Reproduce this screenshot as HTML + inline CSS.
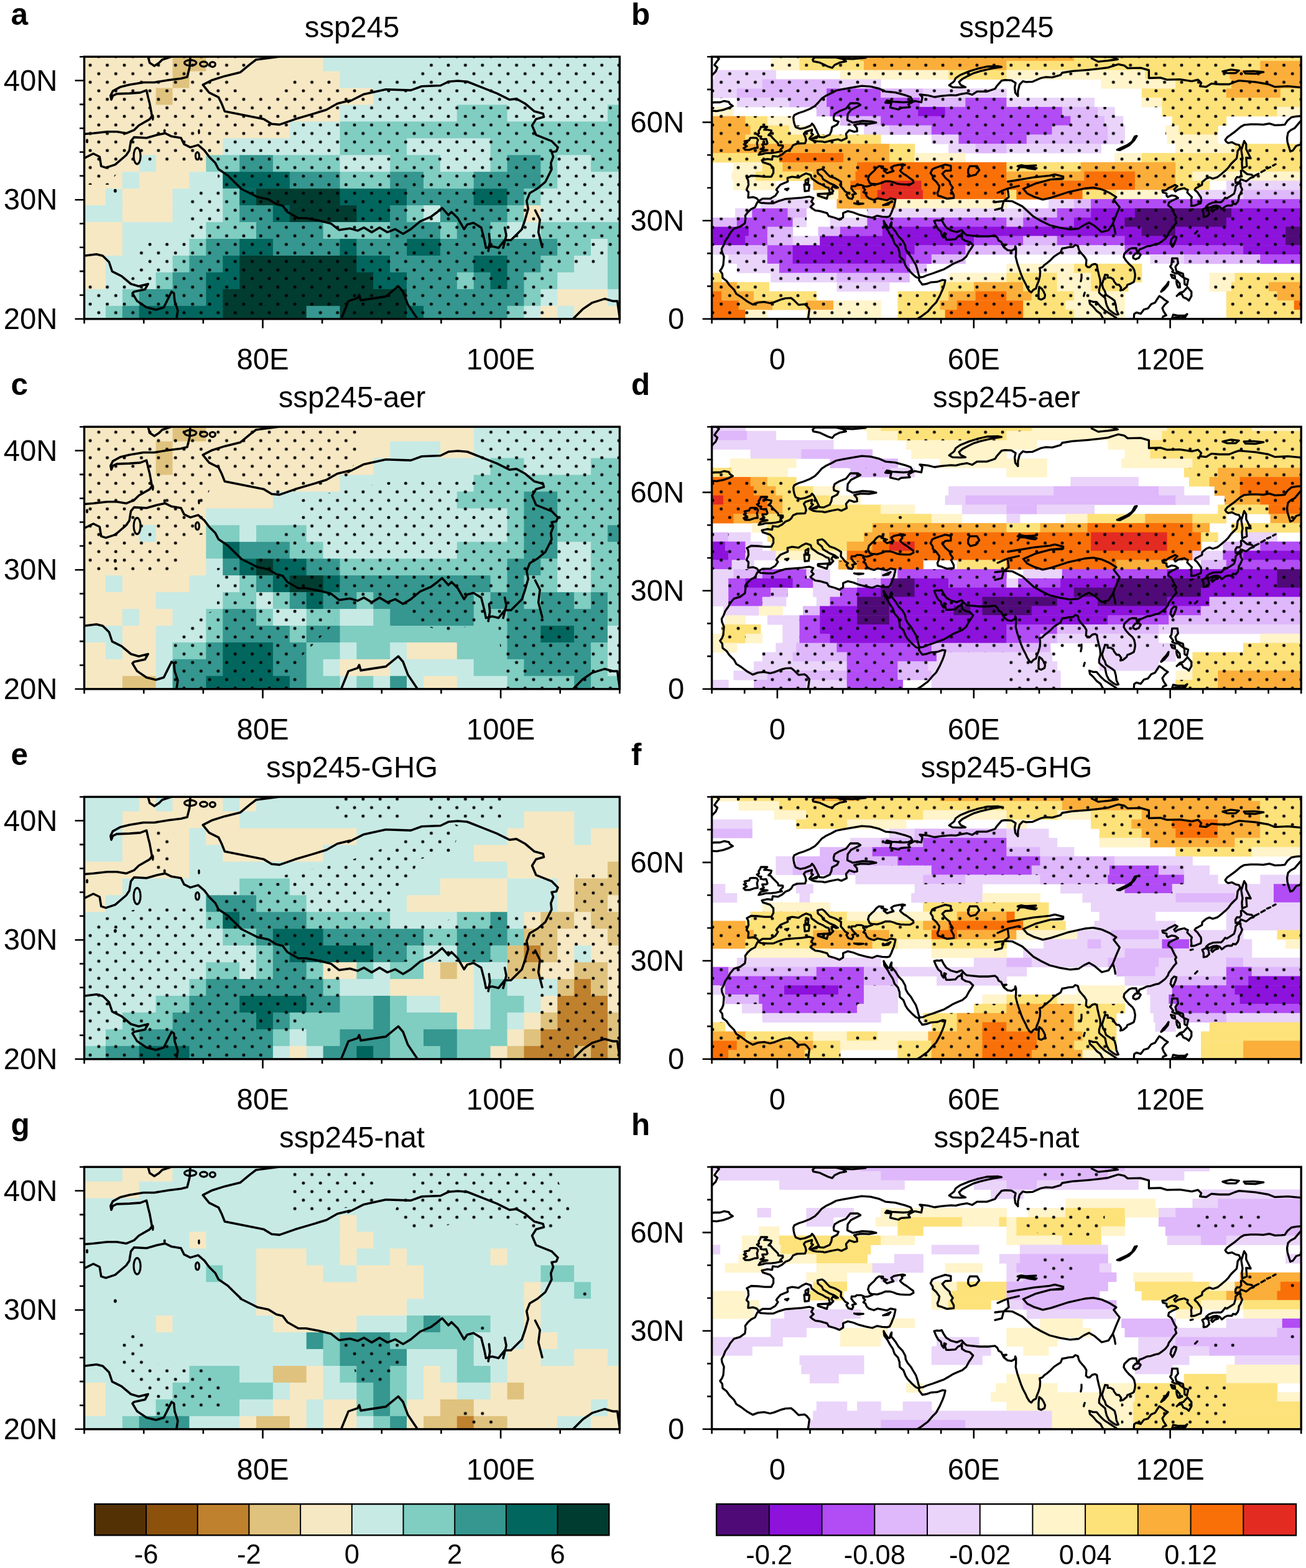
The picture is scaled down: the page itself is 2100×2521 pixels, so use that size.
<!DOCTYPE html><html><head><meta charset="utf-8"><title>figure</title>
<style>html,body{margin:0;padding:0;background:#fff;}svg{display:block}</style></head><body>
<svg width="2100" height="2521" viewBox="0 0 2100 2521">
<rect width="2100" height="2521" fill="#fff"/>
<defs>
<pattern id="dots" patternUnits="userSpaceOnUse" x="145.1" y="104.8" width="27.42" height="27.44"><circle cx="0" cy="0" r="2.45"/><circle cx="27.42" cy="0" r="2.45"/><circle cx="0" cy="27.44" r="2.45"/><circle cx="27.42" cy="27.44" r="2.45"/><circle cx="13.71" cy="13.72" r="2.45"/></pattern>
</defs>
<rect x="135.5" y="91.2" width="142.6" height="24" fill="#f6e8c3"/>
<rect x="277.5" y="91.2" width="54.4" height="24" fill="#dfc27d"/>
<rect x="331.3" y="91.2" width="188.9" height="24" fill="#f6e8c3"/>
<rect x="519.6" y="91.2" width="477.4" height="24" fill="#c7eae5"/>
<rect x="135.5" y="114.6" width="142.6" height="27.5" fill="#f6e8c3"/>
<rect x="277.5" y="114.6" width="27.5" height="27.5" fill="#dfc27d"/>
<rect x="304.4" y="114.6" width="242.7" height="27.5" fill="#f6e8c3"/>
<rect x="546.5" y="114.6" width="450.5" height="27.5" fill="#c7eae5"/>
<rect x="135.5" y="141.5" width="115.7" height="27.5" fill="#f6e8c3"/>
<rect x="250.6" y="141.5" width="27.5" height="27.5" fill="#dfc27d"/>
<rect x="277.5" y="141.5" width="323.4" height="27.5" fill="#f6e8c3"/>
<rect x="600.3" y="141.5" width="396.7" height="27.5" fill="#c7eae5"/>
<rect x="135.5" y="168.5" width="411.6" height="27.5" fill="#f6e8c3"/>
<rect x="546.5" y="168.5" width="188.9" height="27.5" fill="#c7eae5"/>
<rect x="734.8" y="168.5" width="81.3" height="27.5" fill="#80cdc1"/>
<rect x="815.6" y="168.5" width="162" height="27.5" fill="#c7eae5"/>
<rect x="977" y="168.5" width="20" height="27.5" fill="#80cdc1"/>
<rect x="135.5" y="195.4" width="330.9" height="27.5" fill="#f6e8c3"/>
<rect x="465.8" y="195.4" width="81.3" height="27.5" fill="#c7eae5"/>
<rect x="546.5" y="195.4" width="450.5" height="27.5" fill="#80cdc1"/>
<rect x="135.5" y="222.4" width="223.3" height="27.5" fill="#f6e8c3"/>
<rect x="358.2" y="222.4" width="188.9" height="27.5" fill="#c7eae5"/>
<rect x="546.5" y="222.4" width="108.2" height="27.5" fill="#80cdc1"/>
<rect x="654.1" y="222.4" width="135.1" height="27.5" fill="#c7eae5"/>
<rect x="788.6" y="222.4" width="208.4" height="27.5" fill="#80cdc1"/>
<rect x="135.5" y="249.3" width="88.8" height="27.5" fill="#f6e8c3"/>
<rect x="223.7" y="249.3" width="27.5" height="27.5" fill="#c7eae5"/>
<rect x="250.6" y="249.3" width="81.3" height="27.5" fill="#f6e8c3"/>
<rect x="331.3" y="249.3" width="54.4" height="27.5" fill="#80cdc1"/>
<rect x="385.1" y="249.3" width="54.4" height="27.5" fill="#35978f"/>
<rect x="438.9" y="249.3" width="108.2" height="27.5" fill="#80cdc1"/>
<rect x="546.5" y="249.3" width="81.3" height="27.5" fill="#c7eae5"/>
<rect x="627.2" y="249.3" width="81.3" height="27.5" fill="#80cdc1"/>
<rect x="707.9" y="249.3" width="81.3" height="27.5" fill="#c7eae5"/>
<rect x="788.6" y="249.3" width="27.5" height="27.5" fill="#80cdc1"/>
<rect x="815.6" y="249.3" width="54.4" height="27.5" fill="#35978f"/>
<rect x="869.4" y="249.3" width="27.5" height="27.5" fill="#80cdc1"/>
<rect x="896.3" y="249.3" width="54.4" height="27.5" fill="#c7eae5"/>
<rect x="950.1" y="249.3" width="46.9" height="27.5" fill="#80cdc1"/>
<rect x="135.5" y="276.2" width="61.9" height="27.5" fill="#f6e8c3"/>
<rect x="196.8" y="276.2" width="27.5" height="27.5" fill="#c7eae5"/>
<rect x="223.7" y="276.2" width="81.3" height="27.5" fill="#f6e8c3"/>
<rect x="304.4" y="276.2" width="54.4" height="27.5" fill="#c7eae5"/>
<rect x="358.2" y="276.2" width="108.2" height="27.5" fill="#01665e"/>
<rect x="465.8" y="276.2" width="81.3" height="27.5" fill="#35978f"/>
<rect x="546.5" y="276.2" width="81.3" height="27.5" fill="#80cdc1"/>
<rect x="627.2" y="276.2" width="54.4" height="27.5" fill="#35978f"/>
<rect x="681" y="276.2" width="81.3" height="27.5" fill="#80cdc1"/>
<rect x="761.7" y="276.2" width="108.2" height="27.5" fill="#35978f"/>
<rect x="869.4" y="276.2" width="27.5" height="27.5" fill="#80cdc1"/>
<rect x="896.3" y="276.2" width="100.7" height="27.5" fill="#c7eae5"/>
<rect x="135.5" y="303.2" width="35" height="27.5" fill="#f6e8c3"/>
<rect x="169.9" y="303.2" width="27.5" height="27.5" fill="#c7eae5"/>
<rect x="196.8" y="303.2" width="81.3" height="27.5" fill="#f6e8c3"/>
<rect x="277.5" y="303.2" width="81.3" height="27.5" fill="#c7eae5"/>
<rect x="358.2" y="303.2" width="27.5" height="27.5" fill="#80cdc1"/>
<rect x="385.1" y="303.2" width="27.5" height="27.5" fill="#01665e"/>
<rect x="412" y="303.2" width="135.1" height="27.5" fill="#003c30"/>
<rect x="546.5" y="303.2" width="108.2" height="27.5" fill="#01665e"/>
<rect x="654.1" y="303.2" width="108.2" height="27.5" fill="#35978f"/>
<rect x="761.7" y="303.2" width="54.4" height="27.5" fill="#01665e"/>
<rect x="815.6" y="303.2" width="27.5" height="27.5" fill="#35978f"/>
<rect x="842.5" y="303.2" width="27.5" height="27.5" fill="#80cdc1"/>
<rect x="869.4" y="303.2" width="127.6" height="27.5" fill="#c7eae5"/>
<rect x="135.5" y="330.1" width="61.9" height="27.5" fill="#c7eae5"/>
<rect x="196.8" y="330.1" width="81.3" height="27.5" fill="#f6e8c3"/>
<rect x="277.5" y="330.1" width="81.3" height="27.5" fill="#c7eae5"/>
<rect x="358.2" y="330.1" width="27.5" height="27.5" fill="#80cdc1"/>
<rect x="385.1" y="330.1" width="54.4" height="27.5" fill="#35978f"/>
<rect x="438.9" y="330.1" width="27.5" height="27.5" fill="#01665e"/>
<rect x="465.8" y="330.1" width="108.2" height="27.5" fill="#003c30"/>
<rect x="573.4" y="330.1" width="54.4" height="27.5" fill="#01665e"/>
<rect x="627.2" y="330.1" width="27.5" height="27.5" fill="#35978f"/>
<rect x="654.1" y="330.1" width="27.5" height="27.5" fill="#80cdc1"/>
<rect x="681" y="330.1" width="27.5" height="27.5" fill="#c7eae5"/>
<rect x="707.9" y="330.1" width="108.2" height="27.5" fill="#35978f"/>
<rect x="815.6" y="330.1" width="27.5" height="27.5" fill="#80cdc1"/>
<rect x="842.5" y="330.1" width="27.5" height="27.5" fill="#f6e8c3"/>
<rect x="869.4" y="330.1" width="127.6" height="27.5" fill="#c7eae5"/>
<rect x="135.5" y="357.1" width="61.9" height="27.5" fill="#f6e8c3"/>
<rect x="196.8" y="357.1" width="135.1" height="27.5" fill="#c7eae5"/>
<rect x="331.3" y="357.1" width="81.3" height="27.5" fill="#80cdc1"/>
<rect x="412" y="357.1" width="108.2" height="27.5" fill="#35978f"/>
<rect x="519.6" y="357.1" width="108.2" height="27.5" fill="#80cdc1"/>
<rect x="627.2" y="357.1" width="81.3" height="27.5" fill="#35978f"/>
<rect x="707.9" y="357.1" width="27.5" height="27.5" fill="#80cdc1"/>
<rect x="734.8" y="357.1" width="54.4" height="27.5" fill="#35978f"/>
<rect x="788.6" y="357.1" width="27.5" height="27.5" fill="#80cdc1"/>
<rect x="815.6" y="357.1" width="54.4" height="27.5" fill="#c7eae5"/>
<rect x="869.4" y="357.1" width="127.6" height="27.5" fill="#80cdc1"/>
<rect x="135.5" y="384" width="61.9" height="27.5" fill="#f6e8c3"/>
<rect x="196.8" y="384" width="108.2" height="27.5" fill="#c7eae5"/>
<rect x="304.4" y="384" width="27.5" height="27.5" fill="#80cdc1"/>
<rect x="331.3" y="384" width="54.4" height="27.5" fill="#35978f"/>
<rect x="385.1" y="384" width="54.4" height="27.5" fill="#01665e"/>
<rect x="438.9" y="384" width="108.2" height="27.5" fill="#35978f"/>
<rect x="546.5" y="384" width="27.5" height="27.5" fill="#01665e"/>
<rect x="573.4" y="384" width="81.3" height="27.5" fill="#35978f"/>
<rect x="654.1" y="384" width="54.4" height="27.5" fill="#01665e"/>
<rect x="707.9" y="384" width="188.9" height="27.5" fill="#35978f"/>
<rect x="896.3" y="384" width="54.4" height="27.5" fill="#80cdc1"/>
<rect x="950.1" y="384" width="27.5" height="27.5" fill="#c7eae5"/>
<rect x="977" y="384" width="20" height="27.5" fill="#80cdc1"/>
<rect x="135.5" y="411" width="35" height="27.5" fill="#f6e8c3"/>
<rect x="169.9" y="411" width="108.2" height="27.5" fill="#c7eae5"/>
<rect x="277.5" y="411" width="27.5" height="27.5" fill="#80cdc1"/>
<rect x="304.4" y="411" width="54.4" height="27.5" fill="#35978f"/>
<rect x="358.2" y="411" width="27.5" height="27.5" fill="#01665e"/>
<rect x="385.1" y="411" width="188.9" height="27.5" fill="#003c30"/>
<rect x="573.4" y="411" width="54.4" height="27.5" fill="#01665e"/>
<rect x="627.2" y="411" width="135.1" height="27.5" fill="#35978f"/>
<rect x="761.7" y="411" width="54.4" height="27.5" fill="#01665e"/>
<rect x="815.6" y="411" width="54.4" height="27.5" fill="#35978f"/>
<rect x="869.4" y="411" width="54.4" height="27.5" fill="#80cdc1"/>
<rect x="923.2" y="411" width="54.4" height="27.5" fill="#c7eae5"/>
<rect x="977" y="411" width="20" height="27.5" fill="#80cdc1"/>
<rect x="135.5" y="437.9" width="35" height="27.5" fill="#f6e8c3"/>
<rect x="169.9" y="437.9" width="81.3" height="27.5" fill="#c7eae5"/>
<rect x="250.6" y="437.9" width="27.5" height="27.5" fill="#80cdc1"/>
<rect x="277.5" y="437.9" width="54.4" height="27.5" fill="#35978f"/>
<rect x="331.3" y="437.9" width="54.4" height="27.5" fill="#01665e"/>
<rect x="385.1" y="437.9" width="215.8" height="27.5" fill="#003c30"/>
<rect x="600.3" y="437.9" width="54.4" height="27.5" fill="#01665e"/>
<rect x="654.1" y="437.9" width="81.3" height="27.5" fill="#35978f"/>
<rect x="734.8" y="437.9" width="27.5" height="27.5" fill="#80cdc1"/>
<rect x="761.7" y="437.9" width="27.5" height="27.5" fill="#35978f"/>
<rect x="788.6" y="437.9" width="27.5" height="27.5" fill="#01665e"/>
<rect x="815.6" y="437.9" width="27.5" height="27.5" fill="#35978f"/>
<rect x="842.5" y="437.9" width="54.4" height="27.5" fill="#80cdc1"/>
<rect x="896.3" y="437.9" width="81.3" height="27.5" fill="#c7eae5"/>
<rect x="977" y="437.9" width="20" height="27.5" fill="#80cdc1"/>
<rect x="135.5" y="464.9" width="61.9" height="27.5" fill="#c7eae5"/>
<rect x="196.8" y="464.9" width="27.5" height="27.5" fill="#80cdc1"/>
<rect x="223.7" y="464.9" width="108.2" height="27.5" fill="#35978f"/>
<rect x="331.3" y="464.9" width="27.5" height="27.5" fill="#01665e"/>
<rect x="358.2" y="464.9" width="296.5" height="27.5" fill="#003c30"/>
<rect x="654.1" y="464.9" width="188.9" height="27.5" fill="#35978f"/>
<rect x="842.5" y="464.9" width="27.5" height="27.5" fill="#80cdc1"/>
<rect x="869.4" y="464.9" width="27.5" height="27.5" fill="#c7eae5"/>
<rect x="896.3" y="464.9" width="81.3" height="27.5" fill="#f6e8c3"/>
<rect x="977" y="464.9" width="20" height="27.5" fill="#c7eae5"/>
<rect x="135.5" y="491.8" width="35" height="21.6" fill="#c7eae5"/>
<rect x="169.9" y="491.8" width="27.5" height="21.6" fill="#80cdc1"/>
<rect x="196.8" y="491.8" width="27.5" height="21.6" fill="#35978f"/>
<rect x="223.7" y="491.8" width="135.1" height="21.6" fill="#01665e"/>
<rect x="358.2" y="491.8" width="135.1" height="21.6" fill="#003c30"/>
<rect x="492.7" y="491.8" width="54.4" height="21.6" fill="#35978f"/>
<rect x="546.5" y="491.8" width="108.2" height="21.6" fill="#003c30"/>
<rect x="654.1" y="491.8" width="27.5" height="21.6" fill="#01665e"/>
<rect x="681" y="491.8" width="135.1" height="21.6" fill="#35978f"/>
<rect x="815.6" y="491.8" width="27.5" height="21.6" fill="#80cdc1"/>
<rect x="842.5" y="491.8" width="27.5" height="21.6" fill="#c7eae5"/>
<rect x="869.4" y="491.8" width="27.5" height="21.6" fill="#f6e8c3"/>
<rect x="896.3" y="491.8" width="27.5" height="21.6" fill="#c7eae5"/>
<rect x="923.2" y="491.8" width="73.8" height="21.6" fill="#f6e8c3"/>
<mask id="mL0" maskUnits="userSpaceOnUse" x="0" y="0" width="2100" height="2521">
<polygon points="130,86 1002,86 1002,520 130,520" fill="#fff"/>
<polygon points="405,91 700,91 680,113 668,126 604,126 604,140 542,140 542,126 466,126 452,153 390,153 384,140 370,126 372,113 405,108" fill="#000"/>
<polygon points="135,297 175,297 200,262 350,262 350,303 300,303 300,386 225,386 220,440 205,452 135,452" fill="#000"/>
<polygon points="997,412 960,412 960,428 900,428 895,444 893,513 997,513" fill="#000"/>
</mask>
<rect x="135.5" y="91.2" width="860.9" height="421.6" fill="url(#dots)" mask="url(#mL0)"/>
<rect x="135.5" y="686.2" width="142.6" height="24" fill="#f6e8c3"/>
<rect x="277.5" y="686.2" width="54.4" height="24" fill="#dfc27d"/>
<rect x="331.3" y="686.2" width="431" height="24" fill="#f6e8c3"/>
<rect x="761.7" y="686.2" width="235.3" height="24" fill="#c7eae5"/>
<rect x="135.5" y="709.6" width="115.7" height="27.5" fill="#f6e8c3"/>
<rect x="250.6" y="709.6" width="27.5" height="27.5" fill="#dfc27d"/>
<rect x="277.5" y="709.6" width="350.3" height="27.5" fill="#f6e8c3"/>
<rect x="627.2" y="709.6" width="81.3" height="27.5" fill="#c7eae5"/>
<rect x="707.9" y="709.6" width="54.4" height="27.5" fill="#f6e8c3"/>
<rect x="761.7" y="709.6" width="235.3" height="27.5" fill="#c7eae5"/>
<rect x="135.5" y="736.5" width="115.7" height="27.5" fill="#f6e8c3"/>
<rect x="250.6" y="736.5" width="27.5" height="27.5" fill="#dfc27d"/>
<rect x="277.5" y="736.5" width="323.4" height="27.5" fill="#f6e8c3"/>
<rect x="600.3" y="736.5" width="188.9" height="27.5" fill="#c7eae5"/>
<rect x="788.6" y="736.5" width="54.4" height="27.5" fill="#80cdc1"/>
<rect x="842.5" y="736.5" width="108.2" height="27.5" fill="#c7eae5"/>
<rect x="950.1" y="736.5" width="46.9" height="27.5" fill="#80cdc1"/>
<rect x="135.5" y="763.5" width="411.6" height="27.5" fill="#f6e8c3"/>
<rect x="546.5" y="763.5" width="215.8" height="27.5" fill="#c7eae5"/>
<rect x="761.7" y="763.5" width="235.3" height="27.5" fill="#80cdc1"/>
<rect x="135.5" y="790.4" width="304" height="27.5" fill="#f6e8c3"/>
<rect x="438.9" y="790.4" width="296.5" height="27.5" fill="#c7eae5"/>
<rect x="734.8" y="790.4" width="108.2" height="27.5" fill="#80cdc1"/>
<rect x="842.5" y="790.4" width="54.4" height="27.5" fill="#35978f"/>
<rect x="896.3" y="790.4" width="100.7" height="27.5" fill="#80cdc1"/>
<rect x="135.5" y="817.4" width="196.4" height="27.5" fill="#f6e8c3"/>
<rect x="331.3" y="817.4" width="484.9" height="27.5" fill="#c7eae5"/>
<rect x="815.6" y="817.4" width="27.5" height="27.5" fill="#80cdc1"/>
<rect x="842.5" y="817.4" width="54.4" height="27.5" fill="#35978f"/>
<rect x="896.3" y="817.4" width="100.7" height="27.5" fill="#80cdc1"/>
<rect x="135.5" y="844.3" width="88.8" height="27.5" fill="#f6e8c3"/>
<rect x="223.7" y="844.3" width="27.5" height="27.5" fill="#c7eae5"/>
<rect x="250.6" y="844.3" width="81.3" height="27.5" fill="#f6e8c3"/>
<rect x="331.3" y="844.3" width="54.4" height="27.5" fill="#80cdc1"/>
<rect x="385.1" y="844.3" width="27.5" height="27.5" fill="#c7eae5"/>
<rect x="412" y="844.3" width="81.3" height="27.5" fill="#80cdc1"/>
<rect x="492.7" y="844.3" width="323.4" height="27.5" fill="#c7eae5"/>
<rect x="815.6" y="844.3" width="27.5" height="27.5" fill="#80cdc1"/>
<rect x="842.5" y="844.3" width="54.4" height="27.5" fill="#35978f"/>
<rect x="896.3" y="844.3" width="81.3" height="27.5" fill="#80cdc1"/>
<rect x="977" y="844.3" width="20" height="27.5" fill="#35978f"/>
<rect x="135.5" y="871.2" width="196.4" height="27.5" fill="#f6e8c3"/>
<rect x="331.3" y="871.2" width="27.5" height="27.5" fill="#80cdc1"/>
<rect x="358.2" y="871.2" width="27.5" height="27.5" fill="#01665e"/>
<rect x="385.1" y="871.2" width="81.3" height="27.5" fill="#35978f"/>
<rect x="465.8" y="871.2" width="54.4" height="27.5" fill="#80cdc1"/>
<rect x="519.6" y="871.2" width="215.8" height="27.5" fill="#c7eae5"/>
<rect x="734.8" y="871.2" width="108.2" height="27.5" fill="#80cdc1"/>
<rect x="842.5" y="871.2" width="54.4" height="27.5" fill="#35978f"/>
<rect x="896.3" y="871.2" width="54.4" height="27.5" fill="#c7eae5"/>
<rect x="950.1" y="871.2" width="46.9" height="27.5" fill="#80cdc1"/>
<rect x="135.5" y="898.2" width="196.4" height="27.5" fill="#f6e8c3"/>
<rect x="331.3" y="898.2" width="27.5" height="27.5" fill="#c7eae5"/>
<rect x="358.2" y="898.2" width="27.5" height="27.5" fill="#35978f"/>
<rect x="385.1" y="898.2" width="27.5" height="27.5" fill="#01665e"/>
<rect x="412" y="898.2" width="27.5" height="27.5" fill="#003c30"/>
<rect x="438.9" y="898.2" width="54.4" height="27.5" fill="#01665e"/>
<rect x="492.7" y="898.2" width="54.4" height="27.5" fill="#35978f"/>
<rect x="546.5" y="898.2" width="269.6" height="27.5" fill="#80cdc1"/>
<rect x="815.6" y="898.2" width="54.4" height="27.5" fill="#35978f"/>
<rect x="869.4" y="898.2" width="27.5" height="27.5" fill="#80cdc1"/>
<rect x="896.3" y="898.2" width="54.4" height="27.5" fill="#c7eae5"/>
<rect x="950.1" y="898.2" width="46.9" height="27.5" fill="#80cdc1"/>
<rect x="135.5" y="925.1" width="35" height="27.5" fill="#f6e8c3"/>
<rect x="169.9" y="925.1" width="27.5" height="27.5" fill="#c7eae5"/>
<rect x="196.8" y="925.1" width="108.2" height="27.5" fill="#f6e8c3"/>
<rect x="304.4" y="925.1" width="81.3" height="27.5" fill="#c7eae5"/>
<rect x="385.1" y="925.1" width="27.5" height="27.5" fill="#80cdc1"/>
<rect x="412" y="925.1" width="27.5" height="27.5" fill="#35978f"/>
<rect x="438.9" y="925.1" width="27.5" height="27.5" fill="#01665e"/>
<rect x="465.8" y="925.1" width="54.4" height="27.5" fill="#003c30"/>
<rect x="519.6" y="925.1" width="27.5" height="27.5" fill="#01665e"/>
<rect x="546.5" y="925.1" width="242.7" height="27.5" fill="#35978f"/>
<rect x="788.6" y="925.1" width="27.5" height="27.5" fill="#80cdc1"/>
<rect x="815.6" y="925.1" width="27.5" height="27.5" fill="#35978f"/>
<rect x="842.5" y="925.1" width="54.4" height="27.5" fill="#80cdc1"/>
<rect x="896.3" y="925.1" width="54.4" height="27.5" fill="#c7eae5"/>
<rect x="950.1" y="925.1" width="46.9" height="27.5" fill="#80cdc1"/>
<rect x="135.5" y="952.1" width="115.7" height="27.5" fill="#f6e8c3"/>
<rect x="250.6" y="952.1" width="108.2" height="27.5" fill="#c7eae5"/>
<rect x="358.2" y="952.1" width="54.4" height="27.5" fill="#80cdc1"/>
<rect x="412" y="952.1" width="27.5" height="27.5" fill="#c7eae5"/>
<rect x="438.9" y="952.1" width="27.5" height="27.5" fill="#80cdc1"/>
<rect x="465.8" y="952.1" width="27.5" height="27.5" fill="#35978f"/>
<rect x="492.7" y="952.1" width="27.5" height="27.5" fill="#01665e"/>
<rect x="519.6" y="952.1" width="54.4" height="27.5" fill="#35978f"/>
<rect x="573.4" y="952.1" width="27.5" height="27.5" fill="#80cdc1"/>
<rect x="600.3" y="952.1" width="162" height="27.5" fill="#35978f"/>
<rect x="761.7" y="952.1" width="27.5" height="27.5" fill="#80cdc1"/>
<rect x="788.6" y="952.1" width="54.4" height="27.5" fill="#35978f"/>
<rect x="842.5" y="952.1" width="27.5" height="27.5" fill="#80cdc1"/>
<rect x="869.4" y="952.1" width="54.4" height="27.5" fill="#35978f"/>
<rect x="923.2" y="952.1" width="27.5" height="27.5" fill="#80cdc1"/>
<rect x="950.1" y="952.1" width="27.5" height="27.5" fill="#35978f"/>
<rect x="977" y="952.1" width="20" height="27.5" fill="#80cdc1"/>
<rect x="135.5" y="979" width="61.9" height="27.5" fill="#f6e8c3"/>
<rect x="196.8" y="979" width="27.5" height="27.5" fill="#c7eae5"/>
<rect x="223.7" y="979" width="54.4" height="27.5" fill="#f6e8c3"/>
<rect x="277.5" y="979" width="54.4" height="27.5" fill="#c7eae5"/>
<rect x="331.3" y="979" width="27.5" height="27.5" fill="#80cdc1"/>
<rect x="358.2" y="979" width="54.4" height="27.5" fill="#35978f"/>
<rect x="412" y="979" width="27.5" height="27.5" fill="#80cdc1"/>
<rect x="438.9" y="979" width="54.4" height="27.5" fill="#c7eae5"/>
<rect x="492.7" y="979" width="54.4" height="27.5" fill="#80cdc1"/>
<rect x="546.5" y="979" width="54.4" height="27.5" fill="#c7eae5"/>
<rect x="600.3" y="979" width="27.5" height="27.5" fill="#80cdc1"/>
<rect x="627.2" y="979" width="135.1" height="27.5" fill="#35978f"/>
<rect x="761.7" y="979" width="54.4" height="27.5" fill="#80cdc1"/>
<rect x="815.6" y="979" width="162" height="27.5" fill="#35978f"/>
<rect x="977" y="979" width="20" height="27.5" fill="#80cdc1"/>
<rect x="135.5" y="1006" width="61.9" height="27.5" fill="#c7eae5"/>
<rect x="196.8" y="1006" width="54.4" height="27.5" fill="#f6e8c3"/>
<rect x="250.6" y="1006" width="81.3" height="27.5" fill="#c7eae5"/>
<rect x="331.3" y="1006" width="27.5" height="27.5" fill="#80cdc1"/>
<rect x="358.2" y="1006" width="108.2" height="27.5" fill="#35978f"/>
<rect x="465.8" y="1006" width="27.5" height="27.5" fill="#80cdc1"/>
<rect x="492.7" y="1006" width="54.4" height="27.5" fill="#35978f"/>
<rect x="546.5" y="1006" width="269.6" height="27.5" fill="#80cdc1"/>
<rect x="815.6" y="1006" width="54.4" height="27.5" fill="#35978f"/>
<rect x="869.4" y="1006" width="54.4" height="27.5" fill="#01665e"/>
<rect x="923.2" y="1006" width="54.4" height="27.5" fill="#35978f"/>
<rect x="977" y="1006" width="20" height="27.5" fill="#c7eae5"/>
<rect x="135.5" y="1032.9" width="35" height="27.5" fill="#f6e8c3"/>
<rect x="169.9" y="1032.9" width="27.5" height="27.5" fill="#c7eae5"/>
<rect x="196.8" y="1032.9" width="54.4" height="27.5" fill="#f6e8c3"/>
<rect x="250.6" y="1032.9" width="27.5" height="27.5" fill="#c7eae5"/>
<rect x="277.5" y="1032.9" width="54.4" height="27.5" fill="#80cdc1"/>
<rect x="331.3" y="1032.9" width="27.5" height="27.5" fill="#35978f"/>
<rect x="358.2" y="1032.9" width="81.3" height="27.5" fill="#01665e"/>
<rect x="438.9" y="1032.9" width="54.4" height="27.5" fill="#35978f"/>
<rect x="492.7" y="1032.9" width="54.4" height="27.5" fill="#80cdc1"/>
<rect x="546.5" y="1032.9" width="27.5" height="27.5" fill="#c7eae5"/>
<rect x="573.4" y="1032.9" width="54.4" height="27.5" fill="#80cdc1"/>
<rect x="627.2" y="1032.9" width="27.5" height="27.5" fill="#c7eae5"/>
<rect x="654.1" y="1032.9" width="81.3" height="27.5" fill="#f6e8c3"/>
<rect x="734.8" y="1032.9" width="81.3" height="27.5" fill="#80cdc1"/>
<rect x="815.6" y="1032.9" width="135.1" height="27.5" fill="#35978f"/>
<rect x="950.1" y="1032.9" width="27.5" height="27.5" fill="#80cdc1"/>
<rect x="977" y="1032.9" width="20" height="27.5" fill="#c7eae5"/>
<rect x="135.5" y="1059.9" width="115.7" height="27.5" fill="#f6e8c3"/>
<rect x="250.6" y="1059.9" width="27.5" height="27.5" fill="#c7eae5"/>
<rect x="277.5" y="1059.9" width="81.3" height="27.5" fill="#35978f"/>
<rect x="358.2" y="1059.9" width="81.3" height="27.5" fill="#01665e"/>
<rect x="438.9" y="1059.9" width="54.4" height="27.5" fill="#35978f"/>
<rect x="492.7" y="1059.9" width="27.5" height="27.5" fill="#80cdc1"/>
<rect x="519.6" y="1059.9" width="27.5" height="27.5" fill="#c7eae5"/>
<rect x="546.5" y="1059.9" width="81.3" height="27.5" fill="#f6e8c3"/>
<rect x="627.2" y="1059.9" width="135.1" height="27.5" fill="#c7eae5"/>
<rect x="761.7" y="1059.9" width="81.3" height="27.5" fill="#80cdc1"/>
<rect x="842.5" y="1059.9" width="108.2" height="27.5" fill="#35978f"/>
<rect x="950.1" y="1059.9" width="27.5" height="27.5" fill="#80cdc1"/>
<rect x="977" y="1059.9" width="20" height="27.5" fill="#c7eae5"/>
<rect x="135.5" y="1086.8" width="61.9" height="21.6" fill="#f6e8c3"/>
<rect x="196.8" y="1086.8" width="54.4" height="21.6" fill="#dfc27d"/>
<rect x="250.6" y="1086.8" width="27.5" height="21.6" fill="#c7eae5"/>
<rect x="277.5" y="1086.8" width="54.4" height="21.6" fill="#35978f"/>
<rect x="331.3" y="1086.8" width="135.1" height="21.6" fill="#01665e"/>
<rect x="465.8" y="1086.8" width="27.5" height="21.6" fill="#35978f"/>
<rect x="492.7" y="1086.8" width="54.4" height="21.6" fill="#80cdc1"/>
<rect x="546.5" y="1086.8" width="27.5" height="21.6" fill="#c7eae5"/>
<rect x="573.4" y="1086.8" width="27.5" height="21.6" fill="#80cdc1"/>
<rect x="600.3" y="1086.8" width="27.5" height="21.6" fill="#c7eae5"/>
<rect x="627.2" y="1086.8" width="27.5" height="21.6" fill="#35978f"/>
<rect x="654.1" y="1086.8" width="27.5" height="21.6" fill="#c7eae5"/>
<rect x="681" y="1086.8" width="54.4" height="21.6" fill="#f6e8c3"/>
<rect x="734.8" y="1086.8" width="81.3" height="21.6" fill="#c7eae5"/>
<rect x="815.6" y="1086.8" width="108.2" height="21.6" fill="#80cdc1"/>
<rect x="923.2" y="1086.8" width="27.5" height="21.6" fill="#35978f"/>
<rect x="950.1" y="1086.8" width="46.9" height="21.6" fill="#80cdc1"/>
<mask id="mL1" maskUnits="userSpaceOnUse" x="0" y="0" width="2100" height="2521">
<polygon points="136,686 575.2,686 575.2,734.7 557.8,769.5 443.4,796.9 353.8,754.6 329,804.4 329,859.1 289.2,864.1 289.2,918.8 136,918.8" fill="#fff"/>
<polygon points="771.7,686 995.5,686 995.5,1108.8 279.2,1108.8 279.2,1028.2 319,993.4 348.9,978.5 348.9,913.8 408.6,898.9 478.2,829.2 478.2,804.4 552.8,786.9 627.4,774.5 771.7,769.5" fill="#fff"/>
<polygon points="540,978 655,978 680,1005 720,1018 800,990 810,1110 480,1110 480,1060 510,1030 540,1000" fill="#000"/>
</mask>
<rect x="135.5" y="686.2" width="860.9" height="421.6" fill="url(#dots)" mask="url(#mL1)"/>
<rect x="135.5" y="1281.2" width="88.8" height="24" fill="#c7eae5"/>
<rect x="223.7" y="1281.2" width="27.5" height="24" fill="#f6e8c3"/>
<rect x="250.6" y="1281.2" width="27.5" height="24" fill="#c7eae5"/>
<rect x="277.5" y="1281.2" width="81.3" height="24" fill="#f6e8c3"/>
<rect x="358.2" y="1281.2" width="27.5" height="24" fill="#c7eae5"/>
<rect x="385.1" y="1281.2" width="27.5" height="24" fill="#f6e8c3"/>
<rect x="412" y="1281.2" width="585" height="24" fill="#c7eae5"/>
<rect x="135.5" y="1304.6" width="61.9" height="27.5" fill="#c7eae5"/>
<rect x="196.8" y="1304.6" width="188.9" height="27.5" fill="#f6e8c3"/>
<rect x="385.1" y="1304.6" width="458" height="27.5" fill="#c7eae5"/>
<rect x="842.5" y="1304.6" width="81.3" height="27.5" fill="#f6e8c3"/>
<rect x="923.2" y="1304.6" width="73.8" height="27.5" fill="#c7eae5"/>
<rect x="135.5" y="1331.5" width="61.9" height="27.5" fill="#c7eae5"/>
<rect x="196.8" y="1331.5" width="108.2" height="27.5" fill="#f6e8c3"/>
<rect x="304.4" y="1331.5" width="27.5" height="27.5" fill="#c7eae5"/>
<rect x="331.3" y="1331.5" width="242.7" height="27.5" fill="#f6e8c3"/>
<rect x="573.4" y="1331.5" width="242.7" height="27.5" fill="#c7eae5"/>
<rect x="815.6" y="1331.5" width="108.2" height="27.5" fill="#f6e8c3"/>
<rect x="923.2" y="1331.5" width="27.5" height="27.5" fill="#c7eae5"/>
<rect x="950.1" y="1331.5" width="46.9" height="27.5" fill="#f6e8c3"/>
<rect x="135.5" y="1358.5" width="61.9" height="27.5" fill="#c7eae5"/>
<rect x="196.8" y="1358.5" width="108.2" height="27.5" fill="#f6e8c3"/>
<rect x="304.4" y="1358.5" width="54.4" height="27.5" fill="#c7eae5"/>
<rect x="358.2" y="1358.5" width="162" height="27.5" fill="#f6e8c3"/>
<rect x="519.6" y="1358.5" width="242.7" height="27.5" fill="#c7eae5"/>
<rect x="761.7" y="1358.5" width="235.3" height="27.5" fill="#f6e8c3"/>
<rect x="135.5" y="1385.4" width="169.5" height="27.5" fill="#f6e8c3"/>
<rect x="304.4" y="1385.4" width="511.8" height="27.5" fill="#c7eae5"/>
<rect x="815.6" y="1385.4" width="162" height="27.5" fill="#f6e8c3"/>
<rect x="977" y="1385.4" width="20" height="27.5" fill="#dfc27d"/>
<rect x="135.5" y="1412.4" width="61.9" height="27.5" fill="#f6e8c3"/>
<rect x="196.8" y="1412.4" width="188.9" height="27.5" fill="#c7eae5"/>
<rect x="385.1" y="1412.4" width="81.3" height="27.5" fill="#80cdc1"/>
<rect x="465.8" y="1412.4" width="242.7" height="27.5" fill="#c7eae5"/>
<rect x="707.9" y="1412.4" width="108.2" height="27.5" fill="#f6e8c3"/>
<rect x="815.6" y="1412.4" width="81.3" height="27.5" fill="#c7eae5"/>
<rect x="896.3" y="1412.4" width="27.5" height="27.5" fill="#f6e8c3"/>
<rect x="923.2" y="1412.4" width="73.8" height="27.5" fill="#dfc27d"/>
<rect x="135.5" y="1439.3" width="35" height="27.5" fill="#f6e8c3"/>
<rect x="169.9" y="1439.3" width="162" height="27.5" fill="#c7eae5"/>
<rect x="331.3" y="1439.3" width="81.3" height="27.5" fill="#35978f"/>
<rect x="412" y="1439.3" width="81.3" height="27.5" fill="#80cdc1"/>
<rect x="492.7" y="1439.3" width="162" height="27.5" fill="#c7eae5"/>
<rect x="654.1" y="1439.3" width="162" height="27.5" fill="#f6e8c3"/>
<rect x="815.6" y="1439.3" width="81.3" height="27.5" fill="#c7eae5"/>
<rect x="896.3" y="1439.3" width="27.5" height="27.5" fill="#f6e8c3"/>
<rect x="923.2" y="1439.3" width="54.4" height="27.5" fill="#dfc27d"/>
<rect x="977" y="1439.3" width="20" height="27.5" fill="#f6e8c3"/>
<rect x="135.5" y="1466.2" width="196.4" height="27.5" fill="#c7eae5"/>
<rect x="331.3" y="1466.2" width="27.5" height="27.5" fill="#80cdc1"/>
<rect x="358.2" y="1466.2" width="27.5" height="27.5" fill="#01665e"/>
<rect x="385.1" y="1466.2" width="108.2" height="27.5" fill="#35978f"/>
<rect x="492.7" y="1466.2" width="135.1" height="27.5" fill="#80cdc1"/>
<rect x="627.2" y="1466.2" width="108.2" height="27.5" fill="#c7eae5"/>
<rect x="734.8" y="1466.2" width="54.4" height="27.5" fill="#80cdc1"/>
<rect x="788.6" y="1466.2" width="27.5" height="27.5" fill="#35978f"/>
<rect x="815.6" y="1466.2" width="27.5" height="27.5" fill="#c7eae5"/>
<rect x="842.5" y="1466.2" width="27.5" height="27.5" fill="#f6e8c3"/>
<rect x="869.4" y="1466.2" width="54.4" height="27.5" fill="#dfc27d"/>
<rect x="923.2" y="1466.2" width="27.5" height="27.5" fill="#f6e8c3"/>
<rect x="950.1" y="1466.2" width="46.9" height="27.5" fill="#dfc27d"/>
<rect x="135.5" y="1493.2" width="223.3" height="27.5" fill="#c7eae5"/>
<rect x="358.2" y="1493.2" width="54.4" height="27.5" fill="#80cdc1"/>
<rect x="412" y="1493.2" width="27.5" height="27.5" fill="#35978f"/>
<rect x="438.9" y="1493.2" width="81.3" height="27.5" fill="#01665e"/>
<rect x="519.6" y="1493.2" width="162" height="27.5" fill="#35978f"/>
<rect x="681" y="1493.2" width="54.4" height="27.5" fill="#80cdc1"/>
<rect x="734.8" y="1493.2" width="81.3" height="27.5" fill="#35978f"/>
<rect x="815.6" y="1493.2" width="27.5" height="27.5" fill="#80cdc1"/>
<rect x="842.5" y="1493.2" width="54.4" height="27.5" fill="#dfc27d"/>
<rect x="896.3" y="1493.2" width="81.3" height="27.5" fill="#f6e8c3"/>
<rect x="977" y="1493.2" width="20" height="27.5" fill="#dfc27d"/>
<rect x="135.5" y="1520.1" width="277.1" height="27.5" fill="#c7eae5"/>
<rect x="412" y="1520.1" width="27.5" height="27.5" fill="#80cdc1"/>
<rect x="438.9" y="1520.1" width="27.5" height="27.5" fill="#35978f"/>
<rect x="465.8" y="1520.1" width="135.1" height="27.5" fill="#01665e"/>
<rect x="600.3" y="1520.1" width="54.4" height="27.5" fill="#35978f"/>
<rect x="654.1" y="1520.1" width="27.5" height="27.5" fill="#80cdc1"/>
<rect x="681" y="1520.1" width="54.4" height="27.5" fill="#c7eae5"/>
<rect x="734.8" y="1520.1" width="54.4" height="27.5" fill="#35978f"/>
<rect x="788.6" y="1520.1" width="27.5" height="27.5" fill="#80cdc1"/>
<rect x="815.6" y="1520.1" width="27.5" height="27.5" fill="#dfc27d"/>
<rect x="842.5" y="1520.1" width="27.5" height="27.5" fill="#bf812d"/>
<rect x="869.4" y="1520.1" width="27.5" height="27.5" fill="#dfc27d"/>
<rect x="896.3" y="1520.1" width="27.5" height="27.5" fill="#f6e8c3"/>
<rect x="923.2" y="1520.1" width="27.5" height="27.5" fill="#c7eae5"/>
<rect x="950.1" y="1520.1" width="46.9" height="27.5" fill="#f6e8c3"/>
<rect x="135.5" y="1547.1" width="196.4" height="27.5" fill="#c7eae5"/>
<rect x="331.3" y="1547.1" width="54.4" height="27.5" fill="#80cdc1"/>
<rect x="385.1" y="1547.1" width="27.5" height="27.5" fill="#c7eae5"/>
<rect x="412" y="1547.1" width="27.5" height="27.5" fill="#80cdc1"/>
<rect x="438.9" y="1547.1" width="54.4" height="27.5" fill="#35978f"/>
<rect x="492.7" y="1547.1" width="27.5" height="27.5" fill="#80cdc1"/>
<rect x="519.6" y="1547.1" width="54.4" height="27.5" fill="#f6e8c3"/>
<rect x="573.4" y="1547.1" width="27.5" height="27.5" fill="#80cdc1"/>
<rect x="600.3" y="1547.1" width="27.5" height="27.5" fill="#c7eae5"/>
<rect x="627.2" y="1547.1" width="54.4" height="27.5" fill="#80cdc1"/>
<rect x="681" y="1547.1" width="27.5" height="27.5" fill="#f6e8c3"/>
<rect x="707.9" y="1547.1" width="27.5" height="27.5" fill="#dfc27d"/>
<rect x="734.8" y="1547.1" width="27.5" height="27.5" fill="#f6e8c3"/>
<rect x="761.7" y="1547.1" width="54.4" height="27.5" fill="#c7eae5"/>
<rect x="815.6" y="1547.1" width="54.4" height="27.5" fill="#dfc27d"/>
<rect x="869.4" y="1547.1" width="54.4" height="27.5" fill="#f6e8c3"/>
<rect x="923.2" y="1547.1" width="54.4" height="27.5" fill="#dfc27d"/>
<rect x="977" y="1547.1" width="20" height="27.5" fill="#f6e8c3"/>
<rect x="135.5" y="1574" width="169.5" height="27.5" fill="#c7eae5"/>
<rect x="304.4" y="1574" width="27.5" height="27.5" fill="#80cdc1"/>
<rect x="331.3" y="1574" width="188.9" height="27.5" fill="#35978f"/>
<rect x="519.6" y="1574" width="27.5" height="27.5" fill="#80cdc1"/>
<rect x="546.5" y="1574" width="81.3" height="27.5" fill="#c7eae5"/>
<rect x="627.2" y="1574" width="135.1" height="27.5" fill="#f6e8c3"/>
<rect x="761.7" y="1574" width="27.5" height="27.5" fill="#c7eae5"/>
<rect x="788.6" y="1574" width="27.5" height="27.5" fill="#80cdc1"/>
<rect x="815.6" y="1574" width="81.3" height="27.5" fill="#c7eae5"/>
<rect x="896.3" y="1574" width="27.5" height="27.5" fill="#dfc27d"/>
<rect x="923.2" y="1574" width="27.5" height="27.5" fill="#bf812d"/>
<rect x="950.1" y="1574" width="27.5" height="27.5" fill="#dfc27d"/>
<rect x="977" y="1574" width="20" height="27.5" fill="#f6e8c3"/>
<rect x="135.5" y="1601" width="115.7" height="27.5" fill="#c7eae5"/>
<rect x="250.6" y="1601" width="54.4" height="27.5" fill="#80cdc1"/>
<rect x="304.4" y="1601" width="81.3" height="27.5" fill="#35978f"/>
<rect x="385.1" y="1601" width="108.2" height="27.5" fill="#01665e"/>
<rect x="492.7" y="1601" width="54.4" height="27.5" fill="#35978f"/>
<rect x="546.5" y="1601" width="54.4" height="27.5" fill="#80cdc1"/>
<rect x="600.3" y="1601" width="27.5" height="27.5" fill="#35978f"/>
<rect x="627.2" y="1601" width="27.5" height="27.5" fill="#80cdc1"/>
<rect x="654.1" y="1601" width="54.4" height="27.5" fill="#c7eae5"/>
<rect x="707.9" y="1601" width="54.4" height="27.5" fill="#f6e8c3"/>
<rect x="761.7" y="1601" width="27.5" height="27.5" fill="#c7eae5"/>
<rect x="788.6" y="1601" width="54.4" height="27.5" fill="#80cdc1"/>
<rect x="842.5" y="1601" width="27.5" height="27.5" fill="#c7eae5"/>
<rect x="869.4" y="1601" width="27.5" height="27.5" fill="#f6e8c3"/>
<rect x="896.3" y="1601" width="81.3" height="27.5" fill="#bf812d"/>
<rect x="977" y="1601" width="20" height="27.5" fill="#f6e8c3"/>
<rect x="135.5" y="1627.9" width="61.9" height="27.5" fill="#c7eae5"/>
<rect x="196.8" y="1627.9" width="81.3" height="27.5" fill="#80cdc1"/>
<rect x="277.5" y="1627.9" width="135.1" height="27.5" fill="#35978f"/>
<rect x="412" y="1627.9" width="27.5" height="27.5" fill="#01665e"/>
<rect x="438.9" y="1627.9" width="27.5" height="27.5" fill="#35978f"/>
<rect x="465.8" y="1627.9" width="135.1" height="27.5" fill="#80cdc1"/>
<rect x="600.3" y="1627.9" width="27.5" height="27.5" fill="#35978f"/>
<rect x="627.2" y="1627.9" width="108.2" height="27.5" fill="#80cdc1"/>
<rect x="734.8" y="1627.9" width="27.5" height="27.5" fill="#f6e8c3"/>
<rect x="761.7" y="1627.9" width="27.5" height="27.5" fill="#c7eae5"/>
<rect x="788.6" y="1627.9" width="27.5" height="27.5" fill="#80cdc1"/>
<rect x="815.6" y="1627.9" width="27.5" height="27.5" fill="#c7eae5"/>
<rect x="842.5" y="1627.9" width="27.5" height="27.5" fill="#f6e8c3"/>
<rect x="869.4" y="1627.9" width="27.5" height="27.5" fill="#dfc27d"/>
<rect x="896.3" y="1627.9" width="81.3" height="27.5" fill="#bf812d"/>
<rect x="977" y="1627.9" width="20" height="27.5" fill="#dfc27d"/>
<rect x="135.5" y="1654.9" width="35" height="27.5" fill="#c7eae5"/>
<rect x="169.9" y="1654.9" width="54.4" height="27.5" fill="#80cdc1"/>
<rect x="223.7" y="1654.9" width="215.8" height="27.5" fill="#35978f"/>
<rect x="438.9" y="1654.9" width="27.5" height="27.5" fill="#80cdc1"/>
<rect x="465.8" y="1654.9" width="27.5" height="27.5" fill="#c7eae5"/>
<rect x="492.7" y="1654.9" width="54.4" height="27.5" fill="#80cdc1"/>
<rect x="546.5" y="1654.9" width="81.3" height="27.5" fill="#35978f"/>
<rect x="627.2" y="1654.9" width="54.4" height="27.5" fill="#80cdc1"/>
<rect x="681" y="1654.9" width="54.4" height="27.5" fill="#35978f"/>
<rect x="734.8" y="1654.9" width="81.3" height="27.5" fill="#80cdc1"/>
<rect x="815.6" y="1654.9" width="27.5" height="27.5" fill="#f6e8c3"/>
<rect x="842.5" y="1654.9" width="27.5" height="27.5" fill="#dfc27d"/>
<rect x="869.4" y="1654.9" width="108.2" height="27.5" fill="#bf812d"/>
<rect x="977" y="1654.9" width="20" height="27.5" fill="#dfc27d"/>
<rect x="135.5" y="1681.8" width="35" height="21.6" fill="#80cdc1"/>
<rect x="169.9" y="1681.8" width="54.4" height="21.6" fill="#35978f"/>
<rect x="223.7" y="1681.8" width="81.3" height="21.6" fill="#01665e"/>
<rect x="304.4" y="1681.8" width="135.1" height="21.6" fill="#35978f"/>
<rect x="438.9" y="1681.8" width="27.5" height="21.6" fill="#c7eae5"/>
<rect x="465.8" y="1681.8" width="27.5" height="21.6" fill="#f6e8c3"/>
<rect x="492.7" y="1681.8" width="27.5" height="21.6" fill="#c7eae5"/>
<rect x="519.6" y="1681.8" width="54.4" height="21.6" fill="#35978f"/>
<rect x="573.4" y="1681.8" width="27.5" height="21.6" fill="#01665e"/>
<rect x="600.3" y="1681.8" width="27.5" height="21.6" fill="#35978f"/>
<rect x="627.2" y="1681.8" width="81.3" height="21.6" fill="#80cdc1"/>
<rect x="707.9" y="1681.8" width="27.5" height="21.6" fill="#35978f"/>
<rect x="734.8" y="1681.8" width="54.4" height="21.6" fill="#80cdc1"/>
<rect x="788.6" y="1681.8" width="27.5" height="21.6" fill="#f6e8c3"/>
<rect x="815.6" y="1681.8" width="27.5" height="21.6" fill="#dfc27d"/>
<rect x="842.5" y="1681.8" width="81.3" height="21.6" fill="#bf812d"/>
<rect x="923.2" y="1681.8" width="27.5" height="21.6" fill="#dfc27d"/>
<rect x="950.1" y="1681.8" width="27.5" height="21.6" fill="#bf812d"/>
<rect x="977" y="1681.8" width="20" height="21.6" fill="#dfc27d"/>
<mask id="mL2" maskUnits="userSpaceOnUse" x="0" y="0" width="2100" height="2521">
<polygon points="532.9,1281 642.4,1281 642.4,1317.3 532.9,1317.3" fill="#fff"/>
<polygon points="687.1,1281 806.5,1281 806.5,1317.3 687.1,1317.3" fill="#fff"/>
<polygon points="246.9,1334.7 279.2,1334.7 279.2,1399.4 246.9,1399.4" fill="#fff"/>
<polygon points="726.9,1322.3 741.8,1329.7 726.9,1369.5 672.2,1381.9 657.3,1424.2 632.4,1439.2 627.4,1483.9 692.1,1483.9 776.7,1469 836.4,1469 836.4,1508.8 791.6,1513.8 791.6,1546.1 677.2,1546.1 547.8,1546.1 547.8,1623.2 488.2,1633.2 488.2,1663 438.4,1663 438.4,1702.8 137.5,1702.8 137.5,1483.9 229.5,1459.1 333.9,1459.1 348.9,1439.2 418.5,1416.8 478.2,1401.8 552.8,1386.9 627.4,1359.6 677.2,1339.7" fill="#fff"/>
<polygon points="816.5,1513.8 841.3,1513.8 841.3,1474 925.9,1474 925.9,1404.3 995.5,1404.3 995.5,1703.8 866.2,1703.8 866.2,1573.5 816.5,1573.5" fill="#fff"/>
</mask>
<rect x="135.5" y="1281.2" width="860.9" height="421.6" fill="url(#dots)" mask="url(#mL2)"/>
<rect x="135.5" y="1876.2" width="61.9" height="24" fill="#c7eae5"/>
<rect x="196.8" y="1876.2" width="81.3" height="24" fill="#f6e8c3"/>
<rect x="277.5" y="1876.2" width="719.5" height="24" fill="#c7eae5"/>
<rect x="135.5" y="1899.6" width="88.8" height="27.5" fill="#f6e8c3"/>
<rect x="223.7" y="1899.6" width="773.3" height="27.5" fill="#c7eae5"/>
<rect x="135.5" y="1926.5" width="861.5" height="27.5" fill="#c7eae5"/>
<rect x="135.5" y="1953.5" width="411.6" height="27.5" fill="#c7eae5"/>
<rect x="546.5" y="1953.5" width="27.5" height="27.5" fill="#f6e8c3"/>
<rect x="573.4" y="1953.5" width="423.6" height="27.5" fill="#c7eae5"/>
<rect x="135.5" y="1980.4" width="169.5" height="27.5" fill="#c7eae5"/>
<rect x="304.4" y="1980.4" width="27.5" height="27.5" fill="#f6e8c3"/>
<rect x="331.3" y="1980.4" width="215.8" height="27.5" fill="#c7eae5"/>
<rect x="546.5" y="1980.4" width="54.4" height="27.5" fill="#f6e8c3"/>
<rect x="600.3" y="1980.4" width="396.7" height="27.5" fill="#c7eae5"/>
<rect x="135.5" y="2007.4" width="277.1" height="27.5" fill="#c7eae5"/>
<rect x="412" y="2007.4" width="81.3" height="27.5" fill="#f6e8c3"/>
<rect x="492.7" y="2007.4" width="54.4" height="27.5" fill="#c7eae5"/>
<rect x="546.5" y="2007.4" width="27.5" height="27.5" fill="#f6e8c3"/>
<rect x="573.4" y="2007.4" width="54.4" height="27.5" fill="#c7eae5"/>
<rect x="627.2" y="2007.4" width="27.5" height="27.5" fill="#f6e8c3"/>
<rect x="654.1" y="2007.4" width="135.1" height="27.5" fill="#c7eae5"/>
<rect x="788.6" y="2007.4" width="27.5" height="27.5" fill="#f6e8c3"/>
<rect x="815.6" y="2007.4" width="181.4" height="27.5" fill="#c7eae5"/>
<rect x="135.5" y="2034.3" width="196.4" height="27.5" fill="#c7eae5"/>
<rect x="331.3" y="2034.3" width="27.5" height="27.5" fill="#80cdc1"/>
<rect x="358.2" y="2034.3" width="54.4" height="27.5" fill="#c7eae5"/>
<rect x="412" y="2034.3" width="108.2" height="27.5" fill="#f6e8c3"/>
<rect x="519.6" y="2034.3" width="54.4" height="27.5" fill="#c7eae5"/>
<rect x="573.4" y="2034.3" width="108.2" height="27.5" fill="#f6e8c3"/>
<rect x="681" y="2034.3" width="188.9" height="27.5" fill="#c7eae5"/>
<rect x="869.4" y="2034.3" width="54.4" height="27.5" fill="#80cdc1"/>
<rect x="923.2" y="2034.3" width="73.8" height="27.5" fill="#c7eae5"/>
<rect x="135.5" y="2061.2" width="277.1" height="27.5" fill="#c7eae5"/>
<rect x="412" y="2061.2" width="269.6" height="27.5" fill="#f6e8c3"/>
<rect x="681" y="2061.2" width="162" height="27.5" fill="#c7eae5"/>
<rect x="842.5" y="2061.2" width="27.5" height="27.5" fill="#f6e8c3"/>
<rect x="869.4" y="2061.2" width="54.4" height="27.5" fill="#c7eae5"/>
<rect x="923.2" y="2061.2" width="27.5" height="27.5" fill="#80cdc1"/>
<rect x="950.1" y="2061.2" width="46.9" height="27.5" fill="#c7eae5"/>
<rect x="135.5" y="2088.2" width="277.1" height="27.5" fill="#c7eae5"/>
<rect x="412" y="2088.2" width="242.7" height="27.5" fill="#f6e8c3"/>
<rect x="654.1" y="2088.2" width="188.9" height="27.5" fill="#c7eae5"/>
<rect x="842.5" y="2088.2" width="27.5" height="27.5" fill="#f6e8c3"/>
<rect x="869.4" y="2088.2" width="127.6" height="27.5" fill="#c7eae5"/>
<rect x="135.5" y="2115.1" width="115.7" height="27.5" fill="#c7eae5"/>
<rect x="250.6" y="2115.1" width="27.5" height="27.5" fill="#f6e8c3"/>
<rect x="277.5" y="2115.1" width="162" height="27.5" fill="#c7eae5"/>
<rect x="438.9" y="2115.1" width="135.1" height="27.5" fill="#f6e8c3"/>
<rect x="573.4" y="2115.1" width="81.3" height="27.5" fill="#c7eae5"/>
<rect x="654.1" y="2115.1" width="27.5" height="27.5" fill="#80cdc1"/>
<rect x="681" y="2115.1" width="27.5" height="27.5" fill="#35978f"/>
<rect x="707.9" y="2115.1" width="81.3" height="27.5" fill="#80cdc1"/>
<rect x="788.6" y="2115.1" width="54.4" height="27.5" fill="#c7eae5"/>
<rect x="842.5" y="2115.1" width="27.5" height="27.5" fill="#f6e8c3"/>
<rect x="869.4" y="2115.1" width="127.6" height="27.5" fill="#c7eae5"/>
<rect x="135.5" y="2142.1" width="357.8" height="27.5" fill="#c7eae5"/>
<rect x="492.7" y="2142.1" width="27.5" height="27.5" fill="#35978f"/>
<rect x="519.6" y="2142.1" width="27.5" height="27.5" fill="#80cdc1"/>
<rect x="546.5" y="2142.1" width="81.3" height="27.5" fill="#35978f"/>
<rect x="627.2" y="2142.1" width="135.1" height="27.5" fill="#80cdc1"/>
<rect x="761.7" y="2142.1" width="81.3" height="27.5" fill="#c7eae5"/>
<rect x="842.5" y="2142.1" width="54.4" height="27.5" fill="#f6e8c3"/>
<rect x="896.3" y="2142.1" width="100.7" height="27.5" fill="#c7eae5"/>
<rect x="135.5" y="2169" width="384.7" height="27.5" fill="#c7eae5"/>
<rect x="519.6" y="2169" width="27.5" height="27.5" fill="#80cdc1"/>
<rect x="546.5" y="2169" width="108.2" height="27.5" fill="#35978f"/>
<rect x="654.1" y="2169" width="81.3" height="27.5" fill="#c7eae5"/>
<rect x="734.8" y="2169" width="27.5" height="27.5" fill="#80cdc1"/>
<rect x="761.7" y="2169" width="54.4" height="27.5" fill="#c7eae5"/>
<rect x="815.6" y="2169" width="54.4" height="27.5" fill="#f6e8c3"/>
<rect x="869.4" y="2169" width="54.4" height="27.5" fill="#c7eae5"/>
<rect x="923.2" y="2169" width="54.4" height="27.5" fill="#f6e8c3"/>
<rect x="977" y="2169" width="20" height="27.5" fill="#c7eae5"/>
<rect x="135.5" y="2196" width="169.5" height="27.5" fill="#c7eae5"/>
<rect x="304.4" y="2196" width="81.3" height="27.5" fill="#80cdc1"/>
<rect x="385.1" y="2196" width="54.4" height="27.5" fill="#c7eae5"/>
<rect x="438.9" y="2196" width="54.4" height="27.5" fill="#dfc27d"/>
<rect x="492.7" y="2196" width="27.5" height="27.5" fill="#f6e8c3"/>
<rect x="519.6" y="2196" width="27.5" height="27.5" fill="#c7eae5"/>
<rect x="546.5" y="2196" width="27.5" height="27.5" fill="#80cdc1"/>
<rect x="573.4" y="2196" width="54.4" height="27.5" fill="#35978f"/>
<rect x="627.2" y="2196" width="27.5" height="27.5" fill="#80cdc1"/>
<rect x="654.1" y="2196" width="27.5" height="27.5" fill="#c7eae5"/>
<rect x="681" y="2196" width="27.5" height="27.5" fill="#f6e8c3"/>
<rect x="707.9" y="2196" width="27.5" height="27.5" fill="#c7eae5"/>
<rect x="734.8" y="2196" width="54.4" height="27.5" fill="#80cdc1"/>
<rect x="788.6" y="2196" width="27.5" height="27.5" fill="#c7eae5"/>
<rect x="815.6" y="2196" width="181.4" height="27.5" fill="#f6e8c3"/>
<rect x="135.5" y="2222.9" width="35" height="27.5" fill="#f6e8c3"/>
<rect x="169.9" y="2222.9" width="108.2" height="27.5" fill="#c7eae5"/>
<rect x="277.5" y="2222.9" width="162" height="27.5" fill="#80cdc1"/>
<rect x="438.9" y="2222.9" width="27.5" height="27.5" fill="#c7eae5"/>
<rect x="465.8" y="2222.9" width="54.4" height="27.5" fill="#f6e8c3"/>
<rect x="519.6" y="2222.9" width="54.4" height="27.5" fill="#c7eae5"/>
<rect x="573.4" y="2222.9" width="27.5" height="27.5" fill="#80cdc1"/>
<rect x="600.3" y="2222.9" width="27.5" height="27.5" fill="#35978f"/>
<rect x="627.2" y="2222.9" width="27.5" height="27.5" fill="#80cdc1"/>
<rect x="654.1" y="2222.9" width="27.5" height="27.5" fill="#c7eae5"/>
<rect x="681" y="2222.9" width="54.4" height="27.5" fill="#f6e8c3"/>
<rect x="734.8" y="2222.9" width="54.4" height="27.5" fill="#c7eae5"/>
<rect x="788.6" y="2222.9" width="27.5" height="27.5" fill="#f6e8c3"/>
<rect x="815.6" y="2222.9" width="27.5" height="27.5" fill="#dfc27d"/>
<rect x="842.5" y="2222.9" width="154.5" height="27.5" fill="#f6e8c3"/>
<rect x="135.5" y="2249.9" width="35" height="27.5" fill="#f6e8c3"/>
<rect x="169.9" y="2249.9" width="81.3" height="27.5" fill="#c7eae5"/>
<rect x="250.6" y="2249.9" width="135.1" height="27.5" fill="#80cdc1"/>
<rect x="385.1" y="2249.9" width="54.4" height="27.5" fill="#c7eae5"/>
<rect x="438.9" y="2249.9" width="54.4" height="27.5" fill="#f6e8c3"/>
<rect x="492.7" y="2249.9" width="27.5" height="27.5" fill="#c7eae5"/>
<rect x="519.6" y="2249.9" width="54.4" height="27.5" fill="#f6e8c3"/>
<rect x="573.4" y="2249.9" width="27.5" height="27.5" fill="#80cdc1"/>
<rect x="600.3" y="2249.9" width="27.5" height="27.5" fill="#35978f"/>
<rect x="627.2" y="2249.9" width="27.5" height="27.5" fill="#80cdc1"/>
<rect x="654.1" y="2249.9" width="54.4" height="27.5" fill="#f6e8c3"/>
<rect x="707.9" y="2249.9" width="54.4" height="27.5" fill="#dfc27d"/>
<rect x="761.7" y="2249.9" width="188.9" height="27.5" fill="#f6e8c3"/>
<rect x="950.1" y="2249.9" width="27.5" height="27.5" fill="#c7eae5"/>
<rect x="977" y="2249.9" width="20" height="27.5" fill="#f6e8c3"/>
<rect x="135.5" y="2276.8" width="61.9" height="21.6" fill="#c7eae5"/>
<rect x="196.8" y="2276.8" width="27.5" height="21.6" fill="#80cdc1"/>
<rect x="223.7" y="2276.8" width="81.3" height="21.6" fill="#35978f"/>
<rect x="304.4" y="2276.8" width="81.3" height="21.6" fill="#c7eae5"/>
<rect x="385.1" y="2276.8" width="27.5" height="21.6" fill="#f6e8c3"/>
<rect x="412" y="2276.8" width="54.4" height="21.6" fill="#dfc27d"/>
<rect x="465.8" y="2276.8" width="27.5" height="21.6" fill="#f6e8c3"/>
<rect x="492.7" y="2276.8" width="27.5" height="21.6" fill="#c7eae5"/>
<rect x="519.6" y="2276.8" width="54.4" height="21.6" fill="#f6e8c3"/>
<rect x="573.4" y="2276.8" width="27.5" height="21.6" fill="#c7eae5"/>
<rect x="600.3" y="2276.8" width="27.5" height="21.6" fill="#80cdc1"/>
<rect x="627.2" y="2276.8" width="27.5" height="21.6" fill="#35978f"/>
<rect x="654.1" y="2276.8" width="27.5" height="21.6" fill="#f6e8c3"/>
<rect x="681" y="2276.8" width="54.4" height="21.6" fill="#dfc27d"/>
<rect x="734.8" y="2276.8" width="27.5" height="21.6" fill="#bf812d"/>
<rect x="761.7" y="2276.8" width="54.4" height="21.6" fill="#dfc27d"/>
<rect x="815.6" y="2276.8" width="81.3" height="21.6" fill="#f6e8c3"/>
<rect x="896.3" y="2276.8" width="54.4" height="21.6" fill="#c7eae5"/>
<rect x="950.1" y="2276.8" width="46.9" height="21.6" fill="#f6e8c3"/>
<mask id="mL3" maskUnits="userSpaceOnUse" x="0" y="0" width="2100" height="2521">
<polygon points="468.3,1882.4 602.6,1882.4 602.6,1934.7 508.1,1949.6 468.3,1949.6" fill="#fff"/>
<polygon points="657.3,1882.4 891.1,1882.4 916,1944.6 901,1976.9 856.3,1976.9 816.5,1964.5 736.9,1964.5 697.1,1976.9 657.3,1976.9 632.4,1949.6 657.3,1909.8" fill="#fff"/>
<polygon points="192.2,2143.6 234.5,2143.6 234.5,2193.3 289.2,2193.3 329,2193.3 358.8,2218.2 358.8,2265.5 274.3,2268 274.3,2287.8 244.4,2287.8 244.4,2248.1 219.5,2218.2 192.2,2193.3" fill="#fff"/>
<polygon points="547.8,2156 647.3,2156 647.3,2193.3 620,2223.2 575.2,2223.2 567.7,2193.3 547.8,2168.5" fill="#fff"/>
<polygon points="739.4,2265.5 796.6,2265.5 796.6,2290.3 739.4,2290.3" fill="#fff"/>
<polygon points="769.2,2126.2 784.1,2126.2 784.1,2141.1 769.2,2141.1" fill="#fff"/>
<polygon points="933.4,2073 948.3,2073 948.3,2087.9 933.4,2087.9" fill="#fff"/>
</mask>
<rect x="135.5" y="1876.2" width="860.9" height="421.6" fill="url(#dots)" mask="url(#mL3)"/>
<rect x="1239.3" y="91.2" width="46.8" height="7.1" fill="#fff4ca"/>
<rect x="1285.5" y="91.2" width="98.5" height="7.1" fill="#fde27a"/>
<rect x="1383.5" y="91.2" width="235.4" height="7.1" fill="#fbae3a"/>
<rect x="1239.3" y="97.8" width="46.8" height="15.3" fill="#fff4ca"/>
<rect x="1285.5" y="97.8" width="103.9" height="15.3" fill="#fde27a"/>
<rect x="1389" y="97.8" width="229.9" height="15.3" fill="#fbae3a"/>
<rect x="1148.1" y="112.6" width="99.8" height="15.3" fill="#ead4fa"/>
<rect x="1350.9" y="112.6" width="174.7" height="15.3" fill="#fff4ca"/>
<rect x="1525.1" y="112.6" width="93.8" height="15.3" fill="#fde27a"/>
<rect x="1144.6" y="127.4" width="81.6" height="15.3" fill="#ead4fa"/>
<rect x="1225.7" y="127.4" width="125.7" height="15.3" fill="#dfb7fb"/>
<rect x="1350.9" y="127.4" width="65.8" height="15.3" fill="#ead4fa"/>
<rect x="1144.6" y="142.3" width="40.7" height="15.3" fill="#ead4fa"/>
<rect x="1184.8" y="142.3" width="144.8" height="15.3" fill="#dfb7fb"/>
<rect x="1329.1" y="142.3" width="87.6" height="15.3" fill="#b24cf5"/>
<rect x="1416.2" y="142.3" width="68.5" height="15.3" fill="#dfb7fb"/>
<rect x="1484.2" y="142.3" width="134.7" height="15.3" fill="#ead4fa"/>
<rect x="1184.8" y="157.1" width="84.9" height="15.3" fill="#ead4fa"/>
<rect x="1269.2" y="157.1" width="60.4" height="15.3" fill="#dfb7fb"/>
<rect x="1329.1" y="157.1" width="150.2" height="15.3" fill="#b24cf5"/>
<rect x="1478.8" y="157.1" width="74" height="15.3" fill="#dfb7fb"/>
<rect x="1552.3" y="157.1" width="66.6" height="15.3" fill="#b24cf5"/>
<rect x="1144.6" y="171.9" width="35.3" height="15.3" fill="#fff4ca"/>
<rect x="1312.8" y="171.9" width="22.3" height="15.3" fill="#dfb7fb"/>
<rect x="1334.5" y="171.9" width="142" height="15.3" fill="#b24cf5"/>
<rect x="1476.1" y="171.9" width="44" height="15.3" fill="#8c12dc"/>
<rect x="1519.6" y="171.9" width="99.3" height="15.3" fill="#b24cf5"/>
<rect x="1144.6" y="186.7" width="54.3" height="15.3" fill="#fbae3a"/>
<rect x="1198.4" y="186.7" width="35.9" height="15.3" fill="#fde27a"/>
<rect x="1233.8" y="186.7" width="41.3" height="15.3" fill="#fff4ca"/>
<rect x="1350.9" y="186.7" width="65.8" height="15.3" fill="#dfb7fb"/>
<rect x="1416.2" y="186.7" width="202.7" height="15.3" fill="#b24cf5"/>
<rect x="1144.6" y="201.5" width="62.5" height="15.3" fill="#fbae3a"/>
<rect x="1206.6" y="201.5" width="63.1" height="15.3" fill="#fde27a"/>
<rect x="1269.2" y="201.5" width="38.6" height="15.3" fill="#fff4ca"/>
<rect x="1389" y="201.5" width="41.3" height="15.3" fill="#ead4fa"/>
<rect x="1429.8" y="201.5" width="68.5" height="15.3" fill="#dfb7fb"/>
<rect x="1497.8" y="201.5" width="121.1" height="15.3" fill="#b24cf5"/>
<rect x="1144.6" y="216.4" width="54.3" height="15.3" fill="#fbae3a"/>
<rect x="1198.4" y="216.4" width="218.2" height="15.3" fill="#fde27a"/>
<rect x="1497.8" y="216.4" width="44" height="15.3" fill="#ead4fa"/>
<rect x="1541.4" y="216.4" width="77.5" height="15.3" fill="#b24cf5"/>
<rect x="1144.6" y="231.2" width="285.7" height="15.3" fill="#fbae3a"/>
<rect x="1429.8" y="231.2" width="41.3" height="15.3" fill="#fde27a"/>
<rect x="1525.1" y="231.2" width="44" height="15.3" fill="#ead4fa"/>
<rect x="1568.6" y="231.2" width="50.3" height="15.3" fill="#dfb7fb"/>
<rect x="1144.6" y="246" width="108.8" height="15.3" fill="#fde27a"/>
<rect x="1252.9" y="246" width="103.9" height="15.3" fill="#fa7008"/>
<rect x="1356.3" y="246" width="74" height="15.3" fill="#fbae3a"/>
<rect x="1429.8" y="246" width="41.3" height="15.3" fill="#fde27a"/>
<rect x="1470.6" y="246" width="82.2" height="15.3" fill="#fff4ca"/>
<rect x="1179.4" y="260.8" width="46.8" height="15.3" fill="#fff4ca"/>
<rect x="1225.7" y="260.8" width="33.2" height="15.3" fill="#fde27a"/>
<rect x="1258.3" y="260.8" width="120.3" height="15.3" fill="#fbae3a"/>
<rect x="1378.1" y="260.8" width="240.8" height="15.3" fill="#fa7008"/>
<rect x="1176.7" y="275.7" width="38.6" height="15.3" fill="#fff4ca"/>
<rect x="1214.8" y="275.7" width="93" height="15.3" fill="#fde27a"/>
<rect x="1307.3" y="275.7" width="68.5" height="15.3" fill="#fbae3a"/>
<rect x="1375.4" y="275.7" width="243.5" height="15.3" fill="#fa7008"/>
<rect x="1179.4" y="290.5" width="68.5" height="15.3" fill="#fff4ca"/>
<rect x="1307.3" y="290.5" width="60.4" height="15.3" fill="#fbae3a"/>
<rect x="1367.2" y="290.5" width="49.5" height="15.3" fill="#fa7008"/>
<rect x="1416.2" y="290.5" width="65.8" height="15.3" fill="#e32b22"/>
<rect x="1481.5" y="290.5" width="137.4" height="15.3" fill="#fa7008"/>
<rect x="1618.4" y="91.2" width="109" height="7.1" fill="#fbae3a"/>
<rect x="1726.9" y="91.2" width="365.8" height="7.1" fill="#fde27a"/>
<rect x="1618.4" y="97.8" width="408.4" height="15.3" fill="#fde27a"/>
<rect x="2026.3" y="97.8" width="66.4" height="15.3" fill="#fbae3a"/>
<rect x="1618.4" y="112.6" width="223.3" height="15.3" fill="#fff4ca"/>
<rect x="1841.2" y="112.6" width="136.6" height="15.3" fill="#fde27a"/>
<rect x="1977.3" y="112.6" width="115.4" height="15.3" fill="#fbae3a"/>
<rect x="1770.4" y="127.4" width="120.3" height="15.3" fill="#fff4ca"/>
<rect x="1890.2" y="127.4" width="90.3" height="15.3" fill="#fde27a"/>
<rect x="1980" y="127.4" width="112.7" height="15.3" fill="#fbae3a"/>
<rect x="1835.7" y="142.3" width="136.6" height="15.3" fill="#fde27a"/>
<rect x="1971.8" y="142.3" width="87.6" height="15.3" fill="#fbae3a"/>
<rect x="2058.9" y="142.3" width="33.8" height="15.3" fill="#fde27a"/>
<rect x="1618.4" y="157.1" width="141.6" height="15.3" fill="#ead4fa"/>
<rect x="1835.7" y="157.1" width="33.2" height="15.3" fill="#fff4ca"/>
<rect x="1868.4" y="157.1" width="224.3" height="15.3" fill="#fde27a"/>
<rect x="1618.4" y="171.9" width="89.9" height="15.3" fill="#b24cf5"/>
<rect x="1707.8" y="171.9" width="57.7" height="15.3" fill="#dfb7fb"/>
<rect x="1765" y="171.9" width="27.7" height="15.3" fill="#ead4fa"/>
<rect x="1868.4" y="171.9" width="185.6" height="15.3" fill="#fde27a"/>
<rect x="2053.5" y="171.9" width="39.2" height="15.3" fill="#fff4ca"/>
<rect x="1618.4" y="186.7" width="103.5" height="15.3" fill="#b24cf5"/>
<rect x="1721.4" y="186.7" width="54.9" height="15.3" fill="#dfb7fb"/>
<rect x="1775.9" y="186.7" width="30.4" height="15.3" fill="#ead4fa"/>
<rect x="1884.7" y="186.7" width="87.6" height="15.3" fill="#fde27a"/>
<rect x="1618.4" y="201.5" width="73.6" height="15.3" fill="#b24cf5"/>
<rect x="1691.5" y="201.5" width="90.3" height="15.3" fill="#dfb7fb"/>
<rect x="1781.3" y="201.5" width="27.7" height="15.3" fill="#ead4fa"/>
<rect x="1873.9" y="201.5" width="22.3" height="15.3" fill="#fff4ca"/>
<rect x="1895.6" y="201.5" width="63.1" height="15.3" fill="#fde27a"/>
<rect x="1618.4" y="216.4" width="32.8" height="15.3" fill="#b24cf5"/>
<rect x="1650.7" y="216.4" width="131.1" height="15.3" fill="#dfb7fb"/>
<rect x="1781.3" y="216.4" width="27.7" height="15.3" fill="#ead4fa"/>
<rect x="1876.6" y="216.4" width="82.2" height="15.3" fill="#fff4ca"/>
<rect x="1618.4" y="231.2" width="152.5" height="15.3" fill="#ead4fa"/>
<rect x="1890.2" y="231.2" width="95.8" height="15.3" fill="#fff4ca"/>
<rect x="1985.4" y="231.2" width="107.3" height="15.3" fill="#fde27a"/>
<rect x="1792.2" y="246" width="44" height="15.3" fill="#fff4ca"/>
<rect x="1835.7" y="246" width="257" height="15.3" fill="#fde27a"/>
<rect x="1618.4" y="260.8" width="119.9" height="15.3" fill="#fde27a"/>
<rect x="1737.8" y="260.8" width="152.9" height="15.3" fill="#fbae3a"/>
<rect x="1890.2" y="260.8" width="202.5" height="15.3" fill="#fde27a"/>
<rect x="1618.4" y="275.7" width="125.3" height="15.3" fill="#fbae3a"/>
<rect x="1743.2" y="275.7" width="82.2" height="15.3" fill="#fa7008"/>
<rect x="1824.9" y="275.7" width="65.8" height="15.3" fill="#fbae3a"/>
<rect x="1890.2" y="275.7" width="27.7" height="15.3" fill="#fde27a"/>
<rect x="1917.4" y="275.7" width="175.3" height="15.3" fill="#fff4ca"/>
<rect x="1618.4" y="290.5" width="207" height="15.3" fill="#fa7008"/>
<rect x="1824.9" y="290.5" width="65.8" height="15.3" fill="#fbae3a"/>
<rect x="1890.2" y="290.5" width="54.9" height="15.3" fill="#fde27a"/>
<rect x="1971.8" y="290.5" width="120.9" height="15.3" fill="#ead4fa"/>
<rect x="1312.8" y="305.3" width="35.9" height="15.3" fill="#fff4ca"/>
<rect x="1348.1" y="305.3" width="35.9" height="15.3" fill="#fbae3a"/>
<rect x="1383.5" y="305.3" width="27.7" height="15.3" fill="#fa7008"/>
<rect x="1410.7" y="305.3" width="74" height="15.3" fill="#e32b22"/>
<rect x="1484.2" y="305.3" width="134.7" height="15.3" fill="#fa7008"/>
<rect x="1222.9" y="320.1" width="84.9" height="15.3" fill="#ead4fa"/>
<rect x="1345.4" y="320.1" width="95.8" height="15.3" fill="#fbae3a"/>
<rect x="1440.7" y="320.1" width="178.2" height="15.3" fill="#fff4ca"/>
<rect x="1182.1" y="334.9" width="27.7" height="15.3" fill="#ead4fa"/>
<rect x="1209.3" y="334.9" width="57.7" height="15.3" fill="#b24cf5"/>
<rect x="1266.5" y="334.9" width="30.4" height="15.3" fill="#dfb7fb"/>
<rect x="1394.4" y="334.9" width="224.5" height="15.3" fill="#ead4fa"/>
<rect x="1144.6" y="349.8" width="40.7" height="15.3" fill="#dfb7fb"/>
<rect x="1184.8" y="349.8" width="90.3" height="15.3" fill="#b24cf5"/>
<rect x="1274.6" y="349.8" width="22.3" height="15.3" fill="#ead4fa"/>
<rect x="1334.5" y="349.8" width="60.4" height="15.3" fill="#ead4fa"/>
<rect x="1394.4" y="349.8" width="224.5" height="15.3" fill="#b24cf5"/>
<rect x="1144.6" y="364.6" width="59.8" height="15.3" fill="#8c12dc"/>
<rect x="1203.9" y="364.6" width="30.4" height="15.3" fill="#b24cf5"/>
<rect x="1233.8" y="364.6" width="41.3" height="15.3" fill="#dfb7fb"/>
<rect x="1315.5" y="364.6" width="35.9" height="15.3" fill="#dfb7fb"/>
<rect x="1350.9" y="364.6" width="68.5" height="15.3" fill="#b24cf5"/>
<rect x="1418.9" y="364.6" width="200" height="15.3" fill="#8c12dc"/>
<rect x="1144.6" y="379.4" width="54.3" height="15.3" fill="#8c12dc"/>
<rect x="1198.4" y="379.4" width="35.9" height="15.3" fill="#b24cf5"/>
<rect x="1233.8" y="379.4" width="41.3" height="15.3" fill="#dfb7fb"/>
<rect x="1274.6" y="379.4" width="44" height="15.3" fill="#ead4fa"/>
<rect x="1318.2" y="379.4" width="248.2" height="15.3" fill="#8c12dc"/>
<rect x="1565.9" y="379.4" width="53" height="15.3" fill="#b24cf5"/>
<rect x="1144.6" y="394.2" width="16.2" height="15.3" fill="#ead4fa"/>
<rect x="1160.3" y="394.2" width="74" height="15.3" fill="#dfb7fb"/>
<rect x="1233.8" y="394.2" width="41.3" height="15.3" fill="#b24cf5"/>
<rect x="1274.6" y="394.2" width="196.5" height="15.3" fill="#8c12dc"/>
<rect x="1470.6" y="394.2" width="82.2" height="15.3" fill="#b24cf5"/>
<rect x="1552.3" y="394.2" width="66.6" height="15.3" fill="#dfb7fb"/>
<rect x="1171.2" y="409" width="63.1" height="15.3" fill="#ead4fa"/>
<rect x="1233.8" y="409" width="41.3" height="15.3" fill="#b24cf5"/>
<rect x="1274.6" y="409" width="182.9" height="15.3" fill="#8c12dc"/>
<rect x="1457" y="409" width="41.3" height="15.3" fill="#b24cf5"/>
<rect x="1497.8" y="409" width="54.9" height="15.3" fill="#dfb7fb"/>
<rect x="1184.8" y="423.9" width="68.5" height="15.3" fill="#ead4fa"/>
<rect x="1252.9" y="423.9" width="210.1" height="15.3" fill="#b24cf5"/>
<rect x="1462.5" y="423.9" width="27.7" height="15.3" fill="#dfb7fb"/>
<rect x="1144.6" y="438.7" width="16.2" height="15.3" fill="#fde27a"/>
<rect x="1239.3" y="438.7" width="106.7" height="15.3" fill="#ead4fa"/>
<rect x="1345.4" y="438.7" width="117.5" height="15.3" fill="#dfb7fb"/>
<rect x="1525.1" y="438.7" width="93.8" height="15.3" fill="#fff4ca"/>
<rect x="1144.6" y="453.5" width="40.7" height="15.3" fill="#fbae3a"/>
<rect x="1184.8" y="453.5" width="52.2" height="15.3" fill="#fde27a"/>
<rect x="1345.4" y="453.5" width="84.9" height="15.3" fill="#ead4fa"/>
<rect x="1511.4" y="453.5" width="54.9" height="15.3" fill="#fde27a"/>
<rect x="1565.9" y="453.5" width="53" height="15.3" fill="#fbae3a"/>
<rect x="1144.6" y="468.3" width="16.2" height="15.3" fill="#fa7008"/>
<rect x="1160.3" y="468.3" width="52.2" height="15.3" fill="#fbae3a"/>
<rect x="1212" y="468.3" width="101.2" height="15.3" fill="#fde27a"/>
<rect x="1443.4" y="468.3" width="82.2" height="15.3" fill="#fde27a"/>
<rect x="1525.1" y="468.3" width="44" height="15.3" fill="#fbae3a"/>
<rect x="1568.6" y="468.3" width="50.3" height="15.3" fill="#fa7008"/>
<rect x="1144.6" y="483.2" width="43.4" height="15.3" fill="#fa7008"/>
<rect x="1187.5" y="483.2" width="54.9" height="15.3" fill="#fbae3a"/>
<rect x="1242" y="483.2" width="54.9" height="15.3" fill="#fde27a"/>
<rect x="1296.4" y="483.2" width="44" height="15.3" fill="#fbae3a"/>
<rect x="1340" y="483.2" width="76.7" height="15.3" fill="#fff4ca"/>
<rect x="1443.4" y="483.2" width="68.5" height="15.3" fill="#fde27a"/>
<rect x="1511.4" y="483.2" width="27.7" height="15.3" fill="#fbae3a"/>
<rect x="1538.7" y="483.2" width="80.2" height="15.3" fill="#fa7008"/>
<rect x="1144.6" y="498" width="54.3" height="15.3" fill="#fa7008"/>
<rect x="1198.4" y="498" width="35.9" height="15.3" fill="#fff4ca"/>
<rect x="1296.4" y="498" width="120.3" height="15.3" fill="#fff4ca"/>
<rect x="1443.4" y="498" width="76.7" height="15.3" fill="#fde27a"/>
<rect x="1519.6" y="498" width="99.3" height="15.3" fill="#fa7008"/>
<rect x="1618.4" y="305.3" width="16.4" height="15.3" fill="#fde27a"/>
<rect x="1634.3" y="305.3" width="106.7" height="15.3" fill="#fa7008"/>
<rect x="1740.5" y="305.3" width="54.9" height="15.3" fill="#fde27a"/>
<rect x="1794.9" y="305.3" width="74" height="15.3" fill="#fff4ca"/>
<rect x="1925.6" y="305.3" width="74" height="15.3" fill="#ead4fa"/>
<rect x="1999.1" y="305.3" width="93.6" height="15.3" fill="#dfb7fb"/>
<rect x="1686" y="320.1" width="41.3" height="15.3" fill="#ead4fa"/>
<rect x="1726.9" y="320.1" width="27.7" height="15.3" fill="#dfb7fb"/>
<rect x="1754.1" y="320.1" width="338.6" height="15.3" fill="#b24cf5"/>
<rect x="1618.4" y="334.9" width="27.3" height="15.3" fill="#ead4fa"/>
<rect x="1645.2" y="334.9" width="54.9" height="15.3" fill="#dfb7fb"/>
<rect x="1699.7" y="334.9" width="54.9" height="15.3" fill="#b24cf5"/>
<rect x="1754.1" y="334.9" width="71.3" height="15.3" fill="#8c12dc"/>
<rect x="1824.9" y="334.9" width="155.6" height="15.3" fill="#4f0a78"/>
<rect x="1980" y="334.9" width="112.7" height="15.3" fill="#8c12dc"/>
<rect x="1618.4" y="349.8" width="27.3" height="15.3" fill="#dfb7fb"/>
<rect x="1645.2" y="349.8" width="82.2" height="15.3" fill="#b24cf5"/>
<rect x="1726.9" y="349.8" width="82.2" height="15.3" fill="#8c12dc"/>
<rect x="1808.5" y="349.8" width="163.8" height="15.3" fill="#4f0a78"/>
<rect x="1971.8" y="349.8" width="120.9" height="15.3" fill="#8c12dc"/>
<rect x="1618.4" y="364.6" width="217.8" height="15.3" fill="#8c12dc"/>
<rect x="1835.7" y="364.6" width="54.9" height="15.3" fill="#4f0a78"/>
<rect x="1890.2" y="364.6" width="177.4" height="15.3" fill="#8c12dc"/>
<rect x="2067.1" y="364.6" width="25.6" height="15.3" fill="#4f0a78"/>
<rect x="1618.4" y="379.4" width="27.3" height="15.3" fill="#b24cf5"/>
<rect x="1645.2" y="379.4" width="54.9" height="15.3" fill="#dfb7fb"/>
<rect x="1699.7" y="379.4" width="109.4" height="15.3" fill="#b24cf5"/>
<rect x="1808.5" y="379.4" width="259.1" height="15.3" fill="#8c12dc"/>
<rect x="2067.1" y="379.4" width="25.6" height="15.3" fill="#4f0a78"/>
<rect x="1618.4" y="394.2" width="13.7" height="15.3" fill="#dfb7fb"/>
<rect x="1631.6" y="394.2" width="177.4" height="15.3" fill="#ead4fa"/>
<rect x="1808.5" y="394.2" width="191" height="15.3" fill="#b24cf5"/>
<rect x="1999.1" y="394.2" width="93.6" height="15.3" fill="#8c12dc"/>
<rect x="1849.4" y="409" width="54.9" height="15.3" fill="#ead4fa"/>
<rect x="1903.8" y="409" width="123" height="15.3" fill="#dfb7fb"/>
<rect x="2026.3" y="409" width="66.4" height="15.3" fill="#b24cf5"/>
<rect x="1618.4" y="423.9" width="109" height="15.3" fill="#fff4ca"/>
<rect x="1726.9" y="423.9" width="109.4" height="15.3" fill="#fde27a"/>
<rect x="1618.4" y="438.7" width="81.8" height="15.3" fill="#fde27a"/>
<rect x="1699.7" y="438.7" width="54.9" height="15.3" fill="#fff4ca"/>
<rect x="1754.1" y="438.7" width="82.2" height="15.3" fill="#fde27a"/>
<rect x="1944.6" y="438.7" width="41.3" height="15.3" fill="#fff4ca"/>
<rect x="1985.4" y="438.7" width="107.3" height="15.3" fill="#fde27a"/>
<rect x="1618.4" y="453.5" width="27.3" height="15.3" fill="#fbae3a"/>
<rect x="1645.2" y="453.5" width="54.9" height="15.3" fill="#fde27a"/>
<rect x="1699.7" y="453.5" width="54.9" height="15.3" fill="#fff4ca"/>
<rect x="1754.1" y="453.5" width="60.4" height="15.3" fill="#fde27a"/>
<rect x="1944.6" y="453.5" width="35.9" height="15.3" fill="#fff4ca"/>
<rect x="1980" y="453.5" width="60.4" height="15.3" fill="#fde27a"/>
<rect x="2039.9" y="453.5" width="52.8" height="15.3" fill="#fbae3a"/>
<rect x="1618.4" y="468.3" width="40.9" height="15.3" fill="#fbae3a"/>
<rect x="1658.8" y="468.3" width="68.5" height="15.3" fill="#fde27a"/>
<rect x="1726.9" y="468.3" width="82.2" height="15.3" fill="#fff4ca"/>
<rect x="1971.8" y="468.3" width="82.2" height="15.3" fill="#fde27a"/>
<rect x="2053.5" y="468.3" width="39.2" height="15.3" fill="#fbae3a"/>
<rect x="1618.4" y="483.2" width="27.3" height="15.3" fill="#fa7008"/>
<rect x="1645.2" y="483.2" width="68.5" height="15.3" fill="#fde27a"/>
<rect x="1713.3" y="483.2" width="95.8" height="15.3" fill="#fff4ca"/>
<rect x="1971.8" y="483.2" width="109.4" height="15.3" fill="#fde27a"/>
<rect x="2080.7" y="483.2" width="12" height="15.3" fill="#fa7008"/>
<rect x="1618.4" y="498" width="27.3" height="15.3" fill="#fa7008"/>
<rect x="1645.2" y="498" width="82.2" height="15.3" fill="#fde27a"/>
<rect x="1726.9" y="498" width="82.2" height="15.3" fill="#fff4ca"/>
<rect x="1971.8" y="498" width="120.9" height="15.3" fill="#fde27a"/>
<mask id="mR0" maskUnits="userSpaceOnUse" x="0" y="0" width="2100" height="2521">
<rect x="1239.3" y="91.2" width="46.8" height="7.1" fill="#fff"/>
<rect x="1285.5" y="91.2" width="98.5" height="7.1" fill="#fff"/>
<rect x="1383.5" y="91.2" width="235.4" height="7.1" fill="#fff"/>
<rect x="1239.3" y="97.8" width="46.8" height="15.3" fill="#fff"/>
<rect x="1285.5" y="97.8" width="103.9" height="15.3" fill="#fff"/>
<rect x="1389" y="97.8" width="229.9" height="15.3" fill="#fff"/>
<rect x="1148.1" y="112.6" width="99.8" height="15.3" fill="#fff"/>
<rect x="1350.9" y="112.6" width="174.7" height="15.3" fill="#fff"/>
<rect x="1525.1" y="112.6" width="93.8" height="15.3" fill="#fff"/>
<rect x="1144.6" y="127.4" width="81.6" height="15.3" fill="#fff"/>
<rect x="1225.7" y="127.4" width="125.7" height="15.3" fill="#fff"/>
<rect x="1350.9" y="127.4" width="65.8" height="15.3" fill="#fff"/>
<rect x="1144.6" y="142.3" width="40.7" height="15.3" fill="#fff"/>
<rect x="1184.8" y="142.3" width="144.8" height="15.3" fill="#fff"/>
<rect x="1329.1" y="142.3" width="87.6" height="15.3" fill="#fff"/>
<rect x="1416.2" y="142.3" width="68.5" height="15.3" fill="#fff"/>
<rect x="1484.2" y="142.3" width="134.7" height="15.3" fill="#fff"/>
<rect x="1184.8" y="157.1" width="84.9" height="15.3" fill="#fff"/>
<rect x="1269.2" y="157.1" width="60.4" height="15.3" fill="#fff"/>
<rect x="1329.1" y="157.1" width="150.2" height="15.3" fill="#fff"/>
<rect x="1478.8" y="157.1" width="74" height="15.3" fill="#fff"/>
<rect x="1552.3" y="157.1" width="66.6" height="15.3" fill="#fff"/>
<rect x="1144.6" y="171.9" width="35.3" height="15.3" fill="#fff"/>
<rect x="1312.8" y="171.9" width="22.3" height="15.3" fill="#fff"/>
<rect x="1334.5" y="171.9" width="142" height="15.3" fill="#fff"/>
<rect x="1476.1" y="171.9" width="44" height="15.3" fill="#fff"/>
<rect x="1519.6" y="171.9" width="99.3" height="15.3" fill="#fff"/>
<rect x="1144.6" y="186.7" width="54.3" height="15.3" fill="#fff"/>
<rect x="1198.4" y="186.7" width="35.9" height="15.3" fill="#fff"/>
<rect x="1233.8" y="186.7" width="41.3" height="15.3" fill="#fff"/>
<rect x="1350.9" y="186.7" width="65.8" height="15.3" fill="#fff"/>
<rect x="1416.2" y="186.7" width="202.7" height="15.3" fill="#fff"/>
<rect x="1144.6" y="201.5" width="62.5" height="15.3" fill="#fff"/>
<rect x="1206.6" y="201.5" width="63.1" height="15.3" fill="#fff"/>
<rect x="1269.2" y="201.5" width="38.6" height="15.3" fill="#fff"/>
<rect x="1389" y="201.5" width="41.3" height="15.3" fill="#fff"/>
<rect x="1429.8" y="201.5" width="68.5" height="15.3" fill="#fff"/>
<rect x="1497.8" y="201.5" width="121.1" height="15.3" fill="#fff"/>
<rect x="1144.6" y="216.4" width="54.3" height="15.3" fill="#fff"/>
<rect x="1198.4" y="216.4" width="218.2" height="15.3" fill="#fff"/>
<rect x="1497.8" y="216.4" width="44" height="15.3" fill="#fff"/>
<rect x="1541.4" y="216.4" width="77.5" height="15.3" fill="#fff"/>
<rect x="1144.6" y="231.2" width="285.7" height="15.3" fill="#fff"/>
<rect x="1429.8" y="231.2" width="41.3" height="15.3" fill="#fff"/>
<rect x="1525.1" y="231.2" width="44" height="15.3" fill="#fff"/>
<rect x="1568.6" y="231.2" width="50.3" height="15.3" fill="#fff"/>
<rect x="1144.6" y="246" width="108.8" height="15.3" fill="#fff"/>
<rect x="1252.9" y="246" width="103.9" height="15.3" fill="#fff"/>
<rect x="1356.3" y="246" width="74" height="15.3" fill="#fff"/>
<rect x="1429.8" y="246" width="41.3" height="15.3" fill="#fff"/>
<rect x="1470.6" y="246" width="82.2" height="15.3" fill="#fff"/>
<rect x="1179.4" y="260.8" width="46.8" height="15.3" fill="#fff"/>
<rect x="1225.7" y="260.8" width="33.2" height="15.3" fill="#fff"/>
<rect x="1258.3" y="260.8" width="120.3" height="15.3" fill="#fff"/>
<rect x="1378.1" y="260.8" width="240.8" height="15.3" fill="#fff"/>
<rect x="1176.7" y="275.7" width="38.6" height="15.3" fill="#fff"/>
<rect x="1214.8" y="275.7" width="93" height="15.3" fill="#fff"/>
<rect x="1307.3" y="275.7" width="68.5" height="15.3" fill="#fff"/>
<rect x="1375.4" y="275.7" width="243.5" height="15.3" fill="#fff"/>
<rect x="1179.4" y="290.5" width="68.5" height="15.3" fill="#fff"/>
<rect x="1307.3" y="290.5" width="60.4" height="15.3" fill="#fff"/>
<rect x="1367.2" y="290.5" width="49.5" height="15.3" fill="#fff"/>
<rect x="1416.2" y="290.5" width="65.8" height="15.3" fill="#fff"/>
<rect x="1481.5" y="290.5" width="137.4" height="15.3" fill="#fff"/>
<rect x="1618.4" y="91.2" width="109" height="7.1" fill="#fff"/>
<rect x="1726.9" y="91.2" width="365.8" height="7.1" fill="#fff"/>
<rect x="1618.4" y="97.8" width="408.4" height="15.3" fill="#fff"/>
<rect x="2026.3" y="97.8" width="66.4" height="15.3" fill="#fff"/>
<rect x="1618.4" y="112.6" width="223.3" height="15.3" fill="#fff"/>
<rect x="1841.2" y="112.6" width="136.6" height="15.3" fill="#fff"/>
<rect x="1977.3" y="112.6" width="115.4" height="15.3" fill="#fff"/>
<rect x="1770.4" y="127.4" width="120.3" height="15.3" fill="#fff"/>
<rect x="1890.2" y="127.4" width="90.3" height="15.3" fill="#fff"/>
<rect x="1980" y="127.4" width="112.7" height="15.3" fill="#fff"/>
<rect x="1835.7" y="142.3" width="136.6" height="15.3" fill="#fff"/>
<rect x="1971.8" y="142.3" width="87.6" height="15.3" fill="#fff"/>
<rect x="2058.9" y="142.3" width="33.8" height="15.3" fill="#fff"/>
<rect x="1618.4" y="157.1" width="141.6" height="15.3" fill="#fff"/>
<rect x="1835.7" y="157.1" width="33.2" height="15.3" fill="#fff"/>
<rect x="1868.4" y="157.1" width="224.3" height="15.3" fill="#fff"/>
<rect x="1618.4" y="171.9" width="89.9" height="15.3" fill="#fff"/>
<rect x="1707.8" y="171.9" width="57.7" height="15.3" fill="#fff"/>
<rect x="1765" y="171.9" width="27.7" height="15.3" fill="#fff"/>
<rect x="1868.4" y="171.9" width="185.6" height="15.3" fill="#fff"/>
<rect x="2053.5" y="171.9" width="39.2" height="15.3" fill="#fff"/>
<rect x="1618.4" y="186.7" width="103.5" height="15.3" fill="#fff"/>
<rect x="1721.4" y="186.7" width="54.9" height="15.3" fill="#fff"/>
<rect x="1775.9" y="186.7" width="30.4" height="15.3" fill="#fff"/>
<rect x="1884.7" y="186.7" width="87.6" height="15.3" fill="#fff"/>
<rect x="1618.4" y="201.5" width="73.6" height="15.3" fill="#fff"/>
<rect x="1691.5" y="201.5" width="90.3" height="15.3" fill="#fff"/>
<rect x="1781.3" y="201.5" width="27.7" height="15.3" fill="#fff"/>
<rect x="1873.9" y="201.5" width="22.3" height="15.3" fill="#fff"/>
<rect x="1895.6" y="201.5" width="63.1" height="15.3" fill="#fff"/>
<rect x="1618.4" y="216.4" width="32.8" height="15.3" fill="#fff"/>
<rect x="1650.7" y="216.4" width="131.1" height="15.3" fill="#fff"/>
<rect x="1781.3" y="216.4" width="27.7" height="15.3" fill="#fff"/>
<rect x="1876.6" y="216.4" width="82.2" height="15.3" fill="#fff"/>
<rect x="1618.4" y="231.2" width="152.5" height="15.3" fill="#fff"/>
<rect x="1890.2" y="231.2" width="95.8" height="15.3" fill="#fff"/>
<rect x="1985.4" y="231.2" width="107.3" height="15.3" fill="#fff"/>
<rect x="1792.2" y="246" width="44" height="15.3" fill="#fff"/>
<rect x="1835.7" y="246" width="257" height="15.3" fill="#fff"/>
<rect x="1618.4" y="260.8" width="119.9" height="15.3" fill="#fff"/>
<rect x="1737.8" y="260.8" width="152.9" height="15.3" fill="#fff"/>
<rect x="1890.2" y="260.8" width="202.5" height="15.3" fill="#fff"/>
<rect x="1618.4" y="275.7" width="125.3" height="15.3" fill="#fff"/>
<rect x="1743.2" y="275.7" width="82.2" height="15.3" fill="#fff"/>
<rect x="1824.9" y="275.7" width="65.8" height="15.3" fill="#fff"/>
<rect x="1890.2" y="275.7" width="27.7" height="15.3" fill="#fff"/>
<rect x="1917.4" y="275.7" width="175.3" height="15.3" fill="#fff"/>
<rect x="1618.4" y="290.5" width="207" height="15.3" fill="#fff"/>
<rect x="1824.9" y="290.5" width="65.8" height="15.3" fill="#fff"/>
<rect x="1890.2" y="290.5" width="54.9" height="15.3" fill="#fff"/>
<rect x="1971.8" y="290.5" width="120.9" height="15.3" fill="#fff"/>
<rect x="1312.8" y="305.3" width="35.9" height="15.3" fill="#fff"/>
<rect x="1348.1" y="305.3" width="35.9" height="15.3" fill="#fff"/>
<rect x="1383.5" y="305.3" width="27.7" height="15.3" fill="#fff"/>
<rect x="1410.7" y="305.3" width="74" height="15.3" fill="#fff"/>
<rect x="1484.2" y="305.3" width="134.7" height="15.3" fill="#fff"/>
<rect x="1222.9" y="320.1" width="84.9" height="15.3" fill="#fff"/>
<rect x="1345.4" y="320.1" width="95.8" height="15.3" fill="#fff"/>
<rect x="1440.7" y="320.1" width="178.2" height="15.3" fill="#fff"/>
<rect x="1182.1" y="334.9" width="27.7" height="15.3" fill="#fff"/>
<rect x="1209.3" y="334.9" width="57.7" height="15.3" fill="#fff"/>
<rect x="1266.5" y="334.9" width="30.4" height="15.3" fill="#fff"/>
<rect x="1394.4" y="334.9" width="224.5" height="15.3" fill="#fff"/>
<rect x="1144.6" y="349.8" width="40.7" height="15.3" fill="#fff"/>
<rect x="1184.8" y="349.8" width="90.3" height="15.3" fill="#fff"/>
<rect x="1274.6" y="349.8" width="22.3" height="15.3" fill="#fff"/>
<rect x="1334.5" y="349.8" width="60.4" height="15.3" fill="#fff"/>
<rect x="1394.4" y="349.8" width="224.5" height="15.3" fill="#fff"/>
<rect x="1144.6" y="364.6" width="59.8" height="15.3" fill="#fff"/>
<rect x="1203.9" y="364.6" width="30.4" height="15.3" fill="#fff"/>
<rect x="1233.8" y="364.6" width="41.3" height="15.3" fill="#fff"/>
<rect x="1315.5" y="364.6" width="35.9" height="15.3" fill="#fff"/>
<rect x="1350.9" y="364.6" width="68.5" height="15.3" fill="#fff"/>
<rect x="1418.9" y="364.6" width="200" height="15.3" fill="#fff"/>
<rect x="1144.6" y="379.4" width="54.3" height="15.3" fill="#fff"/>
<rect x="1198.4" y="379.4" width="35.9" height="15.3" fill="#fff"/>
<rect x="1233.8" y="379.4" width="41.3" height="15.3" fill="#fff"/>
<rect x="1274.6" y="379.4" width="44" height="15.3" fill="#fff"/>
<rect x="1318.2" y="379.4" width="248.2" height="15.3" fill="#fff"/>
<rect x="1565.9" y="379.4" width="53" height="15.3" fill="#fff"/>
<rect x="1144.6" y="394.2" width="16.2" height="15.3" fill="#fff"/>
<rect x="1160.3" y="394.2" width="74" height="15.3" fill="#fff"/>
<rect x="1233.8" y="394.2" width="41.3" height="15.3" fill="#fff"/>
<rect x="1274.6" y="394.2" width="196.5" height="15.3" fill="#fff"/>
<rect x="1470.6" y="394.2" width="82.2" height="15.3" fill="#fff"/>
<rect x="1552.3" y="394.2" width="66.6" height="15.3" fill="#fff"/>
<rect x="1171.2" y="409" width="63.1" height="15.3" fill="#fff"/>
<rect x="1233.8" y="409" width="41.3" height="15.3" fill="#fff"/>
<rect x="1274.6" y="409" width="182.9" height="15.3" fill="#fff"/>
<rect x="1457" y="409" width="41.3" height="15.3" fill="#fff"/>
<rect x="1497.8" y="409" width="54.9" height="15.3" fill="#fff"/>
<rect x="1184.8" y="423.9" width="68.5" height="15.3" fill="#fff"/>
<rect x="1252.9" y="423.9" width="210.1" height="15.3" fill="#fff"/>
<rect x="1462.5" y="423.9" width="27.7" height="15.3" fill="#fff"/>
<rect x="1144.6" y="438.7" width="16.2" height="15.3" fill="#fff"/>
<rect x="1239.3" y="438.7" width="106.7" height="15.3" fill="#fff"/>
<rect x="1345.4" y="438.7" width="117.5" height="15.3" fill="#fff"/>
<rect x="1525.1" y="438.7" width="93.8" height="15.3" fill="#fff"/>
<rect x="1144.6" y="453.5" width="40.7" height="15.3" fill="#fff"/>
<rect x="1184.8" y="453.5" width="52.2" height="15.3" fill="#fff"/>
<rect x="1345.4" y="453.5" width="84.9" height="15.3" fill="#fff"/>
<rect x="1511.4" y="453.5" width="54.9" height="15.3" fill="#fff"/>
<rect x="1565.9" y="453.5" width="53" height="15.3" fill="#fff"/>
<rect x="1144.6" y="468.3" width="16.2" height="15.3" fill="#fff"/>
<rect x="1160.3" y="468.3" width="52.2" height="15.3" fill="#fff"/>
<rect x="1212" y="468.3" width="101.2" height="15.3" fill="#fff"/>
<rect x="1443.4" y="468.3" width="82.2" height="15.3" fill="#fff"/>
<rect x="1525.1" y="468.3" width="44" height="15.3" fill="#fff"/>
<rect x="1568.6" y="468.3" width="50.3" height="15.3" fill="#fff"/>
<rect x="1144.6" y="483.2" width="43.4" height="15.3" fill="#fff"/>
<rect x="1187.5" y="483.2" width="54.9" height="15.3" fill="#fff"/>
<rect x="1242" y="483.2" width="54.9" height="15.3" fill="#fff"/>
<rect x="1296.4" y="483.2" width="44" height="15.3" fill="#fff"/>
<rect x="1340" y="483.2" width="76.7" height="15.3" fill="#fff"/>
<rect x="1443.4" y="483.2" width="68.5" height="15.3" fill="#fff"/>
<rect x="1511.4" y="483.2" width="27.7" height="15.3" fill="#fff"/>
<rect x="1538.7" y="483.2" width="80.2" height="15.3" fill="#fff"/>
<rect x="1144.6" y="498" width="54.3" height="15.3" fill="#fff"/>
<rect x="1198.4" y="498" width="35.9" height="15.3" fill="#fff"/>
<rect x="1296.4" y="498" width="120.3" height="15.3" fill="#fff"/>
<rect x="1443.4" y="498" width="76.7" height="15.3" fill="#fff"/>
<rect x="1519.6" y="498" width="99.3" height="15.3" fill="#fff"/>
<rect x="1618.4" y="305.3" width="16.4" height="15.3" fill="#fff"/>
<rect x="1634.3" y="305.3" width="106.7" height="15.3" fill="#fff"/>
<rect x="1740.5" y="305.3" width="54.9" height="15.3" fill="#fff"/>
<rect x="1794.9" y="305.3" width="74" height="15.3" fill="#fff"/>
<rect x="1925.6" y="305.3" width="74" height="15.3" fill="#fff"/>
<rect x="1999.1" y="305.3" width="93.6" height="15.3" fill="#fff"/>
<rect x="1686" y="320.1" width="41.3" height="15.3" fill="#fff"/>
<rect x="1726.9" y="320.1" width="27.7" height="15.3" fill="#fff"/>
<rect x="1754.1" y="320.1" width="338.6" height="15.3" fill="#fff"/>
<rect x="1618.4" y="334.9" width="27.3" height="15.3" fill="#fff"/>
<rect x="1645.2" y="334.9" width="54.9" height="15.3" fill="#fff"/>
<rect x="1699.7" y="334.9" width="54.9" height="15.3" fill="#fff"/>
<rect x="1754.1" y="334.9" width="71.3" height="15.3" fill="#fff"/>
<rect x="1824.9" y="334.9" width="155.6" height="15.3" fill="#fff"/>
<rect x="1980" y="334.9" width="112.7" height="15.3" fill="#fff"/>
<rect x="1618.4" y="349.8" width="27.3" height="15.3" fill="#fff"/>
<rect x="1645.2" y="349.8" width="82.2" height="15.3" fill="#fff"/>
<rect x="1726.9" y="349.8" width="82.2" height="15.3" fill="#fff"/>
<rect x="1808.5" y="349.8" width="163.8" height="15.3" fill="#fff"/>
<rect x="1971.8" y="349.8" width="120.9" height="15.3" fill="#fff"/>
<rect x="1618.4" y="364.6" width="217.8" height="15.3" fill="#fff"/>
<rect x="1835.7" y="364.6" width="54.9" height="15.3" fill="#fff"/>
<rect x="1890.2" y="364.6" width="177.4" height="15.3" fill="#fff"/>
<rect x="2067.1" y="364.6" width="25.6" height="15.3" fill="#fff"/>
<rect x="1618.4" y="379.4" width="27.3" height="15.3" fill="#fff"/>
<rect x="1645.2" y="379.4" width="54.9" height="15.3" fill="#fff"/>
<rect x="1699.7" y="379.4" width="109.4" height="15.3" fill="#fff"/>
<rect x="1808.5" y="379.4" width="259.1" height="15.3" fill="#fff"/>
<rect x="2067.1" y="379.4" width="25.6" height="15.3" fill="#fff"/>
<rect x="1618.4" y="394.2" width="13.7" height="15.3" fill="#fff"/>
<rect x="1631.6" y="394.2" width="177.4" height="15.3" fill="#fff"/>
<rect x="1808.5" y="394.2" width="191" height="15.3" fill="#fff"/>
<rect x="1999.1" y="394.2" width="93.6" height="15.3" fill="#fff"/>
<rect x="1849.4" y="409" width="54.9" height="15.3" fill="#fff"/>
<rect x="1903.8" y="409" width="123" height="15.3" fill="#fff"/>
<rect x="2026.3" y="409" width="66.4" height="15.3" fill="#fff"/>
<rect x="1618.4" y="423.9" width="109" height="15.3" fill="#fff"/>
<rect x="1726.9" y="423.9" width="109.4" height="15.3" fill="#fff"/>
<rect x="1618.4" y="438.7" width="81.8" height="15.3" fill="#fff"/>
<rect x="1699.7" y="438.7" width="54.9" height="15.3" fill="#fff"/>
<rect x="1754.1" y="438.7" width="82.2" height="15.3" fill="#fff"/>
<rect x="1944.6" y="438.7" width="41.3" height="15.3" fill="#fff"/>
<rect x="1985.4" y="438.7" width="107.3" height="15.3" fill="#fff"/>
<rect x="1618.4" y="453.5" width="27.3" height="15.3" fill="#fff"/>
<rect x="1645.2" y="453.5" width="54.9" height="15.3" fill="#fff"/>
<rect x="1699.7" y="453.5" width="54.9" height="15.3" fill="#fff"/>
<rect x="1754.1" y="453.5" width="60.4" height="15.3" fill="#fff"/>
<rect x="1944.6" y="453.5" width="35.9" height="15.3" fill="#fff"/>
<rect x="1980" y="453.5" width="60.4" height="15.3" fill="#fff"/>
<rect x="2039.9" y="453.5" width="52.8" height="15.3" fill="#fff"/>
<rect x="1618.4" y="468.3" width="40.9" height="15.3" fill="#fff"/>
<rect x="1658.8" y="468.3" width="68.5" height="15.3" fill="#fff"/>
<rect x="1726.9" y="468.3" width="82.2" height="15.3" fill="#fff"/>
<rect x="1971.8" y="468.3" width="82.2" height="15.3" fill="#fff"/>
<rect x="2053.5" y="468.3" width="39.2" height="15.3" fill="#fff"/>
<rect x="1618.4" y="483.2" width="27.3" height="15.3" fill="#fff"/>
<rect x="1645.2" y="483.2" width="68.5" height="15.3" fill="#fff"/>
<rect x="1713.3" y="483.2" width="95.8" height="15.3" fill="#fff"/>
<rect x="1971.8" y="483.2" width="109.4" height="15.3" fill="#fff"/>
<rect x="2080.7" y="483.2" width="12" height="15.3" fill="#fff"/>
<rect x="1618.4" y="498" width="27.3" height="15.3" fill="#fff"/>
<rect x="1645.2" y="498" width="82.2" height="15.3" fill="#fff"/>
<rect x="1726.9" y="498" width="82.2" height="15.3" fill="#fff"/>
<rect x="1971.8" y="498" width="120.9" height="15.3" fill="#fff"/>
</mask>
<rect x="1144.6" y="91.2" width="947.6" height="421.6" fill="url(#dots)" mask="url(#mR0)"/>
<rect x="1144.6" y="686.2" width="54.3" height="7.1" fill="#ead4fa"/>
<rect x="1389" y="686.2" width="27.7" height="7.1" fill="#fff4ca"/>
<rect x="1416.2" y="686.2" width="202.7" height="7.1" fill="#fde27a"/>
<rect x="1144.6" y="692.8" width="57.1" height="15.3" fill="#dfb7fb"/>
<rect x="1201.2" y="692.8" width="46.8" height="15.3" fill="#ead4fa"/>
<rect x="1394.4" y="692.8" width="49.5" height="15.3" fill="#fff4ca"/>
<rect x="1443.4" y="692.8" width="175.5" height="15.3" fill="#fde27a"/>
<rect x="1144.6" y="707.6" width="195.9" height="15.3" fill="#ead4fa"/>
<rect x="1457" y="707.6" width="161.9" height="15.3" fill="#fff4ca"/>
<rect x="1206.6" y="722.4" width="82.2" height="15.3" fill="#ead4fa"/>
<rect x="1288.3" y="722.4" width="114.8" height="15.3" fill="#dfb7fb"/>
<rect x="1465.2" y="722.4" width="153.7" height="15.3" fill="#fff4ca"/>
<rect x="1173.9" y="737.3" width="106.7" height="15.3" fill="#fff4ca"/>
<rect x="1334.5" y="737.3" width="109.4" height="15.3" fill="#dfb7fb"/>
<rect x="1511.4" y="737.3" width="107.5" height="15.3" fill="#fff4ca"/>
<rect x="1144.6" y="752.1" width="32.6" height="15.3" fill="#fde27a"/>
<rect x="1176.7" y="752.1" width="90.3" height="15.3" fill="#fff4ca"/>
<rect x="1367.2" y="752.1" width="65.8" height="15.3" fill="#dfb7fb"/>
<rect x="1432.5" y="752.1" width="38.6" height="15.3" fill="#ead4fa"/>
<rect x="1144.6" y="766.9" width="62.5" height="15.3" fill="#fa7008"/>
<rect x="1206.6" y="766.9" width="27.7" height="15.3" fill="#fbae3a"/>
<rect x="1233.8" y="766.9" width="46.8" height="15.3" fill="#fde27a"/>
<rect x="1144.6" y="781.7" width="67.9" height="15.3" fill="#fa7008"/>
<rect x="1212" y="781.7" width="35.9" height="15.3" fill="#fbae3a"/>
<rect x="1247.4" y="781.7" width="60.4" height="15.3" fill="#fde27a"/>
<rect x="1307.3" y="781.7" width="44" height="15.3" fill="#fff4ca"/>
<rect x="1525.1" y="781.7" width="93.8" height="15.3" fill="#ead4fa"/>
<rect x="1144.6" y="796.5" width="19" height="15.3" fill="#e32b22"/>
<rect x="1163.1" y="796.5" width="71.3" height="15.3" fill="#fa7008"/>
<rect x="1233.8" y="796.5" width="25" height="15.3" fill="#fbae3a"/>
<rect x="1258.3" y="796.5" width="76.7" height="15.3" fill="#fde27a"/>
<rect x="1334.5" y="796.5" width="49.5" height="15.3" fill="#fff4ca"/>
<rect x="1519.6" y="796.5" width="33.2" height="15.3" fill="#ead4fa"/>
<rect x="1552.3" y="796.5" width="66.6" height="15.3" fill="#dfb7fb"/>
<rect x="1144.6" y="811.4" width="89.7" height="15.3" fill="#fa7008"/>
<rect x="1233.8" y="811.4" width="25" height="15.3" fill="#fbae3a"/>
<rect x="1258.3" y="811.4" width="158.4" height="15.3" fill="#fde27a"/>
<rect x="1416.2" y="811.4" width="54.9" height="15.3" fill="#fff4ca"/>
<rect x="1546.8" y="811.4" width="72.1" height="15.3" fill="#ead4fa"/>
<rect x="1144.6" y="826.2" width="35.3" height="15.3" fill="#fa7008"/>
<rect x="1179.4" y="826.2" width="46.8" height="15.3" fill="#fbae3a"/>
<rect x="1225.7" y="826.2" width="272.7" height="15.3" fill="#fde27a"/>
<rect x="1497.8" y="826.2" width="49.5" height="15.3" fill="#fff4ca"/>
<rect x="1209.3" y="841" width="25" height="15.3" fill="#fff4ca"/>
<rect x="1233.8" y="841" width="169.3" height="15.3" fill="#fde27a"/>
<rect x="1402.6" y="841" width="216.3" height="15.3" fill="#fbae3a"/>
<rect x="1144.6" y="855.8" width="27.1" height="15.3" fill="#dfb7fb"/>
<rect x="1171.2" y="855.8" width="35.9" height="15.3" fill="#ead4fa"/>
<rect x="1233.8" y="855.8" width="155.6" height="15.3" fill="#fde27a"/>
<rect x="1389" y="855.8" width="41.3" height="15.3" fill="#fbae3a"/>
<rect x="1429.8" y="855.8" width="189.1" height="15.3" fill="#fa7008"/>
<rect x="1144.6" y="870.7" width="21.7" height="15.3" fill="#8c12dc"/>
<rect x="1165.8" y="870.7" width="33.2" height="15.3" fill="#b24cf5"/>
<rect x="1198.4" y="870.7" width="27.7" height="15.3" fill="#ead4fa"/>
<rect x="1239.3" y="870.7" width="123" height="15.3" fill="#fde27a"/>
<rect x="1361.7" y="870.7" width="41.3" height="15.3" fill="#fbae3a"/>
<rect x="1402.6" y="870.7" width="27.7" height="15.3" fill="#fa7008"/>
<rect x="1429.8" y="870.7" width="41.3" height="15.3" fill="#e32b22"/>
<rect x="1470.6" y="870.7" width="148.3" height="15.3" fill="#fa7008"/>
<rect x="1144.6" y="885.5" width="27.1" height="15.3" fill="#8c12dc"/>
<rect x="1171.2" y="885.5" width="27.7" height="15.3" fill="#b24cf5"/>
<rect x="1198.4" y="885.5" width="49.5" height="15.3" fill="#ead4fa"/>
<rect x="1247.4" y="885.5" width="114.8" height="15.3" fill="#fff4ca"/>
<rect x="1361.7" y="885.5" width="257.2" height="15.3" fill="#fa7008"/>
<rect x="1618.4" y="686.2" width="40.9" height="7.1" fill="#fde27a"/>
<rect x="1658.8" y="686.2" width="218.2" height="7.1" fill="#fff4ca"/>
<rect x="1876.6" y="686.2" width="136.6" height="7.1" fill="#fde27a"/>
<rect x="2012.7" y="686.2" width="80" height="7.1" fill="#fff4ca"/>
<rect x="1618.4" y="692.8" width="250.5" height="15.3" fill="#fff4ca"/>
<rect x="1868.4" y="692.8" width="224.3" height="15.3" fill="#fde27a"/>
<rect x="1618.4" y="707.6" width="49.1" height="15.3" fill="#fff4ca"/>
<rect x="1781.3" y="707.6" width="68.5" height="15.3" fill="#fff4ca"/>
<rect x="1849.4" y="707.6" width="243.3" height="15.3" fill="#fde27a"/>
<rect x="1808.5" y="722.4" width="41.3" height="15.3" fill="#fff4ca"/>
<rect x="1849.4" y="722.4" width="243.3" height="15.3" fill="#fde27a"/>
<rect x="1618.4" y="737.3" width="65.4" height="15.3" fill="#fff4ca"/>
<rect x="1803.1" y="737.3" width="114.8" height="15.3" fill="#fff4ca"/>
<rect x="1917.4" y="737.3" width="175.3" height="15.3" fill="#fde27a"/>
<rect x="1618.4" y="752.1" width="65.4" height="15.3" fill="#fff4ca"/>
<rect x="1903.8" y="752.1" width="54.9" height="15.3" fill="#fde27a"/>
<rect x="1958.2" y="752.1" width="134.5" height="15.3" fill="#fbae3a"/>
<rect x="1721.4" y="766.9" width="109.4" height="15.3" fill="#ead4fa"/>
<rect x="1912" y="766.9" width="33.2" height="15.3" fill="#fde27a"/>
<rect x="1944.6" y="766.9" width="49.5" height="15.3" fill="#fbae3a"/>
<rect x="1993.6" y="766.9" width="99.1" height="15.3" fill="#fa7008"/>
<rect x="1618.4" y="781.7" width="76.3" height="15.3" fill="#ead4fa"/>
<rect x="1694.2" y="781.7" width="169.3" height="15.3" fill="#dfb7fb"/>
<rect x="1863" y="781.7" width="41.3" height="15.3" fill="#ead4fa"/>
<rect x="1952.8" y="781.7" width="41.3" height="15.3" fill="#fbae3a"/>
<rect x="1993.6" y="781.7" width="99.1" height="15.3" fill="#fa7008"/>
<rect x="1618.4" y="796.5" width="272.3" height="15.3" fill="#dfb7fb"/>
<rect x="1890.2" y="796.5" width="54.9" height="15.3" fill="#ead4fa"/>
<rect x="1969.1" y="796.5" width="57.7" height="15.3" fill="#fbae3a"/>
<rect x="2026.3" y="796.5" width="66.4" height="15.3" fill="#fa7008"/>
<rect x="1618.4" y="811.4" width="49.1" height="15.3" fill="#dfb7fb"/>
<rect x="1667" y="811.4" width="93" height="15.3" fill="#ead4fa"/>
<rect x="1958.2" y="811.4" width="82.2" height="15.3" fill="#fde27a"/>
<rect x="2039.9" y="811.4" width="52.8" height="15.3" fill="#fa7008"/>
<rect x="1618.4" y="826.2" width="21.9" height="15.3" fill="#ead4fa"/>
<rect x="1713.3" y="826.2" width="35.9" height="15.3" fill="#fff4ca"/>
<rect x="1748.6" y="826.2" width="93" height="15.3" fill="#fde27a"/>
<rect x="1841.2" y="826.2" width="76.7" height="15.3" fill="#fbae3a"/>
<rect x="1917.4" y="826.2" width="54.9" height="15.3" fill="#fde27a"/>
<rect x="2042.6" y="826.2" width="50.1" height="15.3" fill="#fbae3a"/>
<rect x="1618.4" y="841" width="54.5" height="15.3" fill="#fde27a"/>
<rect x="1672.4" y="841" width="76.7" height="15.3" fill="#fbae3a"/>
<rect x="1748.6" y="841" width="169.3" height="15.3" fill="#fa7008"/>
<rect x="1917.4" y="841" width="27.7" height="15.3" fill="#fbae3a"/>
<rect x="1980" y="841" width="112.7" height="15.3" fill="#fde27a"/>
<rect x="1618.4" y="855.8" width="136.2" height="15.3" fill="#fa7008"/>
<rect x="1754.1" y="855.8" width="123" height="15.3" fill="#e32b22"/>
<rect x="1876.6" y="855.8" width="54.9" height="15.3" fill="#fa7008"/>
<rect x="1931" y="855.8" width="27.7" height="15.3" fill="#fde27a"/>
<rect x="1999.1" y="855.8" width="54.9" height="15.3" fill="#ead4fa"/>
<rect x="1618.4" y="870.7" width="136.2" height="15.3" fill="#fa7008"/>
<rect x="1754.1" y="870.7" width="123" height="15.3" fill="#e32b22"/>
<rect x="1876.6" y="870.7" width="54.9" height="15.3" fill="#fa7008"/>
<rect x="1966.4" y="870.7" width="60.4" height="15.3" fill="#dfb7fb"/>
<rect x="2026.3" y="870.7" width="66.4" height="15.3" fill="#b24cf5"/>
<rect x="1618.4" y="885.5" width="299.5" height="15.3" fill="#fa7008"/>
<rect x="1917.4" y="885.5" width="49.5" height="15.3" fill="#ead4fa"/>
<rect x="1966.4" y="885.5" width="33.2" height="15.3" fill="#b24cf5"/>
<rect x="1999.1" y="885.5" width="93.6" height="15.3" fill="#8c12dc"/>
<rect x="1144.6" y="900.3" width="32.6" height="15.3" fill="#b24cf5"/>
<rect x="1176.7" y="900.3" width="35.9" height="15.3" fill="#ead4fa"/>
<rect x="1348.1" y="900.3" width="30.4" height="15.3" fill="#fbae3a"/>
<rect x="1378.1" y="900.3" width="106.7" height="15.3" fill="#fa7008"/>
<rect x="1538.7" y="900.3" width="80.2" height="15.3" fill="#fde27a"/>
<rect x="1144.6" y="915.1" width="35.3" height="15.3" fill="#ead4fa"/>
<rect x="1179.4" y="915.1" width="46.8" height="15.3" fill="#dfb7fb"/>
<rect x="1225.7" y="915.1" width="71.3" height="15.3" fill="#b24cf5"/>
<rect x="1296.4" y="915.1" width="38.6" height="15.3" fill="#ead4fa"/>
<rect x="1416.2" y="915.1" width="27.7" height="15.3" fill="#ead4fa"/>
<rect x="1443.4" y="915.1" width="175.5" height="15.3" fill="#b24cf5"/>
<rect x="1144.6" y="929.9" width="27.1" height="15.3" fill="#ead4fa"/>
<rect x="1171.2" y="929.9" width="27.7" height="15.3" fill="#b24cf5"/>
<rect x="1198.4" y="929.9" width="76.7" height="15.3" fill="#8c12dc"/>
<rect x="1274.6" y="929.9" width="33.2" height="15.3" fill="#b24cf5"/>
<rect x="1307.3" y="929.9" width="27.7" height="15.3" fill="#ead4fa"/>
<rect x="1378.1" y="929.9" width="38.6" height="15.3" fill="#dfb7fb"/>
<rect x="1416.2" y="929.9" width="16.8" height="15.3" fill="#b24cf5"/>
<rect x="1432.5" y="929.9" width="38.6" height="15.3" fill="#4f0a78"/>
<rect x="1470.6" y="929.9" width="54.9" height="15.3" fill="#8c12dc"/>
<rect x="1525.1" y="929.9" width="93.8" height="15.3" fill="#b24cf5"/>
<rect x="1144.6" y="944.8" width="27.1" height="15.3" fill="#ead4fa"/>
<rect x="1171.2" y="944.8" width="68.5" height="15.3" fill="#b24cf5"/>
<rect x="1239.3" y="944.8" width="27.7" height="15.3" fill="#dfb7fb"/>
<rect x="1307.3" y="944.8" width="44" height="15.3" fill="#ead4fa"/>
<rect x="1350.9" y="944.8" width="27.7" height="15.3" fill="#b24cf5"/>
<rect x="1378.1" y="944.8" width="38.6" height="15.3" fill="#8c12dc"/>
<rect x="1416.2" y="944.8" width="54.9" height="15.3" fill="#4f0a78"/>
<rect x="1470.6" y="944.8" width="148.3" height="15.3" fill="#8c12dc"/>
<rect x="1144.6" y="959.6" width="27.1" height="15.3" fill="#ead4fa"/>
<rect x="1171.2" y="959.6" width="54.9" height="15.3" fill="#b24cf5"/>
<rect x="1225.7" y="959.6" width="38.6" height="15.3" fill="#ead4fa"/>
<rect x="1312.8" y="959.6" width="22.3" height="15.3" fill="#ead4fa"/>
<rect x="1334.5" y="959.6" width="44" height="15.3" fill="#b24cf5"/>
<rect x="1378.1" y="959.6" width="52.2" height="15.3" fill="#4f0a78"/>
<rect x="1429.8" y="959.6" width="150.2" height="15.3" fill="#8c12dc"/>
<rect x="1579.5" y="959.6" width="39.4" height="15.3" fill="#4f0a78"/>
<rect x="1163.1" y="974.4" width="57.7" height="15.3" fill="#ead4fa"/>
<rect x="1220.2" y="974.4" width="38.6" height="15.3" fill="#fff4ca"/>
<rect x="1291" y="974.4" width="27.7" height="15.3" fill="#dfb7fb"/>
<rect x="1318.2" y="974.4" width="60.4" height="15.3" fill="#8c12dc"/>
<rect x="1378.1" y="974.4" width="52.2" height="15.3" fill="#4f0a78"/>
<rect x="1429.8" y="974.4" width="103.9" height="15.3" fill="#8c12dc"/>
<rect x="1533.2" y="974.4" width="27.7" height="15.3" fill="#4f0a78"/>
<rect x="1560.4" y="974.4" width="19.6" height="15.3" fill="#8c12dc"/>
<rect x="1579.5" y="974.4" width="39.4" height="15.3" fill="#4f0a78"/>
<rect x="1165.8" y="989.2" width="33.2" height="15.3" fill="#fff4ca"/>
<rect x="1233.8" y="989.2" width="52.2" height="15.3" fill="#ead4fa"/>
<rect x="1285.5" y="989.2" width="33.2" height="15.3" fill="#b24cf5"/>
<rect x="1318.2" y="989.2" width="60.4" height="15.3" fill="#8c12dc"/>
<rect x="1378.1" y="989.2" width="52.2" height="15.3" fill="#4f0a78"/>
<rect x="1429.8" y="989.2" width="189.1" height="15.3" fill="#8c12dc"/>
<rect x="1160.3" y="1004" width="63.1" height="15.3" fill="#fde27a"/>
<rect x="1258.3" y="1004" width="27.7" height="15.3" fill="#ead4fa"/>
<rect x="1285.5" y="1004" width="33.2" height="15.3" fill="#b24cf5"/>
<rect x="1318.2" y="1004" width="300.7" height="15.3" fill="#8c12dc"/>
<rect x="1144.6" y="1018.9" width="16.2" height="15.3" fill="#fff4ca"/>
<rect x="1160.3" y="1018.9" width="38.6" height="15.3" fill="#fde27a"/>
<rect x="1198.4" y="1018.9" width="27.7" height="15.3" fill="#fff4ca"/>
<rect x="1258.3" y="1018.9" width="27.7" height="15.3" fill="#ead4fa"/>
<rect x="1285.5" y="1018.9" width="49.5" height="15.3" fill="#b24cf5"/>
<rect x="1334.5" y="1018.9" width="284.4" height="15.3" fill="#8c12dc"/>
<rect x="1144.6" y="1033.7" width="40.7" height="15.3" fill="#fff4ca"/>
<rect x="1247.4" y="1033.7" width="33.2" height="15.3" fill="#ead4fa"/>
<rect x="1280.1" y="1033.7" width="65.8" height="15.3" fill="#dfb7fb"/>
<rect x="1345.4" y="1033.7" width="152.9" height="15.3" fill="#b24cf5"/>
<rect x="1497.8" y="1033.7" width="121.1" height="15.3" fill="#dfb7fb"/>
<rect x="1225.7" y="1048.5" width="49.5" height="15.3" fill="#ead4fa"/>
<rect x="1274.6" y="1048.5" width="87.6" height="15.3" fill="#dfb7fb"/>
<rect x="1361.7" y="1048.5" width="144.8" height="15.3" fill="#b24cf5"/>
<rect x="1506" y="1048.5" width="112.9" height="15.3" fill="#ead4fa"/>
<rect x="1212" y="1063.3" width="150.2" height="15.3" fill="#ead4fa"/>
<rect x="1361.7" y="1063.3" width="82.2" height="15.3" fill="#b24cf5"/>
<rect x="1443.4" y="1063.3" width="49.5" height="15.3" fill="#dfb7fb"/>
<rect x="1492.4" y="1063.3" width="126.5" height="15.3" fill="#ead4fa"/>
<rect x="1179.4" y="1078.2" width="54.9" height="15.3" fill="#ead4fa"/>
<rect x="1233.8" y="1078.2" width="128.4" height="15.3" fill="#dfb7fb"/>
<rect x="1361.7" y="1078.2" width="82.2" height="15.3" fill="#b24cf5"/>
<rect x="1443.4" y="1078.2" width="54.9" height="15.3" fill="#dfb7fb"/>
<rect x="1497.8" y="1078.2" width="121.1" height="15.3" fill="#ead4fa"/>
<rect x="1144.6" y="1093" width="27.1" height="15.3" fill="#ead4fa"/>
<rect x="1212" y="1093" width="84.9" height="15.3" fill="#dfb7fb"/>
<rect x="1296.4" y="1093" width="65.8" height="15.3" fill="#ead4fa"/>
<rect x="1361.7" y="1093" width="90.3" height="15.3" fill="#b24cf5"/>
<rect x="1497.8" y="1093" width="121.1" height="15.3" fill="#ead4fa"/>
<rect x="1618.4" y="900.3" width="177" height="15.3" fill="#fa7008"/>
<rect x="1794.9" y="900.3" width="82.2" height="15.3" fill="#fbae3a"/>
<rect x="1931" y="900.3" width="41.3" height="15.3" fill="#dfb7fb"/>
<rect x="1971.8" y="900.3" width="120.9" height="15.3" fill="#b24cf5"/>
<rect x="1645.2" y="915.1" width="63.1" height="15.3" fill="#ead4fa"/>
<rect x="1707.8" y="915.1" width="169.3" height="15.3" fill="#b24cf5"/>
<rect x="1876.6" y="915.1" width="177.4" height="15.3" fill="#8c12dc"/>
<rect x="2053.5" y="915.1" width="39.2" height="15.3" fill="#4f0a78"/>
<rect x="1618.4" y="929.9" width="19.2" height="15.3" fill="#ead4fa"/>
<rect x="1637.1" y="929.9" width="68.5" height="15.3" fill="#b24cf5"/>
<rect x="1705.1" y="929.9" width="90.3" height="15.3" fill="#8c12dc"/>
<rect x="1794.9" y="929.9" width="150.2" height="15.3" fill="#4f0a78"/>
<rect x="1944.6" y="929.9" width="109.4" height="15.3" fill="#8c12dc"/>
<rect x="2053.5" y="929.9" width="39.2" height="15.3" fill="#4f0a78"/>
<rect x="1618.4" y="944.8" width="109" height="15.3" fill="#8c12dc"/>
<rect x="1726.9" y="944.8" width="204.6" height="15.3" fill="#4f0a78"/>
<rect x="1931" y="944.8" width="161.7" height="15.3" fill="#8c12dc"/>
<rect x="1618.4" y="959.6" width="81.8" height="15.3" fill="#4f0a78"/>
<rect x="1699.7" y="959.6" width="65.8" height="15.3" fill="#8c12dc"/>
<rect x="1765" y="959.6" width="112.1" height="15.3" fill="#4f0a78"/>
<rect x="1876.6" y="959.6" width="68.5" height="15.3" fill="#8c12dc"/>
<rect x="1944.6" y="959.6" width="148.1" height="15.3" fill="#dfb7fb"/>
<rect x="1618.4" y="974.4" width="40.9" height="15.3" fill="#4f0a78"/>
<rect x="1658.8" y="974.4" width="218.2" height="15.3" fill="#8c12dc"/>
<rect x="1876.6" y="974.4" width="54.9" height="15.3" fill="#b24cf5"/>
<rect x="1931" y="974.4" width="161.7" height="15.3" fill="#dfb7fb"/>
<rect x="1618.4" y="989.2" width="163.4" height="15.3" fill="#8c12dc"/>
<rect x="1781.3" y="989.2" width="98.5" height="15.3" fill="#b24cf5"/>
<rect x="1879.3" y="989.2" width="213.4" height="15.3" fill="#dfb7fb"/>
<rect x="1618.4" y="1004" width="81.8" height="15.3" fill="#b24cf5"/>
<rect x="1699.7" y="1004" width="163.8" height="15.3" fill="#dfb7fb"/>
<rect x="1863" y="1004" width="229.7" height="15.3" fill="#ead4fa"/>
<rect x="1618.4" y="1018.9" width="54.5" height="15.3" fill="#b24cf5"/>
<rect x="1672.4" y="1018.9" width="27.7" height="15.3" fill="#dfb7fb"/>
<rect x="1699.7" y="1018.9" width="163.8" height="15.3" fill="#ead4fa"/>
<rect x="2026.3" y="1018.9" width="66.4" height="15.3" fill="#fff4ca"/>
<rect x="1618.4" y="1033.7" width="70.9" height="15.3" fill="#dfb7fb"/>
<rect x="1767.7" y="1033.7" width="123" height="15.3" fill="#ead4fa"/>
<rect x="1999.1" y="1033.7" width="93.6" height="15.3" fill="#fde27a"/>
<rect x="1618.4" y="1048.5" width="73.6" height="15.3" fill="#ead4fa"/>
<rect x="1767.7" y="1048.5" width="123" height="15.3" fill="#ead4fa"/>
<rect x="1917.4" y="1048.5" width="175.3" height="15.3" fill="#fde27a"/>
<rect x="1618.4" y="1063.3" width="81.8" height="15.3" fill="#ead4fa"/>
<rect x="1767.7" y="1063.3" width="95.8" height="15.3" fill="#ead4fa"/>
<rect x="1917.4" y="1063.3" width="175.3" height="15.3" fill="#fde27a"/>
<rect x="1618.4" y="1078.2" width="87.2" height="15.3" fill="#ead4fa"/>
<rect x="1890.2" y="1078.2" width="27.7" height="15.3" fill="#fff4ca"/>
<rect x="1917.4" y="1078.2" width="41.3" height="15.3" fill="#fde27a"/>
<rect x="1958.2" y="1078.2" width="134.5" height="15.3" fill="#fbae3a"/>
<rect x="1618.4" y="1093" width="87.2" height="15.3" fill="#ead4fa"/>
<rect x="1890.2" y="1093" width="68.5" height="15.3" fill="#fde27a"/>
<rect x="1958.2" y="1093" width="134.5" height="15.3" fill="#fbae3a"/>
<mask id="mR1" maskUnits="userSpaceOnUse" x="0" y="0" width="2100" height="2521">
<rect x="1416.2" y="686.2" width="202.7" height="7.1" fill="#fff"/>
<rect x="1144.6" y="692.8" width="57.1" height="15.3" fill="#fff"/>
<rect x="1443.4" y="692.8" width="175.5" height="15.3" fill="#fff"/>
<rect x="1288.3" y="722.4" width="114.8" height="15.3" fill="#fff"/>
<rect x="1334.5" y="737.3" width="109.4" height="15.3" fill="#fff"/>
<rect x="1144.6" y="752.1" width="32.6" height="15.3" fill="#fff"/>
<rect x="1367.2" y="752.1" width="65.8" height="15.3" fill="#fff"/>
<rect x="1144.6" y="766.9" width="62.5" height="15.3" fill="#fff"/>
<rect x="1206.6" y="766.9" width="27.7" height="15.3" fill="#fff"/>
<rect x="1233.8" y="766.9" width="46.8" height="15.3" fill="#fff"/>
<rect x="1144.6" y="781.7" width="67.9" height="15.3" fill="#fff"/>
<rect x="1212" y="781.7" width="35.9" height="15.3" fill="#fff"/>
<rect x="1247.4" y="781.7" width="60.4" height="15.3" fill="#fff"/>
<rect x="1144.6" y="796.5" width="19" height="15.3" fill="#fff"/>
<rect x="1163.1" y="796.5" width="71.3" height="15.3" fill="#fff"/>
<rect x="1233.8" y="796.5" width="25" height="15.3" fill="#fff"/>
<rect x="1258.3" y="796.5" width="76.7" height="15.3" fill="#fff"/>
<rect x="1552.3" y="796.5" width="66.6" height="15.3" fill="#fff"/>
<rect x="1144.6" y="811.4" width="89.7" height="15.3" fill="#fff"/>
<rect x="1233.8" y="811.4" width="25" height="15.3" fill="#fff"/>
<rect x="1258.3" y="811.4" width="158.4" height="15.3" fill="#fff"/>
<rect x="1144.6" y="826.2" width="35.3" height="15.3" fill="#fff"/>
<rect x="1179.4" y="826.2" width="46.8" height="15.3" fill="#fff"/>
<rect x="1225.7" y="826.2" width="272.7" height="15.3" fill="#fff"/>
<rect x="1233.8" y="841" width="169.3" height="15.3" fill="#fff"/>
<rect x="1402.6" y="841" width="216.3" height="15.3" fill="#fff"/>
<rect x="1144.6" y="855.8" width="27.1" height="15.3" fill="#fff"/>
<rect x="1233.8" y="855.8" width="155.6" height="15.3" fill="#fff"/>
<rect x="1389" y="855.8" width="41.3" height="15.3" fill="#fff"/>
<rect x="1429.8" y="855.8" width="189.1" height="15.3" fill="#fff"/>
<rect x="1144.6" y="870.7" width="21.7" height="15.3" fill="#fff"/>
<rect x="1165.8" y="870.7" width="33.2" height="15.3" fill="#fff"/>
<rect x="1239.3" y="870.7" width="123" height="15.3" fill="#fff"/>
<rect x="1361.7" y="870.7" width="41.3" height="15.3" fill="#fff"/>
<rect x="1402.6" y="870.7" width="27.7" height="15.3" fill="#fff"/>
<rect x="1429.8" y="870.7" width="41.3" height="15.3" fill="#fff"/>
<rect x="1470.6" y="870.7" width="148.3" height="15.3" fill="#fff"/>
<rect x="1144.6" y="885.5" width="27.1" height="15.3" fill="#fff"/>
<rect x="1171.2" y="885.5" width="27.7" height="15.3" fill="#fff"/>
<rect x="1361.7" y="885.5" width="257.2" height="15.3" fill="#fff"/>
<rect x="1618.4" y="686.2" width="40.9" height="7.1" fill="#fff"/>
<rect x="1876.6" y="686.2" width="136.6" height="7.1" fill="#fff"/>
<rect x="1868.4" y="692.8" width="224.3" height="15.3" fill="#fff"/>
<rect x="1849.4" y="707.6" width="243.3" height="15.3" fill="#fff"/>
<rect x="1849.4" y="722.4" width="243.3" height="15.3" fill="#fff"/>
<rect x="1917.4" y="737.3" width="175.3" height="15.3" fill="#fff"/>
<rect x="1903.8" y="752.1" width="54.9" height="15.3" fill="#fff"/>
<rect x="1958.2" y="752.1" width="134.5" height="15.3" fill="#fff"/>
<rect x="1912" y="766.9" width="33.2" height="15.3" fill="#fff"/>
<rect x="1944.6" y="766.9" width="49.5" height="15.3" fill="#fff"/>
<rect x="1993.6" y="766.9" width="99.1" height="15.3" fill="#fff"/>
<rect x="1694.2" y="781.7" width="169.3" height="15.3" fill="#fff"/>
<rect x="1952.8" y="781.7" width="41.3" height="15.3" fill="#fff"/>
<rect x="1993.6" y="781.7" width="99.1" height="15.3" fill="#fff"/>
<rect x="1618.4" y="796.5" width="272.3" height="15.3" fill="#fff"/>
<rect x="1969.1" y="796.5" width="57.7" height="15.3" fill="#fff"/>
<rect x="2026.3" y="796.5" width="66.4" height="15.3" fill="#fff"/>
<rect x="1618.4" y="811.4" width="49.1" height="15.3" fill="#fff"/>
<rect x="1958.2" y="811.4" width="82.2" height="15.3" fill="#fff"/>
<rect x="2039.9" y="811.4" width="52.8" height="15.3" fill="#fff"/>
<rect x="1748.6" y="826.2" width="93" height="15.3" fill="#fff"/>
<rect x="1841.2" y="826.2" width="76.7" height="15.3" fill="#fff"/>
<rect x="1917.4" y="826.2" width="54.9" height="15.3" fill="#fff"/>
<rect x="2042.6" y="826.2" width="50.1" height="15.3" fill="#fff"/>
<rect x="1618.4" y="841" width="54.5" height="15.3" fill="#fff"/>
<rect x="1672.4" y="841" width="76.7" height="15.3" fill="#fff"/>
<rect x="1748.6" y="841" width="169.3" height="15.3" fill="#fff"/>
<rect x="1917.4" y="841" width="27.7" height="15.3" fill="#fff"/>
<rect x="1980" y="841" width="112.7" height="15.3" fill="#fff"/>
<rect x="1618.4" y="855.8" width="136.2" height="15.3" fill="#fff"/>
<rect x="1754.1" y="855.8" width="123" height="15.3" fill="#fff"/>
<rect x="1876.6" y="855.8" width="54.9" height="15.3" fill="#fff"/>
<rect x="1931" y="855.8" width="27.7" height="15.3" fill="#fff"/>
<rect x="1618.4" y="870.7" width="136.2" height="15.3" fill="#fff"/>
<rect x="1754.1" y="870.7" width="123" height="15.3" fill="#fff"/>
<rect x="1876.6" y="870.7" width="54.9" height="15.3" fill="#fff"/>
<rect x="1966.4" y="870.7" width="60.4" height="15.3" fill="#fff"/>
<rect x="2026.3" y="870.7" width="66.4" height="15.3" fill="#fff"/>
<rect x="1618.4" y="885.5" width="299.5" height="15.3" fill="#fff"/>
<rect x="1966.4" y="885.5" width="33.2" height="15.3" fill="#fff"/>
<rect x="1999.1" y="885.5" width="93.6" height="15.3" fill="#fff"/>
<rect x="1144.6" y="900.3" width="32.6" height="15.3" fill="#fff"/>
<rect x="1348.1" y="900.3" width="30.4" height="15.3" fill="#fff"/>
<rect x="1378.1" y="900.3" width="106.7" height="15.3" fill="#fff"/>
<rect x="1538.7" y="900.3" width="80.2" height="15.3" fill="#fff"/>
<rect x="1179.4" y="915.1" width="46.8" height="15.3" fill="#fff"/>
<rect x="1225.7" y="915.1" width="71.3" height="15.3" fill="#fff"/>
<rect x="1443.4" y="915.1" width="175.5" height="15.3" fill="#fff"/>
<rect x="1171.2" y="929.9" width="27.7" height="15.3" fill="#fff"/>
<rect x="1198.4" y="929.9" width="76.7" height="15.3" fill="#fff"/>
<rect x="1274.6" y="929.9" width="33.2" height="15.3" fill="#fff"/>
<rect x="1378.1" y="929.9" width="38.6" height="15.3" fill="#fff"/>
<rect x="1416.2" y="929.9" width="16.8" height="15.3" fill="#fff"/>
<rect x="1432.5" y="929.9" width="38.6" height="15.3" fill="#fff"/>
<rect x="1470.6" y="929.9" width="54.9" height="15.3" fill="#fff"/>
<rect x="1525.1" y="929.9" width="93.8" height="15.3" fill="#fff"/>
<rect x="1171.2" y="944.8" width="68.5" height="15.3" fill="#fff"/>
<rect x="1239.3" y="944.8" width="27.7" height="15.3" fill="#fff"/>
<rect x="1350.9" y="944.8" width="27.7" height="15.3" fill="#fff"/>
<rect x="1378.1" y="944.8" width="38.6" height="15.3" fill="#fff"/>
<rect x="1416.2" y="944.8" width="54.9" height="15.3" fill="#fff"/>
<rect x="1470.6" y="944.8" width="148.3" height="15.3" fill="#fff"/>
<rect x="1171.2" y="959.6" width="54.9" height="15.3" fill="#fff"/>
<rect x="1334.5" y="959.6" width="44" height="15.3" fill="#fff"/>
<rect x="1378.1" y="959.6" width="52.2" height="15.3" fill="#fff"/>
<rect x="1429.8" y="959.6" width="150.2" height="15.3" fill="#fff"/>
<rect x="1579.5" y="959.6" width="39.4" height="15.3" fill="#fff"/>
<rect x="1291" y="974.4" width="27.7" height="15.3" fill="#fff"/>
<rect x="1318.2" y="974.4" width="60.4" height="15.3" fill="#fff"/>
<rect x="1378.1" y="974.4" width="52.2" height="15.3" fill="#fff"/>
<rect x="1429.8" y="974.4" width="103.9" height="15.3" fill="#fff"/>
<rect x="1533.2" y="974.4" width="27.7" height="15.3" fill="#fff"/>
<rect x="1560.4" y="974.4" width="19.6" height="15.3" fill="#fff"/>
<rect x="1579.5" y="974.4" width="39.4" height="15.3" fill="#fff"/>
<rect x="1285.5" y="989.2" width="33.2" height="15.3" fill="#fff"/>
<rect x="1318.2" y="989.2" width="60.4" height="15.3" fill="#fff"/>
<rect x="1378.1" y="989.2" width="52.2" height="15.3" fill="#fff"/>
<rect x="1429.8" y="989.2" width="189.1" height="15.3" fill="#fff"/>
<rect x="1160.3" y="1004" width="63.1" height="15.3" fill="#fff"/>
<rect x="1285.5" y="1004" width="33.2" height="15.3" fill="#fff"/>
<rect x="1318.2" y="1004" width="300.7" height="15.3" fill="#fff"/>
<rect x="1160.3" y="1018.9" width="38.6" height="15.3" fill="#fff"/>
<rect x="1285.5" y="1018.9" width="49.5" height="15.3" fill="#fff"/>
<rect x="1334.5" y="1018.9" width="284.4" height="15.3" fill="#fff"/>
<rect x="1280.1" y="1033.7" width="65.8" height="15.3" fill="#fff"/>
<rect x="1345.4" y="1033.7" width="152.9" height="15.3" fill="#fff"/>
<rect x="1497.8" y="1033.7" width="121.1" height="15.3" fill="#fff"/>
<rect x="1274.6" y="1048.5" width="87.6" height="15.3" fill="#fff"/>
<rect x="1361.7" y="1048.5" width="144.8" height="15.3" fill="#fff"/>
<rect x="1361.7" y="1063.3" width="82.2" height="15.3" fill="#fff"/>
<rect x="1443.4" y="1063.3" width="49.5" height="15.3" fill="#fff"/>
<rect x="1233.8" y="1078.2" width="128.4" height="15.3" fill="#fff"/>
<rect x="1361.7" y="1078.2" width="82.2" height="15.3" fill="#fff"/>
<rect x="1443.4" y="1078.2" width="54.9" height="15.3" fill="#fff"/>
<rect x="1212" y="1093" width="84.9" height="15.3" fill="#fff"/>
<rect x="1361.7" y="1093" width="90.3" height="15.3" fill="#fff"/>
<rect x="1618.4" y="900.3" width="177" height="15.3" fill="#fff"/>
<rect x="1794.9" y="900.3" width="82.2" height="15.3" fill="#fff"/>
<rect x="1931" y="900.3" width="41.3" height="15.3" fill="#fff"/>
<rect x="1971.8" y="900.3" width="120.9" height="15.3" fill="#fff"/>
<rect x="1707.8" y="915.1" width="169.3" height="15.3" fill="#fff"/>
<rect x="1876.6" y="915.1" width="177.4" height="15.3" fill="#fff"/>
<rect x="2053.5" y="915.1" width="39.2" height="15.3" fill="#fff"/>
<rect x="1637.1" y="929.9" width="68.5" height="15.3" fill="#fff"/>
<rect x="1705.1" y="929.9" width="90.3" height="15.3" fill="#fff"/>
<rect x="1794.9" y="929.9" width="150.2" height="15.3" fill="#fff"/>
<rect x="1944.6" y="929.9" width="109.4" height="15.3" fill="#fff"/>
<rect x="2053.5" y="929.9" width="39.2" height="15.3" fill="#fff"/>
<rect x="1618.4" y="944.8" width="109" height="15.3" fill="#fff"/>
<rect x="1726.9" y="944.8" width="204.6" height="15.3" fill="#fff"/>
<rect x="1931" y="944.8" width="161.7" height="15.3" fill="#fff"/>
<rect x="1618.4" y="959.6" width="81.8" height="15.3" fill="#fff"/>
<rect x="1699.7" y="959.6" width="65.8" height="15.3" fill="#fff"/>
<rect x="1765" y="959.6" width="112.1" height="15.3" fill="#fff"/>
<rect x="1876.6" y="959.6" width="68.5" height="15.3" fill="#fff"/>
<rect x="1944.6" y="959.6" width="148.1" height="15.3" fill="#fff"/>
<rect x="1618.4" y="974.4" width="40.9" height="15.3" fill="#fff"/>
<rect x="1658.8" y="974.4" width="218.2" height="15.3" fill="#fff"/>
<rect x="1876.6" y="974.4" width="54.9" height="15.3" fill="#fff"/>
<rect x="1931" y="974.4" width="161.7" height="15.3" fill="#fff"/>
<rect x="1618.4" y="989.2" width="163.4" height="15.3" fill="#fff"/>
<rect x="1781.3" y="989.2" width="98.5" height="15.3" fill="#fff"/>
<rect x="1879.3" y="989.2" width="213.4" height="15.3" fill="#fff"/>
<rect x="1618.4" y="1004" width="81.8" height="15.3" fill="#fff"/>
<rect x="1699.7" y="1004" width="163.8" height="15.3" fill="#fff"/>
<rect x="1618.4" y="1018.9" width="54.5" height="15.3" fill="#fff"/>
<rect x="1672.4" y="1018.9" width="27.7" height="15.3" fill="#fff"/>
<rect x="1618.4" y="1033.7" width="70.9" height="15.3" fill="#fff"/>
<rect x="1999.1" y="1033.7" width="93.6" height="15.3" fill="#fff"/>
<rect x="1917.4" y="1048.5" width="175.3" height="15.3" fill="#fff"/>
<rect x="1917.4" y="1063.3" width="175.3" height="15.3" fill="#fff"/>
<rect x="1917.4" y="1078.2" width="41.3" height="15.3" fill="#fff"/>
<rect x="1958.2" y="1078.2" width="134.5" height="15.3" fill="#fff"/>
<rect x="1890.2" y="1093" width="68.5" height="15.3" fill="#fff"/>
<rect x="1958.2" y="1093" width="134.5" height="15.3" fill="#fff"/>
<polygon points="1618.4,997.1 1871.1,997.1 1871.1,1044.6 1702.6,1044.6 1702.6,1107.8 1618.4,1107.8" fill="#fff"/>
<polygon points="1223.6,1047.2 1365.7,1047.2 1365.7,1107.8 1223.6,1107.8" fill="#fff"/>
<polygon points="1274.6,812.2 1416.2,812.2 1443.6,836.4 1388.9,847.5 1388.9,901.7 1247.3,901.7 1225.7,847.5 1258.3,836.4" fill="#000"/>
<polygon points="1144.6,686.2 1439.4,686.2 1439.4,752.1 1144.6,752.1" fill="#000"/>
<polygon points="1460.5,767.9 1944.8,767.9 1944.8,839 1460.5,839" fill="#000"/>
</mask>
<rect x="1144.6" y="686.2" width="947.6" height="421.6" fill="url(#dots)" mask="url(#mR1)"/>
<rect x="1144.6" y="1281.2" width="40.7" height="7.1" fill="#fff4ca"/>
<rect x="1184.8" y="1281.2" width="123" height="7.1" fill="#fde27a"/>
<rect x="1307.3" y="1281.2" width="76.7" height="7.1" fill="#fbae3a"/>
<rect x="1383.5" y="1281.2" width="128.4" height="7.1" fill="#fde27a"/>
<rect x="1511.4" y="1281.2" width="107.5" height="7.1" fill="#fbae3a"/>
<rect x="1187.5" y="1287.8" width="65.8" height="15.3" fill="#fff4ca"/>
<rect x="1252.9" y="1287.8" width="366" height="15.3" fill="#fde27a"/>
<rect x="1244.7" y="1302.6" width="52.2" height="15.3" fill="#fff4ca"/>
<rect x="1296.4" y="1302.6" width="188.3" height="15.3" fill="#fde27a"/>
<rect x="1484.2" y="1302.6" width="134.7" height="15.3" fill="#fff4ca"/>
<rect x="1144.6" y="1317.4" width="65.2" height="15.3" fill="#ead4fa"/>
<rect x="1280.1" y="1317.4" width="82.2" height="15.3" fill="#fde27a"/>
<rect x="1361.7" y="1317.4" width="95.8" height="15.3" fill="#fff4ca"/>
<rect x="1144.6" y="1332.3" width="65.2" height="15.3" fill="#dfb7fb"/>
<rect x="1429.8" y="1332.3" width="41.3" height="15.3" fill="#ead4fa"/>
<rect x="1470.6" y="1332.3" width="148.3" height="15.3" fill="#dfb7fb"/>
<rect x="1367.2" y="1347.1" width="49.5" height="15.3" fill="#ead4fa"/>
<rect x="1416.2" y="1347.1" width="68.5" height="15.3" fill="#dfb7fb"/>
<rect x="1484.2" y="1347.1" width="134.7" height="15.3" fill="#b24cf5"/>
<rect x="1318.2" y="1361.9" width="84.9" height="15.3" fill="#dfb7fb"/>
<rect x="1402.6" y="1361.9" width="216.3" height="15.3" fill="#b24cf5"/>
<rect x="1247.4" y="1376.7" width="33.2" height="15.3" fill="#ead4fa"/>
<rect x="1280.1" y="1376.7" width="163.8" height="15.3" fill="#dfb7fb"/>
<rect x="1443.4" y="1376.7" width="175.5" height="15.3" fill="#b24cf5"/>
<rect x="1247.4" y="1391.5" width="27.7" height="15.3" fill="#ead4fa"/>
<rect x="1274.6" y="1391.5" width="101.2" height="15.3" fill="#dfb7fb"/>
<rect x="1375.4" y="1391.5" width="123" height="15.3" fill="#ead4fa"/>
<rect x="1497.8" y="1391.5" width="121.1" height="15.3" fill="#b24cf5"/>
<rect x="1375.4" y="1406.4" width="109.4" height="15.3" fill="#ead4fa"/>
<rect x="1484.2" y="1406.4" width="68.5" height="15.3" fill="#dfb7fb"/>
<rect x="1552.3" y="1406.4" width="66.6" height="15.3" fill="#ead4fa"/>
<rect x="1144.6" y="1421.2" width="21.7" height="15.3" fill="#ead4fa"/>
<rect x="1280.1" y="1421.2" width="27.7" height="15.3" fill="#ead4fa"/>
<rect x="1470.6" y="1421.2" width="109.4" height="15.3" fill="#ead4fa"/>
<rect x="1144.6" y="1436" width="40.7" height="15.3" fill="#ead4fa"/>
<rect x="1285.5" y="1436" width="16.8" height="15.3" fill="#ead4fa"/>
<rect x="1465.2" y="1436" width="114.8" height="15.3" fill="#ead4fa"/>
<rect x="1579.5" y="1436" width="39.4" height="15.3" fill="#fff4ca"/>
<rect x="1225.7" y="1450.8" width="109.4" height="15.3" fill="#fff4ca"/>
<rect x="1484.2" y="1450.8" width="134.7" height="15.3" fill="#fde27a"/>
<rect x="1206.6" y="1465.7" width="155.6" height="15.3" fill="#fde27a"/>
<rect x="1361.7" y="1465.7" width="136.6" height="15.3" fill="#fff4ca"/>
<rect x="1497.8" y="1465.7" width="41.3" height="15.3" fill="#fde27a"/>
<rect x="1538.7" y="1465.7" width="80.2" height="15.3" fill="#fbae3a"/>
<rect x="1144.6" y="1480.5" width="54.3" height="15.3" fill="#fbae3a"/>
<rect x="1198.4" y="1480.5" width="286.3" height="15.3" fill="#fde27a"/>
<rect x="1484.2" y="1480.5" width="41.3" height="15.3" fill="#fbae3a"/>
<rect x="1525.1" y="1480.5" width="93.8" height="15.3" fill="#fa7008"/>
<rect x="1618.4" y="1281.2" width="394.8" height="7.1" fill="#fbae3a"/>
<rect x="2012.7" y="1281.2" width="80" height="7.1" fill="#fde27a"/>
<rect x="1618.4" y="1287.8" width="89.9" height="15.3" fill="#fde27a"/>
<rect x="1707.8" y="1287.8" width="319" height="15.3" fill="#fbae3a"/>
<rect x="2026.3" y="1287.8" width="66.4" height="15.3" fill="#fde27a"/>
<rect x="1618.4" y="1302.6" width="81.8" height="15.3" fill="#fde27a"/>
<rect x="1699.7" y="1302.6" width="54.9" height="15.3" fill="#fff4ca"/>
<rect x="1754.1" y="1302.6" width="82.2" height="15.3" fill="#fde27a"/>
<rect x="1835.7" y="1302.6" width="191" height="15.3" fill="#fbae3a"/>
<rect x="2026.3" y="1302.6" width="66.4" height="15.3" fill="#fde27a"/>
<rect x="1618.4" y="1317.4" width="32.8" height="15.3" fill="#fff4ca"/>
<rect x="1754.1" y="1317.4" width="65.8" height="15.3" fill="#fde27a"/>
<rect x="1819.4" y="1317.4" width="65.8" height="15.3" fill="#fbae3a"/>
<rect x="1884.7" y="1317.4" width="74" height="15.3" fill="#fa7008"/>
<rect x="1958.2" y="1317.4" width="68.5" height="15.3" fill="#fbae3a"/>
<rect x="2026.3" y="1317.4" width="66.4" height="15.3" fill="#fde27a"/>
<rect x="1618.4" y="1332.3" width="68.1" height="15.3" fill="#ead4fa"/>
<rect x="1767.7" y="1332.3" width="68.5" height="15.3" fill="#fde27a"/>
<rect x="1835.7" y="1332.3" width="54.9" height="15.3" fill="#fbae3a"/>
<rect x="1890.2" y="1332.3" width="68.5" height="15.3" fill="#fa7008"/>
<rect x="1958.2" y="1332.3" width="68.5" height="15.3" fill="#fbae3a"/>
<rect x="2026.3" y="1332.3" width="66.4" height="15.3" fill="#fde27a"/>
<rect x="1618.4" y="1347.1" width="81.8" height="15.3" fill="#ead4fa"/>
<rect x="1767.7" y="1347.1" width="82.2" height="15.3" fill="#fff4ca"/>
<rect x="1849.4" y="1347.1" width="136.6" height="15.3" fill="#fbae3a"/>
<rect x="1985.4" y="1347.1" width="107.3" height="15.3" fill="#fde27a"/>
<rect x="1618.4" y="1361.9" width="54.5" height="15.3" fill="#dfb7fb"/>
<rect x="1672.4" y="1361.9" width="54.9" height="15.3" fill="#ead4fa"/>
<rect x="1890.2" y="1361.9" width="123" height="15.3" fill="#fde27a"/>
<rect x="2012.7" y="1361.9" width="80" height="15.3" fill="#fff4ca"/>
<rect x="1618.4" y="1376.7" width="54.5" height="15.3" fill="#b24cf5"/>
<rect x="1672.4" y="1376.7" width="120.3" height="15.3" fill="#dfb7fb"/>
<rect x="1792.2" y="1376.7" width="125.7" height="15.3" fill="#ead4fa"/>
<rect x="1618.4" y="1391.5" width="40.9" height="15.3" fill="#b24cf5"/>
<rect x="1658.8" y="1391.5" width="125.7" height="15.3" fill="#dfb7fb"/>
<rect x="1784" y="1391.5" width="79.4" height="15.3" fill="#b24cf5"/>
<rect x="1863" y="1391.5" width="41.3" height="15.3" fill="#dfb7fb"/>
<rect x="1903.8" y="1391.5" width="41.3" height="15.3" fill="#ead4fa"/>
<rect x="1618.4" y="1406.4" width="54.5" height="15.3" fill="#ead4fa"/>
<rect x="1672.4" y="1406.4" width="109.4" height="15.3" fill="#dfb7fb"/>
<rect x="1781.3" y="1406.4" width="123" height="15.3" fill="#b24cf5"/>
<rect x="1903.8" y="1406.4" width="54.9" height="15.3" fill="#ead4fa"/>
<rect x="2026.3" y="1406.4" width="66.4" height="15.3" fill="#ead4fa"/>
<rect x="1705.1" y="1421.2" width="103.9" height="15.3" fill="#ead4fa"/>
<rect x="1808.5" y="1421.2" width="76.7" height="15.3" fill="#b24cf5"/>
<rect x="1884.7" y="1421.2" width="163.8" height="15.3" fill="#ead4fa"/>
<rect x="2048" y="1421.2" width="44.7" height="15.3" fill="#b24cf5"/>
<rect x="1618.4" y="1436" width="54.5" height="15.3" fill="#fff4ca"/>
<rect x="1740.5" y="1436" width="150.2" height="15.3" fill="#ead4fa"/>
<rect x="1890.2" y="1436" width="95.8" height="15.3" fill="#dfb7fb"/>
<rect x="1985.4" y="1436" width="63.1" height="15.3" fill="#ead4fa"/>
<rect x="2048" y="1436" width="44.7" height="15.3" fill="#b24cf5"/>
<rect x="1618.4" y="1450.8" width="68.1" height="15.3" fill="#fde27a"/>
<rect x="1754.1" y="1450.8" width="338.6" height="15.3" fill="#ead4fa"/>
<rect x="1618.4" y="1465.7" width="13.7" height="15.3" fill="#fa7008"/>
<rect x="1631.6" y="1465.7" width="54.9" height="15.3" fill="#fde27a"/>
<rect x="1767.7" y="1465.7" width="90.3" height="15.3" fill="#ead4fa"/>
<rect x="1971.8" y="1465.7" width="120.9" height="15.3" fill="#ead4fa"/>
<rect x="1618.4" y="1480.5" width="27.3" height="15.3" fill="#fa7008"/>
<rect x="1645.2" y="1480.5" width="68.5" height="15.3" fill="#fde27a"/>
<rect x="1759.5" y="1480.5" width="131.1" height="15.3" fill="#ead4fa"/>
<rect x="1971.8" y="1480.5" width="120.9" height="15.3" fill="#ead4fa"/>
<rect x="1144.6" y="1495.3" width="67.9" height="15.3" fill="#fbae3a"/>
<rect x="1212" y="1495.3" width="95.8" height="15.3" fill="#fde27a"/>
<rect x="1307.3" y="1495.3" width="123" height="15.3" fill="#fbae3a"/>
<rect x="1429.8" y="1495.3" width="68.5" height="15.3" fill="#fde27a"/>
<rect x="1497.8" y="1495.3" width="41.3" height="15.3" fill="#fa7008"/>
<rect x="1538.7" y="1495.3" width="80.2" height="15.3" fill="#fbae3a"/>
<rect x="1144.6" y="1510.1" width="54.3" height="15.3" fill="#fbae3a"/>
<rect x="1198.4" y="1510.1" width="103.9" height="15.3" fill="#fde27a"/>
<rect x="1301.9" y="1510.1" width="101.2" height="15.3" fill="#fbae3a"/>
<rect x="1402.6" y="1510.1" width="41.3" height="15.3" fill="#fde27a"/>
<rect x="1443.4" y="1510.1" width="54.9" height="15.3" fill="#fff4ca"/>
<rect x="1497.8" y="1510.1" width="121.1" height="15.3" fill="#fde27a"/>
<rect x="1198.4" y="1524.9" width="136.6" height="15.3" fill="#fff4ca"/>
<rect x="1497.8" y="1524.9" width="121.1" height="15.3" fill="#fff4ca"/>
<rect x="1184.8" y="1539.8" width="231.9" height="15.3" fill="#ead4fa"/>
<rect x="1565.9" y="1539.8" width="53" height="15.3" fill="#ead4fa"/>
<rect x="1144.6" y="1554.6" width="27.1" height="15.3" fill="#b24cf5"/>
<rect x="1171.2" y="1554.6" width="142" height="15.3" fill="#dfb7fb"/>
<rect x="1312.8" y="1554.6" width="76.7" height="15.3" fill="#b24cf5"/>
<rect x="1389" y="1554.6" width="54.9" height="15.3" fill="#dfb7fb"/>
<rect x="1443.4" y="1554.6" width="175.5" height="15.3" fill="#ead4fa"/>
<rect x="1144.6" y="1569.4" width="244.9" height="15.3" fill="#b24cf5"/>
<rect x="1389" y="1569.4" width="54.9" height="15.3" fill="#dfb7fb"/>
<rect x="1506" y="1569.4" width="112.9" height="15.3" fill="#ead4fa"/>
<rect x="1144.6" y="1584.2" width="21.7" height="15.3" fill="#ead4fa"/>
<rect x="1165.8" y="1584.2" width="95.8" height="15.3" fill="#b24cf5"/>
<rect x="1261" y="1584.2" width="87.6" height="15.3" fill="#8c12dc"/>
<rect x="1348.1" y="1584.2" width="41.3" height="15.3" fill="#b24cf5"/>
<rect x="1389" y="1584.2" width="54.9" height="15.3" fill="#ead4fa"/>
<rect x="1165.8" y="1599" width="54.9" height="15.3" fill="#dfb7fb"/>
<rect x="1220.2" y="1599" width="169.3" height="15.3" fill="#b24cf5"/>
<rect x="1389" y="1599" width="54.9" height="15.3" fill="#ead4fa"/>
<rect x="1579.5" y="1599" width="39.4" height="15.3" fill="#fff4ca"/>
<rect x="1193" y="1613.9" width="33.2" height="15.3" fill="#ead4fa"/>
<rect x="1225.7" y="1613.9" width="152.9" height="15.3" fill="#b24cf5"/>
<rect x="1378.1" y="1613.9" width="65.8" height="15.3" fill="#ead4fa"/>
<rect x="1565.9" y="1613.9" width="53" height="15.3" fill="#fde27a"/>
<rect x="1225.7" y="1628.7" width="191" height="15.3" fill="#ead4fa"/>
<rect x="1484.2" y="1628.7" width="54.9" height="15.3" fill="#fde27a"/>
<rect x="1538.7" y="1628.7" width="80.2" height="15.3" fill="#fbae3a"/>
<rect x="1144.6" y="1643.5" width="21.7" height="15.3" fill="#fde27a"/>
<rect x="1497.8" y="1643.5" width="41.3" height="15.3" fill="#fde27a"/>
<rect x="1538.7" y="1643.5" width="41.3" height="15.3" fill="#fbae3a"/>
<rect x="1579.5" y="1643.5" width="39.4" height="15.3" fill="#fa7008"/>
<rect x="1144.6" y="1658.3" width="54.3" height="15.3" fill="#fbae3a"/>
<rect x="1198.4" y="1658.3" width="109.4" height="15.3" fill="#fde27a"/>
<rect x="1307.3" y="1658.3" width="54.9" height="15.3" fill="#fff4ca"/>
<rect x="1361.7" y="1658.3" width="49.5" height="15.3" fill="#fde27a"/>
<rect x="1410.7" y="1658.3" width="82.2" height="15.3" fill="#fff4ca"/>
<rect x="1492.4" y="1658.3" width="87.6" height="15.3" fill="#fbae3a"/>
<rect x="1579.5" y="1658.3" width="39.4" height="15.3" fill="#fa7008"/>
<rect x="1144.6" y="1673.2" width="40.7" height="15.3" fill="#fa7008"/>
<rect x="1184.8" y="1673.2" width="123" height="15.3" fill="#fbae3a"/>
<rect x="1307.3" y="1673.2" width="44" height="15.3" fill="#fde27a"/>
<rect x="1350.9" y="1673.2" width="93" height="15.3" fill="#fff4ca"/>
<rect x="1443.4" y="1673.2" width="54.9" height="15.3" fill="#fde27a"/>
<rect x="1497.8" y="1673.2" width="82.2" height="15.3" fill="#fbae3a"/>
<rect x="1579.5" y="1673.2" width="39.4" height="15.3" fill="#fa7008"/>
<rect x="1144.6" y="1688" width="27.1" height="15.3" fill="#fa7008"/>
<rect x="1171.2" y="1688" width="123" height="15.3" fill="#fbae3a"/>
<rect x="1293.7" y="1688" width="57.7" height="15.3" fill="#fde27a"/>
<rect x="1443.4" y="1688" width="54.9" height="15.3" fill="#fde27a"/>
<rect x="1497.8" y="1688" width="82.2" height="15.3" fill="#fbae3a"/>
<rect x="1579.5" y="1688" width="39.4" height="15.3" fill="#fa7008"/>
<rect x="1618.4" y="1495.3" width="16.4" height="15.3" fill="#fbae3a"/>
<rect x="1634.3" y="1495.3" width="98.5" height="15.3" fill="#fff4ca"/>
<rect x="1732.3" y="1495.3" width="54.9" height="15.3" fill="#ead4fa"/>
<rect x="1786.8" y="1495.3" width="76.7" height="15.3" fill="#dfb7fb"/>
<rect x="1863" y="1495.3" width="136.6" height="15.3" fill="#ead4fa"/>
<rect x="2053.5" y="1495.3" width="39.2" height="15.3" fill="#fde27a"/>
<rect x="1677.9" y="1510.1" width="71.3" height="15.3" fill="#ead4fa"/>
<rect x="1748.6" y="1510.1" width="22.3" height="15.3" fill="#dfb7fb"/>
<rect x="1770.4" y="1510.1" width="98.5" height="15.3" fill="#ead4fa"/>
<rect x="1868.4" y="1510.1" width="44" height="15.3" fill="#b24cf5"/>
<rect x="1912" y="1510.1" width="101.2" height="15.3" fill="#ead4fa"/>
<rect x="2067.1" y="1510.1" width="25.6" height="15.3" fill="#fff4ca"/>
<rect x="1645.2" y="1524.9" width="163.8" height="15.3" fill="#ead4fa"/>
<rect x="1808.5" y="1524.9" width="82.2" height="15.3" fill="#dfb7fb"/>
<rect x="1890.2" y="1524.9" width="123" height="15.3" fill="#ead4fa"/>
<rect x="1618.4" y="1539.8" width="40.9" height="15.3" fill="#dfb7fb"/>
<rect x="1658.8" y="1539.8" width="123" height="15.3" fill="#ead4fa"/>
<rect x="1781.3" y="1539.8" width="82.2" height="15.3" fill="#dfb7fb"/>
<rect x="1863" y="1539.8" width="109.4" height="15.3" fill="#ead4fa"/>
<rect x="1971.8" y="1539.8" width="27.7" height="15.3" fill="#dfb7fb"/>
<rect x="1999.1" y="1539.8" width="93.6" height="15.3" fill="#ead4fa"/>
<rect x="1618.4" y="1554.6" width="32.8" height="15.3" fill="#ead4fa"/>
<rect x="1794.9" y="1554.6" width="63.1" height="15.3" fill="#dfb7fb"/>
<rect x="1857.5" y="1554.6" width="114.8" height="15.3" fill="#ead4fa"/>
<rect x="1971.8" y="1554.6" width="41.3" height="15.3" fill="#b24cf5"/>
<rect x="2012.7" y="1554.6" width="80" height="15.3" fill="#dfb7fb"/>
<rect x="1808.5" y="1569.4" width="82.2" height="15.3" fill="#ead4fa"/>
<rect x="1890.2" y="1569.4" width="82.2" height="15.3" fill="#dfb7fb"/>
<rect x="1971.8" y="1569.4" width="35.9" height="15.3" fill="#b24cf5"/>
<rect x="2007.2" y="1569.4" width="85.5" height="15.3" fill="#8c12dc"/>
<rect x="1732.3" y="1584.2" width="76.7" height="15.3" fill="#fff4ca"/>
<rect x="1843.9" y="1584.2" width="41.3" height="15.3" fill="#ead4fa"/>
<rect x="1884.7" y="1584.2" width="101.2" height="15.3" fill="#b24cf5"/>
<rect x="1985.4" y="1584.2" width="107.3" height="15.3" fill="#8c12dc"/>
<rect x="1618.4" y="1599" width="81.8" height="15.3" fill="#fde27a"/>
<rect x="1699.7" y="1599" width="109.4" height="15.3" fill="#fff4ca"/>
<rect x="1849.4" y="1599" width="30.4" height="15.3" fill="#ead4fa"/>
<rect x="1879.3" y="1599" width="114.8" height="15.3" fill="#b24cf5"/>
<rect x="1993.6" y="1599" width="99.1" height="15.3" fill="#8c12dc"/>
<rect x="1618.4" y="1613.9" width="109" height="15.3" fill="#fbae3a"/>
<rect x="1726.9" y="1613.9" width="82.2" height="15.3" fill="#fde27a"/>
<rect x="1849.4" y="1613.9" width="41.3" height="15.3" fill="#ead4fa"/>
<rect x="1890.2" y="1613.9" width="202.5" height="15.3" fill="#b24cf5"/>
<rect x="1618.4" y="1628.7" width="109" height="15.3" fill="#fbae3a"/>
<rect x="1726.9" y="1628.7" width="68.5" height="15.3" fill="#fde27a"/>
<rect x="1854.8" y="1628.7" width="49.5" height="15.3" fill="#ead4fa"/>
<rect x="1903.8" y="1628.7" width="68.5" height="15.3" fill="#dfb7fb"/>
<rect x="1971.8" y="1628.7" width="120.9" height="15.3" fill="#ead4fa"/>
<rect x="1618.4" y="1643.5" width="109" height="15.3" fill="#fbae3a"/>
<rect x="1726.9" y="1643.5" width="68.5" height="15.3" fill="#fde27a"/>
<rect x="1857.5" y="1643.5" width="33.2" height="15.3" fill="#ead4fa"/>
<rect x="1944.6" y="1643.5" width="148.1" height="15.3" fill="#fde27a"/>
<rect x="1618.4" y="1658.3" width="49.1" height="15.3" fill="#fa7008"/>
<rect x="1667" y="1658.3" width="74" height="15.3" fill="#fbae3a"/>
<rect x="1740.5" y="1658.3" width="54.9" height="15.3" fill="#fde27a"/>
<rect x="1931" y="1658.3" width="161.7" height="15.3" fill="#fde27a"/>
<rect x="1618.4" y="1673.2" width="49.1" height="15.3" fill="#fa7008"/>
<rect x="1667" y="1673.2" width="60.4" height="15.3" fill="#fbae3a"/>
<rect x="1726.9" y="1673.2" width="68.5" height="15.3" fill="#fde27a"/>
<rect x="1931" y="1673.2" width="68.5" height="15.3" fill="#fde27a"/>
<rect x="1999.1" y="1673.2" width="93.6" height="15.3" fill="#fbae3a"/>
<rect x="1618.4" y="1688" width="40.9" height="15.3" fill="#fa7008"/>
<rect x="1658.8" y="1688" width="82.2" height="15.3" fill="#fbae3a"/>
<rect x="1740.5" y="1688" width="54.9" height="15.3" fill="#fff4ca"/>
<rect x="1931" y="1688" width="68.5" height="15.3" fill="#fde27a"/>
<rect x="1999.1" y="1688" width="93.6" height="15.3" fill="#fbae3a"/>
<mask id="mR2" maskUnits="userSpaceOnUse" x="0" y="0" width="2100" height="2521">
<rect x="1184.8" y="1281.2" width="123" height="7.1" fill="#fff"/>
<rect x="1307.3" y="1281.2" width="76.7" height="7.1" fill="#fff"/>
<rect x="1383.5" y="1281.2" width="128.4" height="7.1" fill="#fff"/>
<rect x="1511.4" y="1281.2" width="107.5" height="7.1" fill="#fff"/>
<rect x="1252.9" y="1287.8" width="366" height="15.3" fill="#fff"/>
<rect x="1296.4" y="1302.6" width="188.3" height="15.3" fill="#fff"/>
<rect x="1280.1" y="1317.4" width="82.2" height="15.3" fill="#fff"/>
<rect x="1144.6" y="1332.3" width="65.2" height="15.3" fill="#fff"/>
<rect x="1470.6" y="1332.3" width="148.3" height="15.3" fill="#fff"/>
<rect x="1416.2" y="1347.1" width="68.5" height="15.3" fill="#fff"/>
<rect x="1484.2" y="1347.1" width="134.7" height="15.3" fill="#fff"/>
<rect x="1318.2" y="1361.9" width="84.9" height="15.3" fill="#fff"/>
<rect x="1402.6" y="1361.9" width="216.3" height="15.3" fill="#fff"/>
<rect x="1280.1" y="1376.7" width="163.8" height="15.3" fill="#fff"/>
<rect x="1443.4" y="1376.7" width="175.5" height="15.3" fill="#fff"/>
<rect x="1274.6" y="1391.5" width="101.2" height="15.3" fill="#fff"/>
<rect x="1497.8" y="1391.5" width="121.1" height="15.3" fill="#fff"/>
<rect x="1484.2" y="1406.4" width="68.5" height="15.3" fill="#fff"/>
<rect x="1484.2" y="1450.8" width="134.7" height="15.3" fill="#fff"/>
<rect x="1206.6" y="1465.7" width="155.6" height="15.3" fill="#fff"/>
<rect x="1497.8" y="1465.7" width="41.3" height="15.3" fill="#fff"/>
<rect x="1538.7" y="1465.7" width="80.2" height="15.3" fill="#fff"/>
<rect x="1144.6" y="1480.5" width="54.3" height="15.3" fill="#fff"/>
<rect x="1198.4" y="1480.5" width="286.3" height="15.3" fill="#fff"/>
<rect x="1484.2" y="1480.5" width="41.3" height="15.3" fill="#fff"/>
<rect x="1525.1" y="1480.5" width="93.8" height="15.3" fill="#fff"/>
<rect x="1618.4" y="1281.2" width="394.8" height="7.1" fill="#fff"/>
<rect x="2012.7" y="1281.2" width="80" height="7.1" fill="#fff"/>
<rect x="1618.4" y="1287.8" width="89.9" height="15.3" fill="#fff"/>
<rect x="1707.8" y="1287.8" width="319" height="15.3" fill="#fff"/>
<rect x="2026.3" y="1287.8" width="66.4" height="15.3" fill="#fff"/>
<rect x="1618.4" y="1302.6" width="81.8" height="15.3" fill="#fff"/>
<rect x="1754.1" y="1302.6" width="82.2" height="15.3" fill="#fff"/>
<rect x="1835.7" y="1302.6" width="191" height="15.3" fill="#fff"/>
<rect x="2026.3" y="1302.6" width="66.4" height="15.3" fill="#fff"/>
<rect x="1754.1" y="1317.4" width="65.8" height="15.3" fill="#fff"/>
<rect x="1819.4" y="1317.4" width="65.8" height="15.3" fill="#fff"/>
<rect x="1884.7" y="1317.4" width="74" height="15.3" fill="#fff"/>
<rect x="1958.2" y="1317.4" width="68.5" height="15.3" fill="#fff"/>
<rect x="2026.3" y="1317.4" width="66.4" height="15.3" fill="#fff"/>
<rect x="1767.7" y="1332.3" width="68.5" height="15.3" fill="#fff"/>
<rect x="1835.7" y="1332.3" width="54.9" height="15.3" fill="#fff"/>
<rect x="1890.2" y="1332.3" width="68.5" height="15.3" fill="#fff"/>
<rect x="1958.2" y="1332.3" width="68.5" height="15.3" fill="#fff"/>
<rect x="2026.3" y="1332.3" width="66.4" height="15.3" fill="#fff"/>
<rect x="1849.4" y="1347.1" width="136.6" height="15.3" fill="#fff"/>
<rect x="1985.4" y="1347.1" width="107.3" height="15.3" fill="#fff"/>
<rect x="1618.4" y="1361.9" width="54.5" height="15.3" fill="#fff"/>
<rect x="1890.2" y="1361.9" width="123" height="15.3" fill="#fff"/>
<rect x="1618.4" y="1376.7" width="54.5" height="15.3" fill="#fff"/>
<rect x="1672.4" y="1376.7" width="120.3" height="15.3" fill="#fff"/>
<rect x="1618.4" y="1391.5" width="40.9" height="15.3" fill="#fff"/>
<rect x="1658.8" y="1391.5" width="125.7" height="15.3" fill="#fff"/>
<rect x="1784" y="1391.5" width="79.4" height="15.3" fill="#fff"/>
<rect x="1863" y="1391.5" width="41.3" height="15.3" fill="#fff"/>
<rect x="1672.4" y="1406.4" width="109.4" height="15.3" fill="#fff"/>
<rect x="1781.3" y="1406.4" width="123" height="15.3" fill="#fff"/>
<rect x="1808.5" y="1421.2" width="76.7" height="15.3" fill="#fff"/>
<rect x="2048" y="1421.2" width="44.7" height="15.3" fill="#fff"/>
<rect x="1890.2" y="1436" width="95.8" height="15.3" fill="#fff"/>
<rect x="2048" y="1436" width="44.7" height="15.3" fill="#fff"/>
<rect x="1618.4" y="1450.8" width="68.1" height="15.3" fill="#fff"/>
<rect x="1618.4" y="1465.7" width="13.7" height="15.3" fill="#fff"/>
<rect x="1631.6" y="1465.7" width="54.9" height="15.3" fill="#fff"/>
<rect x="1618.4" y="1480.5" width="27.3" height="15.3" fill="#fff"/>
<rect x="1645.2" y="1480.5" width="68.5" height="15.3" fill="#fff"/>
<rect x="1144.6" y="1495.3" width="67.9" height="15.3" fill="#fff"/>
<rect x="1212" y="1495.3" width="95.8" height="15.3" fill="#fff"/>
<rect x="1307.3" y="1495.3" width="123" height="15.3" fill="#fff"/>
<rect x="1429.8" y="1495.3" width="68.5" height="15.3" fill="#fff"/>
<rect x="1497.8" y="1495.3" width="41.3" height="15.3" fill="#fff"/>
<rect x="1538.7" y="1495.3" width="80.2" height="15.3" fill="#fff"/>
<rect x="1144.6" y="1510.1" width="54.3" height="15.3" fill="#fff"/>
<rect x="1198.4" y="1510.1" width="103.9" height="15.3" fill="#fff"/>
<rect x="1301.9" y="1510.1" width="101.2" height="15.3" fill="#fff"/>
<rect x="1402.6" y="1510.1" width="41.3" height="15.3" fill="#fff"/>
<rect x="1497.8" y="1510.1" width="121.1" height="15.3" fill="#fff"/>
<rect x="1144.6" y="1554.6" width="27.1" height="15.3" fill="#fff"/>
<rect x="1171.2" y="1554.6" width="142" height="15.3" fill="#fff"/>
<rect x="1312.8" y="1554.6" width="76.7" height="15.3" fill="#fff"/>
<rect x="1389" y="1554.6" width="54.9" height="15.3" fill="#fff"/>
<rect x="1144.6" y="1569.4" width="244.9" height="15.3" fill="#fff"/>
<rect x="1389" y="1569.4" width="54.9" height="15.3" fill="#fff"/>
<rect x="1165.8" y="1584.2" width="95.8" height="15.3" fill="#fff"/>
<rect x="1261" y="1584.2" width="87.6" height="15.3" fill="#fff"/>
<rect x="1348.1" y="1584.2" width="41.3" height="15.3" fill="#fff"/>
<rect x="1165.8" y="1599" width="54.9" height="15.3" fill="#fff"/>
<rect x="1220.2" y="1599" width="169.3" height="15.3" fill="#fff"/>
<rect x="1225.7" y="1613.9" width="152.9" height="15.3" fill="#fff"/>
<rect x="1565.9" y="1613.9" width="53" height="15.3" fill="#fff"/>
<rect x="1484.2" y="1628.7" width="54.9" height="15.3" fill="#fff"/>
<rect x="1538.7" y="1628.7" width="80.2" height="15.3" fill="#fff"/>
<rect x="1144.6" y="1643.5" width="21.7" height="15.3" fill="#fff"/>
<rect x="1497.8" y="1643.5" width="41.3" height="15.3" fill="#fff"/>
<rect x="1538.7" y="1643.5" width="41.3" height="15.3" fill="#fff"/>
<rect x="1579.5" y="1643.5" width="39.4" height="15.3" fill="#fff"/>
<rect x="1144.6" y="1658.3" width="54.3" height="15.3" fill="#fff"/>
<rect x="1198.4" y="1658.3" width="109.4" height="15.3" fill="#fff"/>
<rect x="1361.7" y="1658.3" width="49.5" height="15.3" fill="#fff"/>
<rect x="1492.4" y="1658.3" width="87.6" height="15.3" fill="#fff"/>
<rect x="1579.5" y="1658.3" width="39.4" height="15.3" fill="#fff"/>
<rect x="1144.6" y="1673.2" width="40.7" height="15.3" fill="#fff"/>
<rect x="1184.8" y="1673.2" width="123" height="15.3" fill="#fff"/>
<rect x="1307.3" y="1673.2" width="44" height="15.3" fill="#fff"/>
<rect x="1443.4" y="1673.2" width="54.9" height="15.3" fill="#fff"/>
<rect x="1497.8" y="1673.2" width="82.2" height="15.3" fill="#fff"/>
<rect x="1579.5" y="1673.2" width="39.4" height="15.3" fill="#fff"/>
<rect x="1144.6" y="1688" width="27.1" height="15.3" fill="#fff"/>
<rect x="1171.2" y="1688" width="123" height="15.3" fill="#fff"/>
<rect x="1293.7" y="1688" width="57.7" height="15.3" fill="#fff"/>
<rect x="1443.4" y="1688" width="54.9" height="15.3" fill="#fff"/>
<rect x="1497.8" y="1688" width="82.2" height="15.3" fill="#fff"/>
<rect x="1579.5" y="1688" width="39.4" height="15.3" fill="#fff"/>
<rect x="1618.4" y="1495.3" width="16.4" height="15.3" fill="#fff"/>
<rect x="1786.8" y="1495.3" width="76.7" height="15.3" fill="#fff"/>
<rect x="2053.5" y="1495.3" width="39.2" height="15.3" fill="#fff"/>
<rect x="1748.6" y="1510.1" width="22.3" height="15.3" fill="#fff"/>
<rect x="1868.4" y="1510.1" width="44" height="15.3" fill="#fff"/>
<rect x="1808.5" y="1524.9" width="82.2" height="15.3" fill="#fff"/>
<rect x="1618.4" y="1539.8" width="40.9" height="15.3" fill="#fff"/>
<rect x="1781.3" y="1539.8" width="82.2" height="15.3" fill="#fff"/>
<rect x="1971.8" y="1539.8" width="27.7" height="15.3" fill="#fff"/>
<rect x="1794.9" y="1554.6" width="63.1" height="15.3" fill="#fff"/>
<rect x="1971.8" y="1554.6" width="41.3" height="15.3" fill="#fff"/>
<rect x="2012.7" y="1554.6" width="80" height="15.3" fill="#fff"/>
<rect x="1890.2" y="1569.4" width="82.2" height="15.3" fill="#fff"/>
<rect x="1971.8" y="1569.4" width="35.9" height="15.3" fill="#fff"/>
<rect x="2007.2" y="1569.4" width="85.5" height="15.3" fill="#fff"/>
<rect x="1884.7" y="1584.2" width="101.2" height="15.3" fill="#fff"/>
<rect x="1985.4" y="1584.2" width="107.3" height="15.3" fill="#fff"/>
<rect x="1618.4" y="1599" width="81.8" height="15.3" fill="#fff"/>
<rect x="1879.3" y="1599" width="114.8" height="15.3" fill="#fff"/>
<rect x="1993.6" y="1599" width="99.1" height="15.3" fill="#fff"/>
<rect x="1618.4" y="1613.9" width="109" height="15.3" fill="#fff"/>
<rect x="1726.9" y="1613.9" width="82.2" height="15.3" fill="#fff"/>
<rect x="1890.2" y="1613.9" width="202.5" height="15.3" fill="#fff"/>
<rect x="1618.4" y="1628.7" width="109" height="15.3" fill="#fff"/>
<rect x="1726.9" y="1628.7" width="68.5" height="15.3" fill="#fff"/>
<rect x="1903.8" y="1628.7" width="68.5" height="15.3" fill="#fff"/>
<rect x="1618.4" y="1643.5" width="109" height="15.3" fill="#fff"/>
<rect x="1726.9" y="1643.5" width="68.5" height="15.3" fill="#fff"/>
<rect x="1944.6" y="1643.5" width="148.1" height="15.3" fill="#fff"/>
<rect x="1618.4" y="1658.3" width="49.1" height="15.3" fill="#fff"/>
<rect x="1667" y="1658.3" width="74" height="15.3" fill="#fff"/>
<rect x="1740.5" y="1658.3" width="54.9" height="15.3" fill="#fff"/>
<rect x="1931" y="1658.3" width="161.7" height="15.3" fill="#fff"/>
<rect x="1618.4" y="1673.2" width="49.1" height="15.3" fill="#fff"/>
<rect x="1667" y="1673.2" width="60.4" height="15.3" fill="#fff"/>
<rect x="1726.9" y="1673.2" width="68.5" height="15.3" fill="#fff"/>
<rect x="1931" y="1673.2" width="68.5" height="15.3" fill="#fff"/>
<rect x="1999.1" y="1673.2" width="93.6" height="15.3" fill="#fff"/>
<rect x="1618.4" y="1688" width="40.9" height="15.3" fill="#fff"/>
<rect x="1658.8" y="1688" width="82.2" height="15.3" fill="#fff"/>
<rect x="1931" y="1688" width="68.5" height="15.3" fill="#fff"/>
<rect x="1999.1" y="1688" width="93.6" height="15.3" fill="#fff"/>
<polygon points="1270.9,1360.3 1376.2,1360.3 1376.2,1407.7 1270.9,1407.7" fill="#000"/>
<polygon points="1144.6,1328.6 1213,1328.6 1213,1349.7 1144.6,1349.7" fill="#000"/>
<polygon points="1886.9,1427.2 2092.2,1427.2 2092.2,1455.1 1886.9,1455.1" fill="#000"/>
<polygon points="1618.4,1447.2 1713.2,1447.2 1713.2,1486.7 1618.4,1486.7" fill="#000"/>
<polygon points="1913.2,1642.2 2092.2,1642.2 2092.2,1702.8 1913.2,1702.8" fill="#000"/>
<polygon points="1618.4,1492 2018.5,1492 2018.5,1552.6 1907.9,1552.6 1907.9,1571.1 1618.4,1571.1" fill="#000"/>
</mask>
<rect x="1144.6" y="1281.2" width="947.6" height="421.6" fill="url(#dots)" mask="url(#mR2)"/>
<rect x="1144.6" y="1876.2" width="239.4" height="7.1" fill="#ead4fa"/>
<rect x="1383.5" y="1876.2" width="235.4" height="7.1" fill="#dfb7fb"/>
<rect x="1154.9" y="1882.8" width="261.8" height="15.3" fill="#ead4fa"/>
<rect x="1416.2" y="1882.8" width="202.7" height="15.3" fill="#dfb7fb"/>
<rect x="1252.9" y="1897.6" width="201.9" height="15.3" fill="#ead4fa"/>
<rect x="1565.9" y="1897.6" width="53" height="15.3" fill="#ead4fa"/>
<rect x="1593.1" y="1912.4" width="25.8" height="15.3" fill="#ead4fa"/>
<rect x="1217.5" y="1942.1" width="22.3" height="15.3" fill="#ead4fa"/>
<rect x="1296.4" y="1942.1" width="76.7" height="15.3" fill="#ead4fa"/>
<rect x="1416.2" y="1942.1" width="202.7" height="15.3" fill="#fff4ca"/>
<rect x="1296.4" y="1956.9" width="44" height="15.3" fill="#ead4fa"/>
<rect x="1408" y="1956.9" width="35.9" height="15.3" fill="#fff4ca"/>
<rect x="1443.4" y="1956.9" width="103.9" height="15.3" fill="#fde27a"/>
<rect x="1546.8" y="1956.9" width="60.4" height="15.3" fill="#fff4ca"/>
<rect x="1606.7" y="1956.9" width="12.2" height="15.3" fill="#fde27a"/>
<rect x="1220.2" y="1971.7" width="33.2" height="15.3" fill="#fff4ca"/>
<rect x="1443.4" y="1971.7" width="41.3" height="15.3" fill="#fde27a"/>
<rect x="1193" y="1986.5" width="60.4" height="15.3" fill="#fff4ca"/>
<rect x="1252.9" y="1986.5" width="163.8" height="15.3" fill="#fde27a"/>
<rect x="1416.2" y="1986.5" width="54.9" height="15.3" fill="#fff4ca"/>
<rect x="1144.6" y="2001.4" width="13.5" height="15.3" fill="#ead4fa"/>
<rect x="1193" y="2001.4" width="63.1" height="15.3" fill="#fff4ca"/>
<rect x="1255.6" y="2001.4" width="144.8" height="15.3" fill="#fde27a"/>
<rect x="1497.8" y="2001.4" width="76.7" height="15.3" fill="#ead4fa"/>
<rect x="1187.5" y="2016.2" width="125.7" height="15.3" fill="#fff4ca"/>
<rect x="1312.8" y="2016.2" width="82.2" height="15.3" fill="#fde27a"/>
<rect x="1438" y="2016.2" width="46.8" height="15.3" fill="#ead4fa"/>
<rect x="1606.7" y="2016.2" width="12.2" height="15.3" fill="#ead4fa"/>
<rect x="1165.8" y="2031" width="60.4" height="15.3" fill="#fff4ca"/>
<rect x="1312.8" y="2031" width="90.3" height="15.3" fill="#fff4ca"/>
<rect x="1402.6" y="2031" width="82.2" height="15.3" fill="#ead4fa"/>
<rect x="1519.6" y="2031" width="60.4" height="15.3" fill="#fff4ca"/>
<rect x="1296.4" y="2045.8" width="65.8" height="15.3" fill="#fff4ca"/>
<rect x="1416.2" y="2045.8" width="27.7" height="15.3" fill="#ead4fa"/>
<rect x="1307.3" y="2060.7" width="54.9" height="15.3" fill="#fde27a"/>
<rect x="1497.8" y="2060.7" width="41.3" height="15.3" fill="#fff4ca"/>
<rect x="1538.7" y="2060.7" width="80.2" height="15.3" fill="#fde27a"/>
<rect x="1144.6" y="2075.5" width="54.3" height="15.3" fill="#fff4ca"/>
<rect x="1301.9" y="2075.5" width="54.9" height="15.3" fill="#fde27a"/>
<rect x="1497.8" y="2075.5" width="33.2" height="15.3" fill="#fff4ca"/>
<rect x="1530.5" y="2075.5" width="88.4" height="15.3" fill="#fde27a"/>
<rect x="1618.4" y="1876.2" width="190.6" height="7.1" fill="#dfb7fb"/>
<rect x="1808.5" y="1876.2" width="136.6" height="7.1" fill="#ead4fa"/>
<rect x="1618.4" y="1882.8" width="163.4" height="15.3" fill="#dfb7fb"/>
<rect x="1781.3" y="1882.8" width="123" height="15.3" fill="#ead4fa"/>
<rect x="1618.4" y="1897.6" width="49.1" height="15.3" fill="#dfb7fb"/>
<rect x="1667" y="1897.6" width="163.8" height="15.3" fill="#ead4fa"/>
<rect x="1618.4" y="1912.4" width="27.3" height="15.3" fill="#ead4fa"/>
<rect x="1931" y="1912.4" width="161.7" height="15.3" fill="#ead4fa"/>
<rect x="1713.3" y="1927.3" width="144.8" height="15.3" fill="#fff4ca"/>
<rect x="1917.4" y="1927.3" width="41.3" height="15.3" fill="#ead4fa"/>
<rect x="1958.2" y="1927.3" width="134.5" height="15.3" fill="#dfb7fb"/>
<rect x="1653.4" y="1942.1" width="60.4" height="15.3" fill="#fff4ca"/>
<rect x="1713.3" y="1942.1" width="95.8" height="15.3" fill="#fde27a"/>
<rect x="1808.5" y="1942.1" width="54.9" height="15.3" fill="#fff4ca"/>
<rect x="1863" y="1942.1" width="27.7" height="15.3" fill="#ead4fa"/>
<rect x="1890.2" y="1942.1" width="202.5" height="15.3" fill="#dfb7fb"/>
<rect x="1618.4" y="1956.9" width="16.4" height="15.3" fill="#fff4ca"/>
<rect x="1634.3" y="1956.9" width="174.7" height="15.3" fill="#fde27a"/>
<rect x="1863" y="1956.9" width="229.7" height="15.3" fill="#dfb7fb"/>
<rect x="1618.4" y="1971.7" width="16.4" height="15.3" fill="#fff4ca"/>
<rect x="1634.3" y="1971.7" width="136.6" height="15.3" fill="#fde27a"/>
<rect x="1770.4" y="1971.7" width="38.6" height="15.3" fill="#fff4ca"/>
<rect x="1873.9" y="1971.7" width="218.8" height="15.3" fill="#dfb7fb"/>
<rect x="1618.4" y="1986.5" width="89.9" height="15.3" fill="#fff4ca"/>
<rect x="1707.8" y="1986.5" width="63.1" height="15.3" fill="#fde27a"/>
<rect x="1876.6" y="1986.5" width="54.9" height="15.3" fill="#ead4fa"/>
<rect x="1931" y="1986.5" width="41.3" height="15.3" fill="#dfb7fb"/>
<rect x="1971.8" y="1986.5" width="120.9" height="15.3" fill="#ead4fa"/>
<rect x="1639.8" y="2001.4" width="142" height="15.3" fill="#ead4fa"/>
<rect x="1618.4" y="2016.2" width="21.9" height="15.3" fill="#ead4fa"/>
<rect x="1639.8" y="2016.2" width="142" height="15.3" fill="#dfb7fb"/>
<rect x="2067.1" y="2016.2" width="25.6" height="15.3" fill="#ead4fa"/>
<rect x="1618.4" y="2031" width="16.4" height="15.3" fill="#ead4fa"/>
<rect x="1634.3" y="2031" width="133.9" height="15.3" fill="#dfb7fb"/>
<rect x="1767.7" y="2031" width="19.6" height="15.3" fill="#ead4fa"/>
<rect x="1618.4" y="2045.8" width="27.3" height="15.3" fill="#ead4fa"/>
<rect x="1645.2" y="2045.8" width="150.2" height="15.3" fill="#dfb7fb"/>
<rect x="1822.1" y="2045.8" width="95.8" height="15.3" fill="#fff4ca"/>
<rect x="1993.6" y="2045.8" width="99.1" height="15.3" fill="#fbae3a"/>
<rect x="1618.4" y="2060.7" width="163.4" height="15.3" fill="#dfb7fb"/>
<rect x="1824.9" y="2060.7" width="120.3" height="15.3" fill="#fde27a"/>
<rect x="1944.6" y="2060.7" width="41.3" height="15.3" fill="#fff4ca"/>
<rect x="1985.4" y="2060.7" width="74" height="15.3" fill="#fbae3a"/>
<rect x="2058.9" y="2060.7" width="33.8" height="15.3" fill="#fa7008"/>
<rect x="1618.4" y="2075.5" width="149.8" height="15.3" fill="#dfb7fb"/>
<rect x="1835.7" y="2075.5" width="136.6" height="15.3" fill="#fde27a"/>
<rect x="1971.8" y="2075.5" width="82.2" height="15.3" fill="#fbae3a"/>
<rect x="2053.5" y="2075.5" width="39.2" height="15.3" fill="#fa7008"/>
<rect x="1144.6" y="2090.3" width="76.1" height="15.3" fill="#fff4ca"/>
<rect x="1497.8" y="2090.3" width="27.7" height="15.3" fill="#fff4ca"/>
<rect x="1525.1" y="2090.3" width="68.5" height="15.3" fill="#fde27a"/>
<rect x="1144.6" y="2105.1" width="67.9" height="15.3" fill="#fff4ca"/>
<rect x="1261" y="2105.1" width="123" height="15.3" fill="#ead4fa"/>
<rect x="1239.3" y="2119.9" width="117.5" height="15.3" fill="#ead4fa"/>
<rect x="1429.8" y="2119.9" width="41.3" height="15.3" fill="#fff4ca"/>
<rect x="1239.3" y="2134.8" width="57.7" height="15.3" fill="#ead4fa"/>
<rect x="1350.9" y="2134.8" width="76.7" height="15.3" fill="#fff4ca"/>
<rect x="1144.6" y="2149.6" width="114.2" height="15.3" fill="#ead4fa"/>
<rect x="1350.9" y="2149.6" width="65.8" height="15.3" fill="#fff4ca"/>
<rect x="1506" y="2149.6" width="68.5" height="15.3" fill="#ead4fa"/>
<rect x="1144.6" y="2164.4" width="65.2" height="15.3" fill="#ead4fa"/>
<rect x="1497.8" y="2164.4" width="95.8" height="15.3" fill="#ead4fa"/>
<rect x="1285.5" y="2179.2" width="103.9" height="15.3" fill="#ead4fa"/>
<rect x="1497.8" y="2179.2" width="82.2" height="15.3" fill="#ead4fa"/>
<rect x="1288.3" y="2194" width="101.2" height="15.3" fill="#ead4fa"/>
<rect x="1301.9" y="2208.9" width="46.8" height="15.3" fill="#ead4fa"/>
<rect x="1457" y="2223.7" width="27.7" height="15.3" fill="#fff4ca"/>
<rect x="1601.3" y="2223.7" width="17.6" height="15.3" fill="#fff4ca"/>
<rect x="1593.1" y="2238.5" width="25.8" height="15.3" fill="#fff4ca"/>
<rect x="1312.8" y="2253.3" width="49.5" height="15.3" fill="#ead4fa"/>
<rect x="1378.1" y="2253.3" width="38.6" height="15.3" fill="#ead4fa"/>
<rect x="1451.6" y="2253.3" width="46.8" height="15.3" fill="#ead4fa"/>
<rect x="1307.3" y="2268.2" width="311.6" height="15.3" fill="#ead4fa"/>
<rect x="1301.9" y="2283" width="114.8" height="15.3" fill="#ead4fa"/>
<rect x="1416.2" y="2283" width="136.6" height="15.3" fill="#dfb7fb"/>
<rect x="1552.3" y="2283" width="66.6" height="15.3" fill="#ead4fa"/>
<rect x="1618.4" y="2090.3" width="27.3" height="15.3" fill="#ead4fa"/>
<rect x="1645.2" y="2090.3" width="150.2" height="15.3" fill="#dfb7fb"/>
<rect x="1876.6" y="2090.3" width="54.9" height="15.3" fill="#fde27a"/>
<rect x="1931" y="2090.3" width="68.5" height="15.3" fill="#fff4ca"/>
<rect x="1999.1" y="2090.3" width="93.6" height="15.3" fill="#fde27a"/>
<rect x="1650.7" y="2105.1" width="144.8" height="15.3" fill="#ead4fa"/>
<rect x="1890.2" y="2105.1" width="41.3" height="15.3" fill="#fff4ca"/>
<rect x="1999.1" y="2105.1" width="93.6" height="15.3" fill="#fff4ca"/>
<rect x="1672.4" y="2119.9" width="68.5" height="15.3" fill="#fff4ca"/>
<rect x="1803.1" y="2119.9" width="87.6" height="15.3" fill="#dfb7fb"/>
<rect x="1971.8" y="2119.9" width="90.3" height="15.3" fill="#ead4fa"/>
<rect x="2061.7" y="2119.9" width="31" height="15.3" fill="#b24cf5"/>
<rect x="1618.4" y="2134.8" width="136.2" height="15.3" fill="#fff4ca"/>
<rect x="1808.5" y="2134.8" width="82.2" height="15.3" fill="#dfb7fb"/>
<rect x="1890.2" y="2134.8" width="163.8" height="15.3" fill="#ead4fa"/>
<rect x="2053.5" y="2134.8" width="39.2" height="15.3" fill="#dfb7fb"/>
<rect x="1618.4" y="2149.6" width="81.8" height="15.3" fill="#fff4ca"/>
<rect x="1830.3" y="2149.6" width="60.4" height="15.3" fill="#ead4fa"/>
<rect x="1890.2" y="2149.6" width="202.5" height="15.3" fill="#dfb7fb"/>
<rect x="1645.2" y="2164.4" width="41.3" height="15.3" fill="#fff4ca"/>
<rect x="1830.3" y="2164.4" width="114.8" height="15.3" fill="#ead4fa"/>
<rect x="1944.6" y="2164.4" width="148.1" height="15.3" fill="#dfb7fb"/>
<rect x="1830.3" y="2179.2" width="82.2" height="15.3" fill="#ead4fa"/>
<rect x="1985.4" y="2179.2" width="107.3" height="15.3" fill="#ead4fa"/>
<rect x="1824.9" y="2194" width="60.4" height="15.3" fill="#ead4fa"/>
<rect x="1971.8" y="2194" width="120.9" height="15.3" fill="#fff4ca"/>
<rect x="1618.4" y="2208.9" width="54.5" height="15.3" fill="#fff4ca"/>
<rect x="1903.8" y="2208.9" width="68.5" height="15.3" fill="#fde27a"/>
<rect x="1971.8" y="2208.9" width="120.9" height="15.3" fill="#fff4ca"/>
<rect x="1618.4" y="2223.7" width="81.8" height="15.3" fill="#fff4ca"/>
<rect x="1770.4" y="2223.7" width="54.9" height="15.3" fill="#fff4ca"/>
<rect x="1824.9" y="2223.7" width="229.1" height="15.3" fill="#fde27a"/>
<rect x="1618.4" y="2238.5" width="207" height="15.3" fill="#fff4ca"/>
<rect x="1824.9" y="2238.5" width="229.1" height="15.3" fill="#fde27a"/>
<rect x="2053.5" y="2238.5" width="39.2" height="15.3" fill="#fff4ca"/>
<rect x="1618.4" y="2253.3" width="204.2" height="15.3" fill="#fff4ca"/>
<rect x="1822.1" y="2253.3" width="270.6" height="15.3" fill="#fde27a"/>
<rect x="1618.4" y="2268.2" width="73.6" height="15.3" fill="#ead4fa"/>
<rect x="1691.5" y="2268.2" width="131.1" height="15.3" fill="#fff4ca"/>
<rect x="1822.1" y="2268.2" width="270.6" height="15.3" fill="#fde27a"/>
<rect x="1618.4" y="2283" width="73.6" height="15.3" fill="#ead4fa"/>
<rect x="1691.5" y="2283" width="131.1" height="15.3" fill="#fff4ca"/>
<rect x="1822.1" y="2283" width="270.6" height="15.3" fill="#fde27a"/>
<mask id="mR3" maskUnits="userSpaceOnUse" x="0" y="0" width="2100" height="2521">
<polygon points="1665.8,1878.8 1771.1,1878.8 1771.1,1892 1665.8,1892" fill="#fff"/>
<polygon points="1650,1942.1 1734.2,1939.4 1776.3,1950 1776.3,1976.3 1750,1986.9 1671,1984.2 1650,1971.1" fill="#fff"/>
<polygon points="1918.5,1950 2029,1950 2029,1976.3 1918.5,1976.3" fill="#fff"/>
<polygon points="1671,2021.1 1729,2021.1 1729,2058 1671,2058" fill="#fff"/>
<polygon points="2002.7,2044.8 2018.5,2044.8 2018.5,2058 2002.7,2058" fill="#fff"/>
<polygon points="2071.1,2058 2086.9,2058 2086.9,2071.2 2071.1,2071.2" fill="#fff"/>
<polygon points="1823.7,2226.7 1971.1,2226.7 1971.1,2292.5 1802.7,2292.5 1802.7,2255.6" fill="#fff"/>
<polygon points="1950.1,2155.5 1986.9,2155.5 1986.9,2168.7 1950.1,2168.7" fill="#fff"/>
<polygon points="2071.1,2142.3 2086.9,2142.3 2086.9,2155.5 2071.1,2155.5" fill="#fff"/>
</mask>
<rect x="1144.6" y="1876.2" width="947.6" height="421.6" fill="url(#dots)" mask="url(#mR3)"/>
<defs>
<g id="llines"><path d="M-0.5 163.3L14.6 155.8L24.7 160.8L27.2 175.9L34.7 178.4L49.8 173.4L67.4 158.3L72.5 150.7L75 135.6L80 129.4L100.1 130.6L117.7 125.6L130.3 123.1L140.4 128.1L155.5 130.6L160.5 140.7L170.6 145.7L183.1 141.9L193.2 150.7L200.8 160.8L210.8 170.9L215.9 180.9L230.9 191L241 201.1L252.3 211.9L251.1 211.8L266.2 219.3L278.7 225.6L296.4 229.4L308.9 237L319 239.5L326.5 249.5L344.2 259.6L356.7 259.6L376.9 263.4L397 268.4L409.6 278.5L427.2 276L439.6 279.7L449.7 274.7L462.2 282.2L474.8 274.7L487.4 282.2L500 277.2L512.6 284.8L525.1 277.2L540.2 264.6L557.8 257.1L567.9 249.5L575.4 243.2L585.5 254.6L590.5 249.5L600.6 259.6L610.7 277.2L615.7 269.7L625.8 267.1L638.3 274.7L643.4 294.8L645.9 307.4L655.9 304.9L666 307.4L676.1 294.8L686.1 294.8L696.2 284.8L703.7 277.2L708.8 262.1L713.8 244.5L711.3 231.9L716.3 219.3L728.9 211.8L741.5 201.1L746.5 191L751.5 180.9L750.3 170.9L754.1 160.8L751.5 153.3L759.1 152L761.6 145.7L751.5 135.6L739 130.6L726.4 125.6L720.1 110.5L726.4 100.4L739 96.7L737.7 91.6L723.9 87.9L708.8 75.3L694.9 67.7L683.6 69L663.5 58.9L638.3 48.9L615.7 40.1L600.6 38.8L585.5 40.1L572.9 46.3L542.7 47.6L525.1 53.9L484.9 52.6L449.7 60.2L424.5 72.8L427.2 70.2L407 75.3L389.4 85.3L364.3 92.9L339.1 100.4L314 109.2L301.4 108L288.8 100.4L276.2 97.9L251.1 92.9L225.9 87.9L220.9 75.3L215.9 65.2L200.8 57.7L190.7 45.1L205.8 37.5L225.9 31.2L251.1 25L266.2 12.4L276.2 4.8L314 -0.2M725.1 247L732.7 262.1L730.2 282.2L736.4 306.1M676.1 274.7L678.6 287.3L673.6 307.4M650.9 284.8L652.2 297.3L649.7 312.4M170.6 -0.2L169.3 17.4L165.5 32.5L155.5 35L135.3 37.5L112.7 41.3L95.1 41.3L72.5 45.1L57.4 48.9L46 55.1L42.3 62.7L43.5 69L46 62.7L52.3 59.7L72.5 58.9L90.1 57.7L100.1 53.9L102.6 65.2L105.2 75.3L108.9 95.4L105.2 100.4L87.6 110.5L80 118L67.4 123.1L52.3 120.6L37.2 120.6L14.6 123.1L-0.5 124.3M102.6 -0.2L105.2 9.9L112.7 14.9L120.3 9.9L125.3 4.8L132.8 2.3L140.4 -0.2M-0.5 320L19.6 317.5L29.7 320L39.8 330L44.8 345.1L59.9 352.7L75 365.3L87.6 369L102.6 365.3L97.6 374.1L80 377.8L77.5 380.4L85 392.9L100.1 403L115.2 406.8L127.8 403L135.3 387.9L140.4 377.8L144.2 380.4L145.4 392.9L150.4 408L147.9 423.9M412.1 423.9L419.6 405.5L424.7 392.9L439.5 387.9L442.1 382.9L444.6 391.7L484.9 385.4L505 369L512.6 377.8L520.1 398L535.2 420.6M786.8 420.6L801.9 405.5L817 395.4L837.1 389.2L849.7 392.9L857.2 392.9L861 420.6" fill="none" stroke="#000" stroke-width="3.6" stroke-linejoin="round" stroke-linecap="round"/>
<ellipse cx="170.6" cy="9.9" rx="9.6" ry="4.5" fill="none" stroke="#000" stroke-width="3.2"/>
<ellipse cx="192" cy="11.9" rx="6" ry="4" fill="none" stroke="#000" stroke-width="3.2"/>
<ellipse cx="206.3" cy="12.4" rx="4.5" ry="4" fill="none" stroke="#000" stroke-width="3.2"/>
<ellipse cx="85" cy="159.5" rx="5.5" ry="13.1" fill="none" stroke="#000" stroke-width="3.2"/>
<ellipse cx="181.9" cy="159.5" rx="3" ry="6" fill="none" stroke="#000" stroke-width="3.2"/>
<ellipse cx="4.5" cy="135.6" rx="2" ry="3.5" fill="#000"/>
<ellipse cx="129.1" cy="119.3" rx="2" ry="3" fill="#000"/>
<ellipse cx="184.4" cy="120.6" rx="1.8" ry="4" fill="#000"/>
<ellipse cx="49.8" cy="215.6" rx="2.5" ry="3" fill="#000"/>
<ellipse cx="110.2" cy="97.9" rx="2" ry="5" fill="#000"/>
</g>
<g id="rlines"><path d="M154.8 421.6L155.8 413.7L156.9 405.8L152.7 400.5L149 397.9L139.5 398.9L132.7 392.1L127.4 387.9L118.5 388.4L110.6 390.5L100 394.7L93.7 396.3L84.2 394.2L74.2 395.2L65.8 398.4L56.3 393.1L47.4 386.3L39.5 381.5L35.8 374.7L28.4 367.3L23.7 360.5L17.4 355.7L16.8 348.9L13.2 344.1L16.3 339.9L18.4 334.6L19.5 321.5L16.3 313.6L15.8 308.8L19 303L21.6 296.2L26.8 288.8L29.5 283.5L35.8 276.1L45.3 273.5L53.2 267.7L54.2 260.3L53.7 255.6L57.9 249.8L63.2 245.1L69.5 241.9L72.6 235L74.2 232.9L79 235L89.5 235.6L99 235.6L107.9 231.9L118.5 228.7L131.6 227.7L144.8 226.6L156.9 225L163.2 227.1L160 232.9L163.7 236.6L158.5 241.4L162.1 244.5L166.4 247.2L173.7 248.2L185.3 251.4L187.9 256.1L197.4 258.8L205.3 261.9L211.1 258.2L211.1 251.4L218.5 248.2L227.4 250.3L236.9 254L247.4 256.6L258 258.8L265.9 255.6L273.8 257.2L281.6 257.7L285.9 256.6L289 250.3L290.1 247.2L292.7 240.8L294.3 234.5L295.3 229.2L292.2 228.7L287.4 227.7L281.6 230.8L273.8 229.2L266.4 227.7L260.6 230.3L252.7 227.7L249 224.5L246.9 219.2L243.7 217.7L246.4 214L243.2 210.3L245.3 208.7L250.1 208.7L258 206.1L258 204.5L253.7 202.9L252.7 200.3L251.1 197.1L252.7 191.3L255.9 188.1L261.1 183.4L264.3 179.2L268.5 176L275.3 176.5L272.7 178.7L281.6 181.3L276.4 182.9L281.6 187.1L286.9 185.5L292.2 183.9L290.1 181.3L288.5 178.1L292.7 175.5L300.1 173.9L306.9 172.9L310.6 173.9L305.3 176L306.4 178.7L302.7 182.9L304.8 185.5L308 188.1L313.2 191.3L317.4 194.5L323.8 199.2L324.3 202.4L318.5 205.5L310.6 205.5L302.7 205L297.4 203.9L292.2 201.8L286.9 200.3L279 200.3L272.7 202.9L265.9 205L259 204.5M243.7 207.6L239.5 206.1L233.2 206.1L230.6 208.2L224.8 208.2L224.3 211.9L227.4 216.1L231.6 220.3L225.8 221.9L227.4 225L225.3 228.7L221.1 227.7L219.5 227.1L216.4 221.9L219 219.2L214.3 216.6L211.1 212.4L207.4 208.2L207.9 201.3L203.2 198.2L197.4 195L189.5 192.4L185.3 188.1L181.1 183.4L177.4 180.8L170 182.3L170.6 187.6L176.9 192.4L179 197.1L185.3 200.8L189.5 203.4L197.4 206.6L202.7 210.3L199.5 210.8L194.8 208.2L192.2 212.4L195.3 216.1L190 221.3L187.4 221.3L189.5 217.7L187.9 210.8L183.7 209.7L179 206.6L171.6 203.4L164.3 198.2L160.6 195.5L159 190.2L151.6 187.6L144.8 190.8L139.5 194.5L129 192.9L121.6 195L122.1 200.8L110.6 205.5L105.8 210.8L103.7 214L106.3 217.1L102.1 223.4L95.8 227.1L94.2 228.2L81.6 228.2L75.8 231.9L72.1 227.7L66.3 225.6L58.4 226.6L59 217.7L55.8 214L59 206.1L58.4 198.7L56.3 195L63.2 191.3L74.8 191.8L85.3 192.9L95.8 192.9L99 186.6L99 179.2L93.7 173.4L82.1 169.7L80.5 166.5L89.5 164.4L96.9 165.5L97.9 159.7L106.3 160.7L113.2 157L118.5 152.3L124.2 150.2L127.4 147.6L130.6 142.3L136.9 139.7L150 139.1L151.6 134.4L150.6 129.6L147.9 123.8L150.6 120.7L161.1 117.5L160 123.3L162.7 124.9L159 128.6L156.9 131.8L162.7 134.9L168.5 136L177.9 136.5L181.6 137.5L189.5 135.4L202.7 132.8L208.5 134.9L216.9 130.7L215.8 123.8L221.1 118L229 120.7L233.7 119.6L233.2 114.4L229 109.6L239.5 107.5L252.7 108L264.3 105.9L258 104.3L242.2 103.3L226.4 105.9L217.9 101.7L218.5 92.2L223.7 85.4L234.3 80.1L239 77.5L234.8 74.8L222.7 74.8L215.8 83.3L205.3 87.5L197.4 92.2L195.8 97.5L196.4 102.2L203.7 104.3L201.6 109.1L193.2 113.3L192.2 119.6L189.5 125.4L180 129.6L173.2 129.1L171.1 124.9L167.9 118L164.3 111.2L161.1 107.5L159 110.7L150 114.4L142.1 115.9L134.8 113.3L132.7 108L131.6 102.8L131.1 97.5L132.7 93.8L139.5 90.6L147.4 88L157.9 83.8L165.8 79.1L171.1 73.8L176.4 67.5L184.3 62.2L192.2 58.5L200 54.3L210.6 52.2L226.4 49.5L241.1 46.9L255.3 48L268.5 51.1L279 55.9L294.8 57.4L310.6 61.7L319.6 64.8L322.2 69.6L315.9 72.7L308 73.3L289.5 72.2L281.6 70.1L279 73.8L288.5 74.3L286.9 81.7L300.1 84.8L304.3 82.2L318.5 81.2L315.9 76.4L326.4 71.1L336.9 73.3L338.5 64.8L334.3 60.6L347.5 62.2L358 64.8L368.5 63.2L384.3 61.7L392.2 62.2L400.1 60.1L410.6 58.5L418.5 61.1L426.4 55.9L442.2 55.9L455.4 51.6L458 47.4L465.9 38.5L471.2 37.4L481.7 37.9L488.5 42.2L487 49.5L488 58L492.2 63.2L492.2 55.3L494.9 44.8L500.1 39.5L505.4 40.6L515.9 40.1L529.1 34.3L537 32.7L547.5 33.2L560.7 29.5L563.3 25.8L579.1 23.2L605.4 21.1L621.2 19.5L637 17.4L653.8 12.1L663.3 14.2L668.6 18.4L689.6 17.9L702.8 21.6L702.8 34.3L721.2 33.7L731.8 36.9L752.8 36.4L771.8 39.5L781.8 36.9L787 42.2L784.9 47.4L794.9 48.5L803.4 43.2L816 44.3L831.8 44.3L842.3 40.1L847.6 38.5L873.9 40.6L895 44.3L905.5 48.5L926.5 47.4L947.6 49.5M276.4 264L277.4 271.4L282.2 277.7L285.9 284.6L291.1 292.5L293.8 300.4L299.5 306.7L301.7 313.6L302.2 321.5L308 326.7L311.7 336.2L314.8 341L322.2 348.9L328 354.1L333.2 356.3L333.2 359.4L338.5 366.3L345.3 365.2L352.7 362.6L362.2 362L371.1 358.9L375.4 359.4L373.8 366.8L371.1 374.2L366.4 384.7L360.6 395.2L354.8 401L347.5 409.5L336.9 417.4L330.1 421.6M276.4 264L279 268.8L283.2 274.6L285.9 275.1L287.4 269.3L289 266.1L288.5 273L290.6 275.1L295.9 281.9L300.1 288.8L306.4 295.1L311.1 303.6L311.7 309.3L314.8 315.1L320.1 321.5L323.8 327.8L328 334.6L330.6 342.6L332.7 351L334.3 354.7L339.6 354.1L345.3 351.5L355.3 348.3L363.8 345.2L373.8 341.5L380.1 337.8L386.9 333.6L396.4 329.4L402.7 326.7L409 321.5L413.3 313.6L418 306.7L420.1 303L414.8 297.8L408 296.2L402.2 292.5L402.2 283.5L400.1 287.2L395.9 288.8L391.7 293.5L382.2 294.1L376.9 294.1L374.8 287.7L376.4 284.6L373.8 283.5L372.7 290.9L369.6 286.7L368.5 281.4L363.8 277.2L360.6 271.4L357.5 264L362.2 263L365.9 263.5L369.6 262.4L373.2 269.3L376.9 274.6L384.3 279.3L393.8 281.9L401.7 278.8L406.9 284.6L409.6 286.7L418.5 287.7L429.6 288.8L436.9 288.8L444.8 288.8L455.4 287.7L459.1 290.9L461.2 295.6L465.4 297.8L467.5 302.5L473.8 302L468.5 304.6L469.6 306.2L475.4 310.9L481.7 312L487.5 308.8L488 304.6L489.1 307.8L489.1 316.2L488.5 321.5L491.2 332L493.8 339.9L497.5 350.5L500.1 356.8L504.3 364.7L507 371L510.7 376.8L513.8 378.9L517 374.7L521.2 372.6L522.8 367.3L525.4 361L527.5 353.1L528 345.2L527 339.9L531.7 338.3L534.3 335.2L538.6 332L544.9 326.7L550.1 321.5L555.4 317.8L560.7 314.6L563.3 308.3L569.6 307.2L573.8 306.2L580.7 305.7L584.4 302.5L588.6 304.1L590.1 309.9L591.7 313L595.4 317.3L599.1 321.5L602.3 326.7L601.7 335.7L604.4 338.3L607.5 338.3L611.7 334.1L615.9 333.1L619.1 334.6L620.2 341.5L622.3 350.5L624.4 358.4L624.9 366.3L622.8 374.2L622.8 379.4L626.5 383.1L632.3 387.9L633.8 395.2L634.9 399.5L638.6 406.8L644.9 411.6L650.2 414.7L653.8 414.2L650.7 407.9L649.6 399.5L647.5 392.1L643.3 388.9L637.5 385.2L633.8 382.6L631.7 376.3L629.1 372.1L627.5 365.7L629.1 360.5L631.2 354.1L632.3 350.5L636.5 351L636.5 355.2L641.2 355.2L645.4 357.8L647 361.5L650.7 366.3L654.9 366.8L658.1 371L657 375.8L661.2 374.7L667 370L668.1 366.8L673.8 364.7L678.6 362L680.2 355.7L680.7 350.5L679.1 342.6L676.5 338.3L671.2 333.6L666 327.8L662.3 322L663.3 316.7L666.5 313.6L671.2 309.3L675.4 307.8L682.3 307.8L683.9 314.1L686 314.6L687.5 309.9L693.3 307.8L700.2 304.6L705.4 304.1L713.3 301.4L718.6 300.4L723.9 296.7L729.1 292.5L733.3 287.2L734.9 282.5L738.6 277.7L742.3 272.5L747 267.2L744.9 260.9L747 258.2L743.9 253L741.8 248.7L739.1 242.9L733.9 239.3L734.9 234.5L740.2 231.4L749.7 227.1L745.4 224L739.7 222.9L733.3 225.6L731.2 223.4L731.2 219.8L725.4 218.2L724.4 215L729.7 215L734.4 211.3L739.7 208.7L744.9 206.1L748.6 208.2L743.3 213.4L745.4 216.6L749.1 214L754.4 212.4L759.7 211.3L762.3 212.9L765.5 214L764.4 218.2L768.6 222.4L771.8 225.6L770.7 230.3L771.2 236.1L770.7 239.8L776.5 239.3L781.8 237.1L786 235.6L787 230.8L786.5 226.1L782.8 220.8L780.7 217.7L776.5 214L778.1 211.3L782.3 209.2L788.1 206.1L788.6 201.3L791.8 198.7L794.9 196L800.2 193.9L805.5 196L813.4 193.4L819.1 188.7L825.5 183.4L830.7 178.1L834.9 172.3L839.7 167.6L843.9 163.4L844.9 157.6L845.5 151.8L849.7 146L847.6 141.8L842.3 140.7L836.5 137.5L830.2 138.6L827.6 137L825.5 133.9L829.1 129.1L834.4 125.4L842.3 119.6L850.2 112.8L856 109.6L866 108.6L876.5 108.6L887.1 109.1L896.5 107.5L905.5 110.1L916 109.6L921.3 109.1L925.5 102.8L931.8 97.5L939.7 95.9L947.6 95.4M947.6 102.8L945 105.4L937.1 114.9L930.8 118L926.5 122.3L925 130.2L925.5 137L928.1 145.5L930.2 152.3L934.4 150.7L939.7 143.3L946.5 141.2L947.6 137M75.3 157.6L81.6 156.5L86.9 154.9L94.8 154.9L102.7 153.9L112.7 151.8L110 149.7L114.2 145.5L114.2 142.8L106.9 142.3L106.3 139.1L103.7 136.5L101.1 133.9L97.4 130.2L94.8 127L91.1 126L94.8 122.3L95.8 118.6L89.5 117.5L84.2 117.5L89 112.8L79 112.8L77.4 116.5L75.3 119.6L75.8 123.3L72.6 124.9L76.3 128.1L79.5 128.1L78.4 131.8L83.2 132.8L87.4 132.3L88.4 135.4L89.5 139.1L87.9 140.7L81.1 140.7L82.1 143.3L83.7 146L78.4 148.6L84.2 149.7L89.5 150.2L83.2 151.8L78.4 152.8L75.3 157.6M73.7 146.5L73.2 142.3L72.6 139.1L74.2 133.9L72.1 130.7L66.3 130.2L61.6 130.7L60 134.4L52.6 136L54.8 139.1L51.6 140.7L56.3 143.9L51.1 147L53.7 149.7L60.5 149.7L68.4 147L73.7 146.5M0 87L7.9 87.5L18.4 85.4L26.3 82.7L33.7 79.1L29 75.9L27.4 72.7L20 71.1L13.2 73.3L5.3 73.3L0 73.8M0 53.8L-9.5 50.6L-8.9 44.8L-9.5 39L-2.6 34.3L1.1 29L6.3 23.7L8.9 17.4L4.2 13.2L7.9 7.9L11.6 3.2L7.9 0M163.2 7.4L173.7 9.5L186.9 15.8L193.7 17.9L197.4 13.2L205.3 9.5L215.8 7.4L210.6 3.7L200 1.1L179 1.1L165.8 1.1L162.1 4.2L163.2 7.4M202.7 0L213.2 3.2L226.4 3.7L247.4 1.6L236.9 0M381.7 45.8L386.9 49L400.1 49.5L408 49L400.1 45.3L397.5 40.6L402.7 35.8L410.6 31.6L421.2 26.4L431.7 23.2L442.2 20.6L452.7 18.4L465.9 16.3L460.6 15.3L442.2 15.8L426.4 19.5L413.3 23.7L400.1 29L392.2 34.3L389.6 39.5L381.7 45.8M610.7 2.6L621.2 7.9L637 6.3L652.8 4.2L642.3 0.5L626.5 0M821.3 23.7L834.4 20.6L847.6 22.1L842.3 26.4L829.1 26.4L821.3 23.7M855.5 23.7L871.3 23.2L887.1 24.8L873.9 27.4L858.1 26.9L855.5 23.7M852.8 179.2L860.2 176L859.2 162.3L866.5 163.4L859.2 148.6L859.2 140.7L856 135.4L853.9 142.3L851.3 150.2L853.4 163.4L852.3 169.7L852.8 179.2M842.3 202.9L848.6 201.3L850.7 197.1L859.2 200.3L866 195L871.3 193.4L868.1 189.7L860.7 188.7L852.8 182.3L850.7 183.4L851.3 190.2L848.6 193.9L844.4 193.4L841.8 197.6L842.3 202.9M794.9 240.8L799.1 237.1L805.5 234.5L813.4 234L818.6 234L821.3 231.9L825.5 226.6L828.1 227.7L833.4 224.5L839.7 220.3L841.8 213.4L842.3 208.2L846 204.5L850.2 203.4L850.2 208.2L852.8 213.4L850.2 219.8L847.6 224L847 229.2L845.5 233.5L842.3 237.1L838.1 236.1L836 239.3L829.1 239.3L825.5 240.8L820.2 245.1L816.5 240.8L811.8 239.3L805.5 240.3L800.2 242.9L794.9 240.8M788.6 246.1L794.4 242.9L798.6 246.1L799.7 253L796 256.6L790.7 257.7L790.7 250.9L788.6 246.1M802.8 246.6L806.5 241.9L813.9 241.4L813.9 244L809.1 245.6L804.9 249.3L802.8 246.6M737.5 300.4L740.7 305.7L743.3 301.4L746 294.6L747 289.9L743.3 288.8L739.1 293.5L737.5 300.4M677.5 320.4L681.2 316.2L687.5 316.2L689.6 318.3L686.5 323.6L681.2 325.7L677.5 323.6L677.5 320.4M525.4 388.9L525.4 379.4L526.4 370L530.7 373.1L533.3 377.3L535.9 383.1L534.9 387.9L529.6 390.5L525.4 388.9M740.2 324.1L748.6 324.1L749.7 332L745.4 337.8L747 344.7L752.3 346.8L757.6 348.9L758.6 355.2L753.9 352L750.2 348.3L745.4 348.3L740.2 345.7L741.8 343.6L737 337.3L739.1 334.1L740.2 324.1M747.6 384.7L752.8 379.4L758.1 377.9L764.9 370.5L771.2 377.9L771.2 384.7L767 392.1L763.3 388.9L758.1 386.8L755.4 381L749.7 382.6L747.6 384.7M747.6 359.4L752.3 364.7L752.8 371L749.7 371L747.6 365.7L747 360.5L747.6 359.4M759.7 355.7L766 358.4L763.9 367.8L760.2 365.7L759.7 355.7M734.4 362L733.3 367.3L727.5 374.2L722.3 377.9L725.4 373.1L731.2 366.8L734.4 362M738.1 350.5L744.4 352L744.9 356.8L740.2 355.2L738.1 350.5M678.6 421.6L679.1 413.7L682.8 411.1L689.6 413.2L694.9 406.3L701.2 404.7L706.5 397.9L712.8 395.2L716 390L719.6 384.7L724.4 387.9L728.1 391L733.3 394.2L728.1 398.9L724.4 404.2L726.5 409.5L730.7 415.8L726 417.4L723.9 421.6M607 392.1L613.3 394.2L618.6 394.2L624.9 401.6L631.7 407.9L637 411.1L644.9 416.3L650.2 420L651.2 421.6M607 392.1L608 397.4L613.3 402.1L619.1 409L624.9 413.2L628 419L630.2 421.6M739.7 421.6L741.8 414.7L750.2 416.3L760.7 416.3L764.4 413.7L760.7 419.5L754.4 420L744.9 419L739.7 421.6M351.7 187.1L355.3 192.4L355.3 196L361.1 201.3L365.9 208.2L364.8 214.5L362.7 219.2L363.8 223.4L369.6 225L378 228.2L389 227.1L389 222.4L384.8 214.5L387.5 210.8L383.3 204.5L382.2 200.3L375.4 194.5L370.6 188.1L375.4 183.4L384.3 182.9L384.3 175.5L375.4 173.4L364.3 177.1L358 179.2L354.3 181.3L351.7 187.1M412.2 181.3L414.8 176L426.4 176L430.1 182.3L424.3 189.7L415.9 191.8L412.2 187.6L412.2 181.3M491.7 176L497.5 174.4L505.4 176L513.3 177.6L522.2 179.2L520.1 180.8L510.7 179.7L502.8 177.6L495.9 177.6L491.7 176M651.7 149.7L655.9 150.2L663.3 146.5L671.2 142.3L679.1 134.4L683.3 127.5L680.2 128.1L675.4 137L667.5 142.3L658.1 146.5L651.7 149.7M150.6 203.4L154.8 203.4L155.3 196L150.6 198.7L150.6 203.4M149.5 216.1L155.8 215.5L156.9 206.1L148.5 205.5L149.5 216.1M170.6 220.8L187.4 219.8L184.8 228.2L170.6 223.4L170.6 220.8M229 235.6L243.7 236.1L235.8 237.1L229 235.6M275.3 238.7L287.4 233.5L283.8 237.7L275.3 238.7M117.9 212.9L123.2 211.9L121.1 214.5L117.9 212.9M872.8 191.3L879.2 188.1M883.4 185.5L889.2 182.3M892.8 179.7L898.1 177.6M902.3 175L906.5 172.9M777 284.1L780.7 280.4M593.3 361L594.4 355.7L594.4 349.9M598 384.7L599.6 379.4M769.7 246.1L773.3 245.3L769.7 246.1M160.6 131.8L171.6 127L168.5 130.7L160.6 131.8M455.4 233.8L471.9 231.7L482.9 232.4L499.3 240.6L517.2 257.1L529.5 264L543.2 270.8L559.7 274.9L576.1 277.7L589.9 276.3L598.1 270.8L606.4 266.7L615.9 272.2L626.9 281.8L637.9 279L644.8 268.1L650.3 254.4L655.7 242L646.2 229.7L650.3 225.6L639.3 218.7L626.9 213.2L613.2 210.4L599.5 211.8L572 218L544.6 226.9L532.2 229.7L517.2 224.9L507.5 220.1L500.7 212.5L521.3 203.6L544.6 197.4L565.2 195.4M476 200.8L496.6 197.4L517.2 194L543.2 191.2L551.5 189.2L565.2 192.6L563.8 196.7L544.6 197.4M491.8 182.3L496.6 176.1L521.3 174.8M459.5 218.7L469.1 214.5L476 211.8L493.8 207.7M476 214.5L477.4 225.6L469.1 232.4L466.4 243.4L455.4 246.1M644.8 268.1L647.5 276.3L648.9 284.5" fill="none" stroke="#000" stroke-width="3.3" stroke-linejoin="round" stroke-linecap="round"/></g>
</defs>
<svg x="135.5" y="91.2" width="860.9" height="421.6" overflow="hidden"><use href="#llines"/></svg>
<svg x="1144.6" y="91.2" width="947.6" height="421.6" overflow="hidden"><use href="#rlines"/></svg>
<svg x="135.5" y="686.2" width="860.9" height="421.6" overflow="hidden"><use href="#llines"/></svg>
<svg x="1144.6" y="686.2" width="947.6" height="421.6" overflow="hidden"><use href="#rlines"/></svg>
<svg x="135.5" y="1281.2" width="860.9" height="421.6" overflow="hidden"><use href="#llines"/></svg>
<svg x="1144.6" y="1281.2" width="947.6" height="421.6" overflow="hidden"><use href="#rlines"/></svg>
<svg x="135.5" y="1876.2" width="860.9" height="421.6" overflow="hidden"><use href="#llines"/></svg>
<svg x="1144.6" y="1876.2" width="947.6" height="421.6" overflow="hidden"><use href="#rlines"/></svg>
<rect x="135.5" y="91.2" width="860.9" height="421.6" fill="none" stroke="#000" stroke-width="3.4"/>
<rect x="1144.6" y="91.2" width="947.6" height="421.6" fill="none" stroke="#000" stroke-width="3.4"/>
<path d="M135.5 512.8v7.5M231.2 512.8v7.5M326.8 512.8v7.5M422.5 512.8v15M518.1 512.8v7.5M613.8 512.8v7.5M709.4 512.8v7.5M805.1 512.8v15M900.7 512.8v7.5M996.4 512.8v7.5M135.5 512.8h-15M135.5 474.5h-7.5M135.5 436.1h-7.5M135.5 397.8h-7.5M135.5 359.5h-7.5M135.5 321.2h-15M135.5 282.8h-7.5M135.5 244.5h-7.5M135.5 206.2h-7.5M135.5 167.9h-7.5M135.5 129.5h-15M135.5 91.2h-7.5M1144.6 512.8v7.5M1197.2 512.8v7.5M1249.9 512.8v15M1302.5 512.8v7.5M1355.2 512.8v7.5M1407.8 512.8v7.5M1460.5 512.8v7.5M1513.1 512.8v7.5M1565.8 512.8v15M1618.4 512.8v7.5M1671 512.8v7.5M1723.7 512.8v7.5M1776.3 512.8v7.5M1829 512.8v7.5M1881.6 512.8v15M1934.3 512.8v7.5M1986.9 512.8v7.5M2039.6 512.8v7.5M2092.2 512.8v7.5M1144.6 512.8h-15M1144.6 460.1h-7.5M1144.6 407.4h-7.5M1144.6 354.7h-15M1144.6 302h-7.5M1144.6 249.3h-7.5M1144.6 196.6h-15M1144.6 143.9h-7.5M1144.6 91.2h-7.5" stroke="#000" stroke-width="2.6" fill="none"/>
<g style="font-family:'Liberation Sans',Arial,Helvetica,sans-serif" font-size="47.3" fill="#000">
<text x="92.5" y="145.7" text-anchor="end">40N</text>
<text x="92.5" y="337.4" text-anchor="end">30N</text>
<text x="92.5" y="529" text-anchor="end">20N</text>
<text x="422.5" y="593.8" text-anchor="middle">80E</text>
<text x="805.1" y="593.8" text-anchor="middle">100E</text>
<text x="1100.3" y="212.8" text-anchor="end">60N</text>
<text x="1100.3" y="370.9" text-anchor="end">30N</text>
<text x="1100.3" y="529" text-anchor="end">0</text>
<text x="1249.9" y="593.8" text-anchor="middle">0</text>
<text x="1565.8" y="593.8" text-anchor="middle">60E</text>
<text x="1881.6" y="593.8" text-anchor="middle">120E</text>
<text x="566" y="60.2" text-anchor="middle">ssp245</text>
<text x="1618.4" y="60.2" text-anchor="middle">ssp245</text>
</g>
<g style="font-family:'Liberation Sans',Arial,Helvetica,sans-serif" font-size="49.5" font-weight="bold" fill="#000">
<text x="17.5" y="40.2">a</text>
<text x="1015" y="40.2">b</text>
</g>
<rect x="135.5" y="686.2" width="860.9" height="421.6" fill="none" stroke="#000" stroke-width="3.4"/>
<rect x="1144.6" y="686.2" width="947.6" height="421.6" fill="none" stroke="#000" stroke-width="3.4"/>
<path d="M135.5 1107.8v7.5M231.2 1107.8v7.5M326.8 1107.8v7.5M422.5 1107.8v15M518.1 1107.8v7.5M613.8 1107.8v7.5M709.4 1107.8v7.5M805.1 1107.8v15M900.7 1107.8v7.5M996.4 1107.8v7.5M135.5 1107.8h-15M135.5 1069.5h-7.5M135.5 1031.1h-7.5M135.5 992.8h-7.5M135.5 954.5h-7.5M135.5 916.2h-15M135.5 877.8h-7.5M135.5 839.5h-7.5M135.5 801.2h-7.5M135.5 762.9h-7.5M135.5 724.5h-15M135.5 686.2h-7.5M1144.6 1107.8v7.5M1197.2 1107.8v7.5M1249.9 1107.8v15M1302.5 1107.8v7.5M1355.2 1107.8v7.5M1407.8 1107.8v7.5M1460.5 1107.8v7.5M1513.1 1107.8v7.5M1565.8 1107.8v15M1618.4 1107.8v7.5M1671 1107.8v7.5M1723.7 1107.8v7.5M1776.3 1107.8v7.5M1829 1107.8v7.5M1881.6 1107.8v15M1934.3 1107.8v7.5M1986.9 1107.8v7.5M2039.6 1107.8v7.5M2092.2 1107.8v7.5M1144.6 1107.8h-15M1144.6 1055.1h-7.5M1144.6 1002.4h-7.5M1144.6 949.7h-15M1144.6 897h-7.5M1144.6 844.3h-7.5M1144.6 791.6h-15M1144.6 738.9h-7.5M1144.6 686.2h-7.5" stroke="#000" stroke-width="2.6" fill="none"/>
<g style="font-family:'Liberation Sans',Arial,Helvetica,sans-serif" font-size="47.3" fill="#000">
<text x="92.5" y="740.7" text-anchor="end">40N</text>
<text x="92.5" y="932.4" text-anchor="end">30N</text>
<text x="92.5" y="1124" text-anchor="end">20N</text>
<text x="422.5" y="1188.8" text-anchor="middle">80E</text>
<text x="805.1" y="1188.8" text-anchor="middle">100E</text>
<text x="1100.3" y="807.8" text-anchor="end">60N</text>
<text x="1100.3" y="965.9" text-anchor="end">30N</text>
<text x="1100.3" y="1124" text-anchor="end">0</text>
<text x="1249.9" y="1188.8" text-anchor="middle">0</text>
<text x="1565.8" y="1188.8" text-anchor="middle">60E</text>
<text x="1881.6" y="1188.8" text-anchor="middle">120E</text>
<text x="566" y="655.2" text-anchor="middle">ssp245-aer</text>
<text x="1618.4" y="655.2" text-anchor="middle">ssp245-aer</text>
</g>
<g style="font-family:'Liberation Sans',Arial,Helvetica,sans-serif" font-size="49.5" font-weight="bold" fill="#000">
<text x="17.5" y="635.2">c</text>
<text x="1015" y="635.2">d</text>
</g>
<rect x="135.5" y="1281.2" width="860.9" height="421.6" fill="none" stroke="#000" stroke-width="3.4"/>
<rect x="1144.6" y="1281.2" width="947.6" height="421.6" fill="none" stroke="#000" stroke-width="3.4"/>
<path d="M135.5 1702.8v7.5M231.2 1702.8v7.5M326.8 1702.8v7.5M422.5 1702.8v15M518.1 1702.8v7.5M613.8 1702.8v7.5M709.4 1702.8v7.5M805.1 1702.8v15M900.7 1702.8v7.5M996.4 1702.8v7.5M135.5 1702.8h-15M135.5 1664.5h-7.5M135.5 1626.1h-7.5M135.5 1587.8h-7.5M135.5 1549.5h-7.5M135.5 1511.2h-15M135.5 1472.8h-7.5M135.5 1434.5h-7.5M135.5 1396.2h-7.5M135.5 1357.9h-7.5M135.5 1319.5h-15M135.5 1281.2h-7.5M1144.6 1702.8v7.5M1197.2 1702.8v7.5M1249.9 1702.8v15M1302.5 1702.8v7.5M1355.2 1702.8v7.5M1407.8 1702.8v7.5M1460.5 1702.8v7.5M1513.1 1702.8v7.5M1565.8 1702.8v15M1618.4 1702.8v7.5M1671 1702.8v7.5M1723.7 1702.8v7.5M1776.3 1702.8v7.5M1829 1702.8v7.5M1881.6 1702.8v15M1934.3 1702.8v7.5M1986.9 1702.8v7.5M2039.6 1702.8v7.5M2092.2 1702.8v7.5M1144.6 1702.8h-15M1144.6 1650.1h-7.5M1144.6 1597.4h-7.5M1144.6 1544.7h-15M1144.6 1492h-7.5M1144.6 1439.3h-7.5M1144.6 1386.6h-15M1144.6 1333.9h-7.5M1144.6 1281.2h-7.5" stroke="#000" stroke-width="2.6" fill="none"/>
<g style="font-family:'Liberation Sans',Arial,Helvetica,sans-serif" font-size="47.3" fill="#000">
<text x="92.5" y="1335.7" text-anchor="end">40N</text>
<text x="92.5" y="1527.4" text-anchor="end">30N</text>
<text x="92.5" y="1719" text-anchor="end">20N</text>
<text x="422.5" y="1783.8" text-anchor="middle">80E</text>
<text x="805.1" y="1783.8" text-anchor="middle">100E</text>
<text x="1100.3" y="1402.8" text-anchor="end">60N</text>
<text x="1100.3" y="1560.9" text-anchor="end">30N</text>
<text x="1100.3" y="1719" text-anchor="end">0</text>
<text x="1249.9" y="1783.8" text-anchor="middle">0</text>
<text x="1565.8" y="1783.8" text-anchor="middle">60E</text>
<text x="1881.6" y="1783.8" text-anchor="middle">120E</text>
<text x="566" y="1250.2" text-anchor="middle">ssp245-GHG</text>
<text x="1618.4" y="1250.2" text-anchor="middle">ssp245-GHG</text>
</g>
<g style="font-family:'Liberation Sans',Arial,Helvetica,sans-serif" font-size="49.5" font-weight="bold" fill="#000">
<text x="17.5" y="1230.2">e</text>
<text x="1015" y="1230.2">f</text>
</g>
<rect x="135.5" y="1876.2" width="860.9" height="421.6" fill="none" stroke="#000" stroke-width="3.4"/>
<rect x="1144.6" y="1876.2" width="947.6" height="421.6" fill="none" stroke="#000" stroke-width="3.4"/>
<path d="M135.5 2297.8v7.5M231.2 2297.8v7.5M326.8 2297.8v7.5M422.5 2297.8v15M518.1 2297.8v7.5M613.8 2297.8v7.5M709.4 2297.8v7.5M805.1 2297.8v15M900.7 2297.8v7.5M996.4 2297.8v7.5M135.5 2297.8h-15M135.5 2259.5h-7.5M135.5 2221.1h-7.5M135.5 2182.8h-7.5M135.5 2144.5h-7.5M135.5 2106.2h-15M135.5 2067.8h-7.5M135.5 2029.5h-7.5M135.5 1991.2h-7.5M135.5 1952.9h-7.5M135.5 1914.5h-15M135.5 1876.2h-7.5M1144.6 2297.8v7.5M1197.2 2297.8v7.5M1249.9 2297.8v15M1302.5 2297.8v7.5M1355.2 2297.8v7.5M1407.8 2297.8v7.5M1460.5 2297.8v7.5M1513.1 2297.8v7.5M1565.8 2297.8v15M1618.4 2297.8v7.5M1671 2297.8v7.5M1723.7 2297.8v7.5M1776.3 2297.8v7.5M1829 2297.8v7.5M1881.6 2297.8v15M1934.3 2297.8v7.5M1986.9 2297.8v7.5M2039.6 2297.8v7.5M2092.2 2297.8v7.5M1144.6 2297.8h-15M1144.6 2245.1h-7.5M1144.6 2192.4h-7.5M1144.6 2139.7h-15M1144.6 2087h-7.5M1144.6 2034.3h-7.5M1144.6 1981.6h-15M1144.6 1928.9h-7.5M1144.6 1876.2h-7.5" stroke="#000" stroke-width="2.6" fill="none"/>
<g style="font-family:'Liberation Sans',Arial,Helvetica,sans-serif" font-size="47.3" fill="#000">
<text x="92.5" y="1930.7" text-anchor="end">40N</text>
<text x="92.5" y="2122.4" text-anchor="end">30N</text>
<text x="92.5" y="2314" text-anchor="end">20N</text>
<text x="422.5" y="2378.8" text-anchor="middle">80E</text>
<text x="805.1" y="2378.8" text-anchor="middle">100E</text>
<text x="1100.3" y="1997.8" text-anchor="end">60N</text>
<text x="1100.3" y="2155.9" text-anchor="end">30N</text>
<text x="1100.3" y="2314" text-anchor="end">0</text>
<text x="1249.9" y="2378.8" text-anchor="middle">0</text>
<text x="1565.8" y="2378.8" text-anchor="middle">60E</text>
<text x="1881.6" y="2378.8" text-anchor="middle">120E</text>
<text x="566" y="1845.2" text-anchor="middle">ssp245-nat</text>
<text x="1618.4" y="1845.2" text-anchor="middle">ssp245-nat</text>
</g>
<g style="font-family:'Liberation Sans',Arial,Helvetica,sans-serif" font-size="49.5" font-weight="bold" fill="#000">
<text x="17.5" y="1825.2">g</text>
<text x="1015" y="1825.2">h</text>
</g>
<rect x="152.3" y="2418.2" width="82.7" height="50.1" fill="#543005"/>
<rect x="235" y="2418.2" width="82.7" height="50.1" fill="#8c510a"/>
<rect x="317.7" y="2418.2" width="82.7" height="50.1" fill="#bf812d"/>
<rect x="400.4" y="2418.2" width="82.7" height="50.1" fill="#dfc27d"/>
<rect x="483.1" y="2418.2" width="82.7" height="50.1" fill="#f6e8c3"/>
<rect x="565.8" y="2418.2" width="82.7" height="50.1" fill="#c7eae5"/>
<rect x="648.5" y="2418.2" width="82.7" height="50.1" fill="#80cdc1"/>
<rect x="731.2" y="2418.2" width="82.7" height="50.1" fill="#35978f"/>
<rect x="813.9" y="2418.2" width="82.7" height="50.1" fill="#01665e"/>
<rect x="896.6" y="2418.2" width="82.7" height="50.1" fill="#003c30"/>
<path d="M235 2418.2V2468.3M317.7 2418.2V2468.3M400.4 2418.2V2468.3M483.1 2418.2V2468.3M565.8 2418.2V2468.3M648.5 2418.2V2468.3M731.2 2418.2V2468.3M813.9 2418.2V2468.3M896.6 2418.2V2468.3" stroke="#000" stroke-width="2"/>
<rect x="152.3" y="2418.2" width="827" height="50.1" fill="none" stroke="#000" stroke-width="2.4"/>
<g style="font-family:'Liberation Sans',Arial,Helvetica,sans-serif" font-size="43.5" fill="#000" text-anchor="middle">
<text x="235" y="2514.3">-6</text>
<text x="400.4" y="2514.3">-2</text>
<text x="565.8" y="2514.3">0</text>
<text x="731.2" y="2514.3">2</text>
<text x="896.6" y="2514.3">6</text>
</g>
<rect x="1152.1" y="2418.2" width="84.7" height="50.3" fill="#4f0a78"/>
<rect x="1236.8" y="2418.2" width="84.7" height="50.3" fill="#8c12dc"/>
<rect x="1321.5" y="2418.2" width="84.7" height="50.3" fill="#b24cf5"/>
<rect x="1406.3" y="2418.2" width="84.7" height="50.3" fill="#dfb7fb"/>
<rect x="1491" y="2418.2" width="84.7" height="50.3" fill="#ead4fa"/>
<rect x="1575.7" y="2418.2" width="84.7" height="50.3" fill="#ffffff"/>
<rect x="1660.4" y="2418.2" width="84.7" height="50.3" fill="#fff4ca"/>
<rect x="1745.1" y="2418.2" width="84.7" height="50.3" fill="#fde27a"/>
<rect x="1829.8" y="2418.2" width="84.7" height="50.3" fill="#fbae3a"/>
<rect x="1914.6" y="2418.2" width="84.7" height="50.3" fill="#fa7008"/>
<rect x="1999.3" y="2418.2" width="84.7" height="50.3" fill="#e32b22"/>
<path d="M1236.8 2418.2V2468.5M1321.5 2418.2V2468.5M1406.3 2418.2V2468.5M1491 2418.2V2468.5M1575.7 2418.2V2468.5M1660.4 2418.2V2468.5M1745.1 2418.2V2468.5M1829.8 2418.2V2468.5M1914.6 2418.2V2468.5M1999.3 2418.2V2468.5" stroke="#000" stroke-width="2"/>
<rect x="1152.1" y="2418.2" width="931.9" height="50.3" fill="none" stroke="#000" stroke-width="2.4"/>
<g style="font-family:'Liberation Sans',Arial,Helvetica,sans-serif" font-size="43.5" fill="#000" text-anchor="middle">
<text x="1236.8" y="2514.5">-0.2</text>
<text x="1406.3" y="2514.5">-0.08</text>
<text x="1575.7" y="2514.5">-0.02</text>
<text x="1745.1" y="2514.5">0.04</text>
<text x="1914.6" y="2514.5">0.12</text>
</g>
</svg></body></html>
